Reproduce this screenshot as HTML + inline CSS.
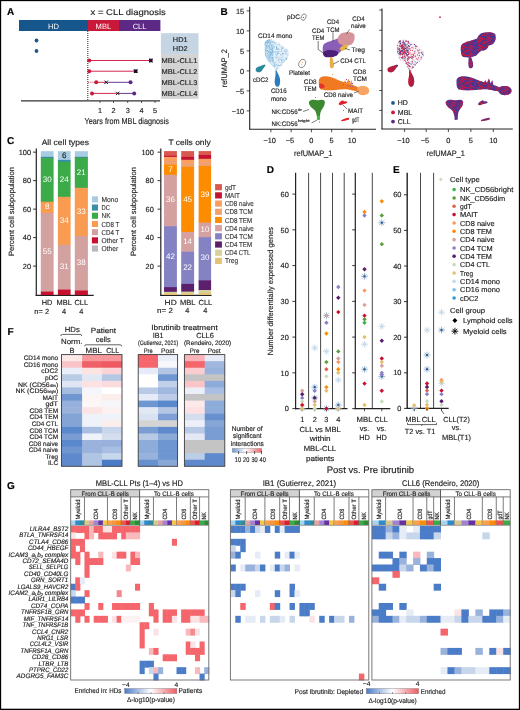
<!DOCTYPE html>
<html><head><meta charset="utf-8"><style>
html,body{margin:0;padding:0;background:#fff;}
svg{display:block;will-change:transform;}
text{font-family:"Liberation Sans", sans-serif;text-rendering:geometricPrecision;}
</style></head><body>
<svg width="520" height="710" viewBox="0 0 520 710">
<rect width="520" height="710" fill="#fff"/>
<text x="7.00" y="14.50" font-size="10" font-weight="bold" fill="#000" stroke="#000" stroke-width="0.15" >A</text>
<text x="90.60" y="14.51" font-size="8.4" textLength="75.20" lengthAdjust="spacingAndGlyphs" fill="#222" stroke="#222" stroke-width="0.15" >x = CLL diagnosis</text>
<rect x="19.00" y="20.00" width="69.00" height="11.00" fill="#17568c" />
<rect x="88.00" y="20.00" width="31.00" height="11.00" fill="#cc1838" />
<rect x="119.00" y="20.00" width="41.40" height="11.00" fill="#5c2a84" />
<text x="53.50" y="28.52" font-size="7.6" text-anchor="middle" fill="#fff" >HD</text>
<text x="103.40" y="28.52" font-size="7.6" text-anchor="middle" fill="#fff" >MBL</text>
<text x="139.60" y="28.52" font-size="7.6" text-anchor="middle" fill="#fff" >CLL</text>
<rect x="160.90" y="33.20" width="37.60" height="20.90" fill="#c5d5e3" />
<rect x="160.90" y="54.10" width="37.60" height="44.70" fill="#d3d3d3" />
<text x="180.20" y="42.11" font-size="7" text-anchor="middle" textLength="14.80" lengthAdjust="spacingAndGlyphs" fill="#222" stroke="#222" stroke-width="0.15" >HD1</text>
<text x="180.20" y="51.41" font-size="7" text-anchor="middle" textLength="14.80" lengthAdjust="spacingAndGlyphs" fill="#222" stroke="#222" stroke-width="0.15" >HD2</text>
<text x="161.60" y="62.81" font-size="7" textLength="35.70" lengthAdjust="spacingAndGlyphs" fill="#222" stroke="#222" stroke-width="0.15" >MBL-CLL1</text>
<text x="161.60" y="73.71" font-size="7" textLength="35.70" lengthAdjust="spacingAndGlyphs" fill="#222" stroke="#222" stroke-width="0.15" >MBL-CLL2</text>
<text x="161.60" y="84.81" font-size="7" textLength="35.70" lengthAdjust="spacingAndGlyphs" fill="#222" stroke="#222" stroke-width="0.15" >MBL-CLL3</text>
<text x="161.60" y="95.91" font-size="7" textLength="35.70" lengthAdjust="spacingAndGlyphs" fill="#222" stroke="#222" stroke-width="0.15" >MBL-CLL4</text>
<line x1="87.80" y1="31.00" x2="87.80" y2="100.50" stroke="#222" stroke-width="1.0" stroke-dasharray="1,1"/>
<circle cx="36.50" cy="40.50" r="1.90" fill="#1f5690" />
<circle cx="36.50" cy="51.00" r="1.90" fill="#1f5690" />
<line x1="89.20" y1="60.50" x2="150.80" y2="60.50" stroke="#d42850" stroke-width="1.0" />
<circle cx="89.20" cy="60.50" r="2.00" fill="#cc1838" />
<line x1="89.20" y1="71.20" x2="135.70" y2="71.20" stroke="#d42850" stroke-width="1.0" />
<circle cx="89.20" cy="71.20" r="2.00" fill="#cc1838" />
<line x1="88.00" y1="82.30" x2="96.00" y2="82.30" stroke="#d42850" stroke-width="0.8" stroke-dasharray="1,0.8"/>
<line x1="96.20" y1="82.30" x2="106.20" y2="82.30" stroke="#d42850" stroke-width="1.0" />
<line x1="106.20" y1="82.30" x2="130.50" y2="82.30" stroke="#6a3a92" stroke-width="1.0" />
<circle cx="96.20" cy="82.30" r="2.00" fill="#cc1838" />
<circle cx="130.50" cy="82.30" r="2.00" fill="#5c2a84" />
<line x1="92.00" y1="93.40" x2="117.70" y2="93.40" stroke="#d42850" stroke-width="1.0" />
<line x1="117.70" y1="93.40" x2="134.20" y2="93.40" stroke="#6a3a92" stroke-width="1.0" />
<circle cx="92.00" cy="93.40" r="2.00" fill="#cc1838" />
<circle cx="134.20" cy="93.40" r="2.00" fill="#5c2a84" />
<rect x="149.00" y="58.70" width="3.60" height="3.60" fill="#3a1a50" />
<path d="M149.10000000000002,58.8L152.5,62.2M149.10000000000002,62.2L152.5,58.8" fill="none" stroke="#000" stroke-width="0.9" />
<rect x="133.90" y="69.40" width="3.60" height="3.60" fill="#3a1a50" />
<path d="M134.0,69.5L137.39999999999998,72.9M134.0,72.9L137.39999999999998,69.5" fill="none" stroke="#000" stroke-width="0.9" />
<path d="M104.5,80.6L107.9,84.0M104.5,84.0L107.9,80.6" fill="none" stroke="#000" stroke-width="0.9" />
<path d="M116.0,91.7L119.4,95.10000000000001M116.0,95.10000000000001L119.4,91.7" fill="none" stroke="#000" stroke-width="0.9" />
<line x1="21.00" y1="100.90" x2="160.00" y2="100.90" stroke="#333" stroke-width="1.1" />
<line x1="100.00" y1="100.90" x2="100.00" y2="103.00" stroke="#333" stroke-width="0.8" />
<text x="100.00" y="112.51" font-size="7.3" text-anchor="middle" fill="#222" stroke="#222" stroke-width="0.15" >1</text>
<line x1="113.50" y1="100.90" x2="113.50" y2="103.00" stroke="#333" stroke-width="0.8" />
<text x="113.50" y="112.51" font-size="7.3" text-anchor="middle" fill="#222" stroke="#222" stroke-width="0.15" >2</text>
<line x1="127.70" y1="100.90" x2="127.70" y2="103.00" stroke="#333" stroke-width="0.8" />
<text x="127.70" y="112.51" font-size="7.3" text-anchor="middle" fill="#222" stroke="#222" stroke-width="0.15" >3</text>
<line x1="141.50" y1="100.90" x2="141.50" y2="103.00" stroke="#333" stroke-width="0.8" />
<text x="141.50" y="112.51" font-size="7.3" text-anchor="middle" fill="#222" stroke="#222" stroke-width="0.15" >4</text>
<line x1="155.00" y1="100.90" x2="155.00" y2="103.00" stroke="#333" stroke-width="0.8" />
<text x="155.00" y="112.51" font-size="7.3" text-anchor="middle" fill="#222" stroke="#222" stroke-width="0.15" >5</text>
<text x="84.60" y="124.29" font-size="8.5" textLength="84.40" lengthAdjust="spacingAndGlyphs" fill="#222" stroke="#222" stroke-width="0.15" >Years from MBL diagnosis</text>
<text x="220.40" y="15.20" font-size="10" font-weight="bold" fill="#000" stroke="#000" stroke-width="0.15" >B</text>
<line x1="249.70" y1="6.80" x2="249.70" y2="129.50" stroke="#222" stroke-width="1.1" />
<line x1="249.20" y1="129.20" x2="376.00" y2="129.20" stroke="#222" stroke-width="1.1" />
<line x1="246.60" y1="10.90" x2="249.70" y2="10.90" stroke="#222" stroke-width="0.8" />
<text x="244.20" y="13.55" font-size="7.4" text-anchor="end" fill="#222" stroke="#222" stroke-width="0.15" >15</text>
<line x1="246.60" y1="30.90" x2="249.70" y2="30.90" stroke="#222" stroke-width="0.8" />
<text x="244.20" y="33.55" font-size="7.4" text-anchor="end" fill="#222" stroke="#222" stroke-width="0.15" >10</text>
<line x1="246.60" y1="50.90" x2="249.70" y2="50.90" stroke="#222" stroke-width="0.8" />
<text x="244.20" y="53.55" font-size="7.4" text-anchor="end" fill="#222" stroke="#222" stroke-width="0.15" >5</text>
<line x1="246.60" y1="70.90" x2="249.70" y2="70.90" stroke="#222" stroke-width="0.8" />
<text x="244.20" y="73.55" font-size="7.4" text-anchor="end" fill="#222" stroke="#222" stroke-width="0.15" >0</text>
<line x1="246.60" y1="90.90" x2="249.70" y2="90.90" stroke="#222" stroke-width="0.8" />
<text x="244.20" y="93.55" font-size="7.4" text-anchor="end" fill="#222" stroke="#222" stroke-width="0.15" >−5</text>
<line x1="246.60" y1="110.90" x2="249.70" y2="110.90" stroke="#222" stroke-width="0.8" />
<text x="244.20" y="113.55" font-size="7.4" text-anchor="end" fill="#222" stroke="#222" stroke-width="0.15" >−10</text>
<line x1="270.90" y1="129.20" x2="270.90" y2="132.30" stroke="#222" stroke-width="0.8" />
<text x="269.70" y="142.55" font-size="7.4" text-anchor="middle" fill="#222" stroke="#222" stroke-width="0.15" >−10</text>
<line x1="291.15" y1="129.20" x2="291.15" y2="132.30" stroke="#222" stroke-width="0.8" />
<text x="289.95" y="142.55" font-size="7.4" text-anchor="middle" fill="#222" stroke="#222" stroke-width="0.15" >−5</text>
<line x1="311.40" y1="129.20" x2="311.40" y2="132.30" stroke="#222" stroke-width="0.8" />
<text x="311.40" y="142.55" font-size="7.4" text-anchor="middle" fill="#222" stroke="#222" stroke-width="0.15" >0</text>
<line x1="331.65" y1="129.20" x2="331.65" y2="132.30" stroke="#222" stroke-width="0.8" />
<text x="331.65" y="142.55" font-size="7.4" text-anchor="middle" fill="#222" stroke="#222" stroke-width="0.15" >5</text>
<line x1="351.90" y1="129.20" x2="351.90" y2="132.30" stroke="#222" stroke-width="0.8" />
<text x="351.90" y="142.55" font-size="7.4" text-anchor="middle" fill="#222" stroke="#222" stroke-width="0.15" >10</text>
<text x="313.20" y="156.36" font-size="8.0" text-anchor="middle" textLength="38.30" lengthAdjust="spacingAndGlyphs" fill="#222" stroke="#222" stroke-width="0.15" >refUMAP_1</text>
<text transform="translate(227.2,68.2) rotate(-90)" font-size="8" text-anchor="middle" fill="#222" stroke="#222" stroke-width="0.15" textLength="38" lengthAdjust="spacingAndGlyphs">refUMAP_2</text>
<path d="M264.3,44 C264.8,40.5 268.5,39.2 271.5,39.6 C276,41 281,44 285.5,48 C288,50 289.8,53 288.8,56 C287,60 283,63.5 280,67 C278.8,68.5 278,70 277.2,71.5 L276.3,71.5 C274.5,67.5 271,64 268,61 C265.5,58 264.3,52 264.3,44Z" fill="#e4eff7" stroke="none" stroke-width="1" />
<path d="M256,71 C255,69 256.5,67 259,66.5 C261,66 262.5,65 264.5,64.6 L265.6,65.4 C264.2,67 263,68.5 262,70.5 C260.5,72.8 257,73 256,71Z" fill="#2a8a9c" stroke="none" stroke-width="1" />
<path d="M275.4,70.5 L276.6,70.5 C277.5,73 279.5,76 280,79 C280.4,82 280,86 278,86.8 C275.6,87.2 274.5,84 274.7,81 C274.9,78 276,75 275.4,70.5Z" fill="#2b7dbf" stroke="none" stroke-width="1" />
<path d="M318.8,82 C318.5,78 321,76.3 326,76.3 C331,76.5 335,78.5 339,80.5 C343,82 347,83 351,84.5 C354,85.5 357,86.5 359,88 L359,91 C356,91.5 352,90.5 348,89.5 C344,89 340,89.5 336,90 C331,90.5 325,90.5 321,89.5 C319.2,88.5 318.8,85 318.8,82Z" fill="#f07a22" stroke="none" stroke-width="1" />
<path d="M343.5,84 L345,80 L346.5,83 L348.5,78.5 L350,83.5 L351.5,80 L352.5,85Z" fill="#f08a3a" stroke="none" stroke-width="1" />
<path d="M357,90 C357,87 360,85.5 364,86 C368,86.5 369.5,89 369,92 C368,94.8 364,95.5 361,95 C358.5,94.5 357,92.5 357,90Z" fill="#f7a465" stroke="none" stroke-width="1" />
<path d="M322.8,47 C323,43.5 327,42 331,41 C335,40 338,37.5 341.5,37.5 C344.5,38 345,42 344,45.5 C343,49 341,52 337,54.5 C333,57 328,57.8 325,56.5 C322.8,55 322.5,50 322.8,47Z" fill="#8a5db8" stroke="none" stroke-width="1" />
<path d="M337.7,40 C337.5,36 340.5,33 344.5,32.5 C348.5,32 353,32 354.3,34.5 C355.2,38 354.5,42 351.5,44.5 C348.5,46 344,45.5 341,44.5 C338.8,43.5 337.8,42 337.7,40Z" fill="#d4949a" stroke="none" stroke-width="1" />
<path d="M323.5,52 C326,49.5 331,49.5 335,50.5 C338,51.5 339.5,53 337,55.5 C333,57.5 327,58 324.5,56.5 C323,55.5 323,53 323.5,52Z" fill="#4d1f78" stroke="none" stroke-width="1" />
<path d="M339.5,48.5 C341,46 344.5,44.3 347.5,44.5 C348.8,45.5 347.5,48.5 345,50 C342.5,51.2 340.5,50.8 339.5,48.5Z" fill="#e6b444" stroke="none" stroke-width="1" />
<path d="M330,57 L332,57 C333.2,60 334.2,63 334,66 C333.6,68.5 330.8,69.2 330,67 C329.4,64 329.8,60 330,57Z" fill="#e8b04a" stroke="none" stroke-width="1" />
<path d="M309,103.5 C308.5,100.5 311,99.5 314,99.7 C316,99.8 317,100.6 318.5,100.3 C321,99.6 325,99.2 324.9,102.5 C324.7,106 322.5,108.5 321,111 C320,113 320,116 319.8,119.8 L317.2,119.8 C317,116 316.5,113 315,110.5 C313,108.5 309.5,106.5 309,103.5Z" fill="#3b8a32" stroke="none" stroke-width="1" />
<path d="M338.6,104 C339.5,101.5 341.5,101 343,100.3 L344,101.5 C345.5,101 347,101.5 347.3,102.5 C346,103.5 344,104 342,104.5 C340.5,105.5 339,105.5 338.6,104Z" fill="#e41e26" stroke="none" stroke-width="1" />
<path d="M341,120.5 C342,119.5 345,118.5 348.5,117.8 C349.5,118 349.5,119 348.5,119.8 C346,120.5 343.5,121.2 341.5,121.3Z" fill="#e41e26" stroke="none" stroke-width="1" />
<ellipse cx="318.5" cy="117.6" rx="1.6" ry="2.2" fill="#46b846"/>
<rect x="343.00" y="84.00" width="1.00" height="1.00" fill="#9a5ab0" />
<rect x="345.00" y="82.00" width="1.00" height="1.00" fill="#9a5ab0" />
<rect x="347.00" y="85.00" width="1.00" height="1.00" fill="#9a5ab0" />
<rect x="349.00" y="81.00" width="1.00" height="1.00" fill="#9a5ab0" />
<rect x="350.00" y="86.00" width="1.00" height="1.00" fill="#9a5ab0" />
<rect x="346.00" y="79.00" width="1.00" height="1.00" fill="#9a5ab0" />
<rect x="352.00" y="83.00" width="1.00" height="1.00" fill="#9a5ab0" />
<clipPath id="c14"><path d="M264.3,44 C264.8,40.5 268.5,39.2 271.5,39.6 C276,41 281,44 285.5,48 C288,50 289.8,53 288.8,56 C287,60 283,63.5 280,67 C278.8,68.5 278,70 277.2,71.5 L276.3,71.5 C274.5,67.5 271,64 268,61 C265.5,58 264.3,52 264.3,44Z"/></clipPath>
<g clip-path="url(#c14)"><rect x="283.3" y="65.0" width="0.8" height="0.8" fill="#8cc0e2"/><rect x="259.8" y="56.5" width="0.8" height="0.8" fill="#a6cde8"/><rect x="269.8" y="51.7" width="0.8" height="0.8" fill="#a6cde8"/><rect x="270.1" y="58.7" width="0.8" height="0.8" fill="#b8d8ee"/><rect x="269.6" y="63.7" width="0.8" height="0.8" fill="#b8d8ee"/><rect x="268.6" y="55.7" width="0.8" height="0.8" fill="#a6cde8"/><rect x="266.2" y="65.3" width="0.8" height="0.8" fill="#7fb6dc"/><rect x="270.1" y="62.6" width="0.8" height="0.8" fill="#5c9fcf"/><rect x="277.7" y="44.4" width="0.8" height="0.8" fill="#a6cde8"/><rect x="270.3" y="65.1" width="0.8" height="0.8" fill="#b8d8ee"/><rect x="267.5" y="48.8" width="0.8" height="0.8" fill="#a6cde8"/><rect x="270.9" y="49.3" width="0.8" height="0.8" fill="#8cc0e2"/><rect x="279.5" y="62.1" width="0.8" height="0.8" fill="#7fb6dc"/><rect x="269.7" y="47.5" width="0.8" height="0.8" fill="#b8d8ee"/><rect x="264.4" y="43.8" width="0.8" height="0.8" fill="#5c9fcf"/><rect x="264.6" y="63.5" width="0.8" height="0.8" fill="#b8d8ee"/><rect x="268.8" y="54.6" width="0.8" height="0.8" fill="#7fb6dc"/><rect x="264.8" y="58.1" width="0.8" height="0.8" fill="#8cc0e2"/><rect x="269.1" y="63.7" width="0.8" height="0.8" fill="#b8d8ee"/><rect x="265.4" y="59.9" width="0.8" height="0.8" fill="#7fb6dc"/><rect x="284.3" y="50.5" width="0.8" height="0.8" fill="#5c9fcf"/><rect x="271.4" y="64.5" width="0.8" height="0.8" fill="#7fb6dc"/><rect x="264.7" y="43.0" width="0.8" height="0.8" fill="#5c9fcf"/><rect x="278.2" y="48.6" width="0.8" height="0.8" fill="#5c9fcf"/><rect x="267.7" y="60.6" width="0.8" height="0.8" fill="#a6cde8"/><rect x="272.0" y="54.4" width="0.8" height="0.8" fill="#7fb6dc"/><rect x="261.6" y="39.9" width="0.8" height="0.8" fill="#8cc0e2"/><rect x="263.3" y="45.8" width="0.8" height="0.8" fill="#b8d8ee"/><rect x="272.9" y="60.6" width="0.8" height="0.8" fill="#5c9fcf"/><rect x="267.4" y="62.9" width="0.8" height="0.8" fill="#a6cde8"/><rect x="284.5" y="41.6" width="0.8" height="0.8" fill="#b8d8ee"/><rect x="267.3" y="40.6" width="0.8" height="0.8" fill="#b8d8ee"/><rect x="255.2" y="62.0" width="0.8" height="0.8" fill="#8cc0e2"/><rect x="271.9" y="52.2" width="0.8" height="0.8" fill="#5c9fcf"/><rect x="267.1" y="43.0" width="0.8" height="0.8" fill="#b8d8ee"/><rect x="277.8" y="44.1" width="0.8" height="0.8" fill="#b8d8ee"/><rect x="268.7" y="54.7" width="0.8" height="0.8" fill="#8cc0e2"/><rect x="286.6" y="50.3" width="0.8" height="0.8" fill="#5c9fcf"/><rect x="281.3" y="63.8" width="0.8" height="0.8" fill="#5c9fcf"/><rect x="281.4" y="66.4" width="0.8" height="0.8" fill="#5c9fcf"/><rect x="282.0" y="48.0" width="0.8" height="0.8" fill="#5c9fcf"/><rect x="279.1" y="38.4" width="0.8" height="0.8" fill="#8cc0e2"/><rect x="272.5" y="47.3" width="0.8" height="0.8" fill="#5c9fcf"/><rect x="280.8" y="65.1" width="0.8" height="0.8" fill="#5c9fcf"/><rect x="271.4" y="48.3" width="0.8" height="0.8" fill="#b8d8ee"/><rect x="271.9" y="57.6" width="0.8" height="0.8" fill="#5c9fcf"/><rect x="277.5" y="56.0" width="0.8" height="0.8" fill="#a6cde8"/><rect x="262.1" y="48.8" width="0.8" height="0.8" fill="#b8d8ee"/><rect x="272.6" y="50.2" width="0.8" height="0.8" fill="#8cc0e2"/><rect x="279.1" y="60.6" width="0.8" height="0.8" fill="#b8d8ee"/><rect x="270.5" y="53.9" width="0.8" height="0.8" fill="#5c9fcf"/><rect x="264.7" y="43.4" width="0.8" height="0.8" fill="#b8d8ee"/><rect x="268.7" y="63.8" width="0.8" height="0.8" fill="#a6cde8"/><rect x="265.1" y="54.0" width="0.8" height="0.8" fill="#a6cde8"/><rect x="269.3" y="65.1" width="0.8" height="0.8" fill="#b8d8ee"/><rect x="266.9" y="40.0" width="0.8" height="0.8" fill="#b8d8ee"/><rect x="267.3" y="44.5" width="0.8" height="0.8" fill="#5c9fcf"/><rect x="266.8" y="49.9" width="0.8" height="0.8" fill="#5c9fcf"/><rect x="286.5" y="61.4" width="0.8" height="0.8" fill="#8cc0e2"/><rect x="272.7" y="41.6" width="0.8" height="0.8" fill="#8cc0e2"/><rect x="288.7" y="48.0" width="0.8" height="0.8" fill="#5c9fcf"/><rect x="274.9" y="65.6" width="0.8" height="0.8" fill="#8cc0e2"/><rect x="269.1" y="42.8" width="0.8" height="0.8" fill="#8cc0e2"/><rect x="265.7" y="42.6" width="0.8" height="0.8" fill="#7fb6dc"/><rect x="268.3" y="63.1" width="0.8" height="0.8" fill="#7fb6dc"/><rect x="264.4" y="53.6" width="0.8" height="0.8" fill="#5c9fcf"/><rect x="287.2" y="50.8" width="0.8" height="0.8" fill="#b8d8ee"/><rect x="276.8" y="54.3" width="0.8" height="0.8" fill="#b8d8ee"/><rect x="274.9" y="62.1" width="0.8" height="0.8" fill="#a6cde8"/><rect x="270.8" y="71.4" width="0.8" height="0.8" fill="#b8d8ee"/><rect x="276.4" y="47.3" width="0.8" height="0.8" fill="#5c9fcf"/><rect x="269.0" y="39.6" width="0.8" height="0.8" fill="#8cc0e2"/><rect x="270.4" y="39.4" width="0.8" height="0.8" fill="#a6cde8"/><rect x="264.3" y="56.1" width="0.8" height="0.8" fill="#5c9fcf"/><rect x="267.1" y="52.2" width="0.8" height="0.8" fill="#a6cde8"/><rect x="271.4" y="54.7" width="0.8" height="0.8" fill="#b8d8ee"/><rect x="286.5" y="67.9" width="0.8" height="0.8" fill="#7fb6dc"/><rect x="268.2" y="42.4" width="0.8" height="0.8" fill="#5c9fcf"/><rect x="272.7" y="48.1" width="0.8" height="0.8" fill="#8cc0e2"/><rect x="264.9" y="60.9" width="0.8" height="0.8" fill="#a6cde8"/><rect x="272.3" y="45.8" width="0.8" height="0.8" fill="#b8d8ee"/><rect x="266.8" y="61.4" width="0.8" height="0.8" fill="#a6cde8"/><rect x="268.7" y="54.5" width="0.8" height="0.8" fill="#b8d8ee"/><rect x="285.9" y="54.2" width="0.8" height="0.8" fill="#a6cde8"/><rect x="276.1" y="63.8" width="0.8" height="0.8" fill="#5c9fcf"/><rect x="282.1" y="52.7" width="0.8" height="0.8" fill="#5c9fcf"/><rect x="276.3" y="48.6" width="0.8" height="0.8" fill="#a6cde8"/><rect x="264.4" y="53.8" width="0.8" height="0.8" fill="#b8d8ee"/><rect x="278.0" y="52.5" width="0.8" height="0.8" fill="#8cc0e2"/><rect x="265.8" y="45.8" width="0.8" height="0.8" fill="#7fb6dc"/><rect x="281.3" y="38.9" width="0.8" height="0.8" fill="#b8d8ee"/><rect x="290.0" y="61.8" width="0.8" height="0.8" fill="#7fb6dc"/><rect x="271.5" y="61.3" width="0.8" height="0.8" fill="#7fb6dc"/><rect x="267.5" y="47.9" width="0.8" height="0.8" fill="#b8d8ee"/><rect x="271.4" y="55.5" width="0.8" height="0.8" fill="#b8d8ee"/><rect x="265.7" y="45.2" width="0.8" height="0.8" fill="#8cc0e2"/><rect x="267.0" y="40.6" width="0.8" height="0.8" fill="#8cc0e2"/><rect x="268.9" y="49.8" width="0.8" height="0.8" fill="#8cc0e2"/><rect x="265.2" y="55.2" width="0.8" height="0.8" fill="#b8d8ee"/><rect x="269.3" y="56.7" width="0.8" height="0.8" fill="#7fb6dc"/><rect x="266.7" y="57.3" width="0.8" height="0.8" fill="#5c9fcf"/><rect x="278.4" y="59.1" width="0.8" height="0.8" fill="#5c9fcf"/><rect x="272.4" y="45.4" width="0.8" height="0.8" fill="#5c9fcf"/><rect x="267.5" y="46.0" width="0.8" height="0.8" fill="#5c9fcf"/><rect x="266.6" y="39.5" width="0.8" height="0.8" fill="#5c9fcf"/><rect x="269.2" y="57.0" width="0.8" height="0.8" fill="#7fb6dc"/><rect x="277.2" y="53.4" width="0.8" height="0.8" fill="#b8d8ee"/><rect x="276.5" y="49.0" width="0.8" height="0.8" fill="#8cc0e2"/><rect x="267.8" y="43.1" width="0.8" height="0.8" fill="#b8d8ee"/><rect x="269.8" y="41.9" width="0.8" height="0.8" fill="#b8d8ee"/><rect x="267.6" y="59.2" width="0.8" height="0.8" fill="#5c9fcf"/><rect x="271.5" y="69.6" width="0.8" height="0.8" fill="#5c9fcf"/><rect x="273.8" y="62.6" width="0.8" height="0.8" fill="#5c9fcf"/><rect x="284.9" y="52.7" width="0.8" height="0.8" fill="#5c9fcf"/><rect x="279.4" y="57.5" width="0.8" height="0.8" fill="#a6cde8"/><rect x="266.9" y="41.6" width="0.8" height="0.8" fill="#7fb6dc"/><rect x="269.4" y="64.3" width="0.8" height="0.8" fill="#5c9fcf"/><rect x="271.8" y="51.7" width="0.8" height="0.8" fill="#8cc0e2"/><rect x="272.4" y="53.7" width="0.8" height="0.8" fill="#a6cde8"/><rect x="269.8" y="49.4" width="0.8" height="0.8" fill="#b8d8ee"/><rect x="270.9" y="45.9" width="0.8" height="0.8" fill="#5c9fcf"/><rect x="283.5" y="60.8" width="0.8" height="0.8" fill="#7fb6dc"/><rect x="275.8" y="49.0" width="0.8" height="0.8" fill="#7fb6dc"/><rect x="281.5" y="54.0" width="0.8" height="0.8" fill="#a6cde8"/><rect x="269.6" y="57.1" width="0.8" height="0.8" fill="#5c9fcf"/><rect x="268.7" y="39.9" width="0.8" height="0.8" fill="#7fb6dc"/><rect x="281.1" y="59.0" width="0.8" height="0.8" fill="#5c9fcf"/><rect x="268.8" y="50.3" width="0.8" height="0.8" fill="#7fb6dc"/><rect x="282.7" y="43.6" width="0.8" height="0.8" fill="#a6cde8"/><rect x="279.1" y="44.6" width="0.8" height="0.8" fill="#7fb6dc"/><rect x="275.2" y="71.2" width="0.8" height="0.8" fill="#7fb6dc"/><rect x="262.9" y="43.6" width="0.8" height="0.8" fill="#7fb6dc"/><rect x="289.7" y="55.6" width="0.8" height="0.8" fill="#5c9fcf"/><rect x="282.6" y="46.1" width="0.8" height="0.8" fill="#b8d8ee"/><rect x="269.5" y="51.7" width="0.8" height="0.8" fill="#a6cde8"/><rect x="276.9" y="64.6" width="0.8" height="0.8" fill="#7fb6dc"/><rect x="265.5" y="40.4" width="0.8" height="0.8" fill="#7fb6dc"/><rect x="269.1" y="61.7" width="0.8" height="0.8" fill="#b8d8ee"/><rect x="269.6" y="45.3" width="0.8" height="0.8" fill="#5c9fcf"/><rect x="266.3" y="71.5" width="0.8" height="0.8" fill="#a6cde8"/><rect x="286.3" y="45.3" width="0.8" height="0.8" fill="#7fb6dc"/><rect x="265.7" y="59.7" width="0.8" height="0.8" fill="#8cc0e2"/><rect x="282.9" y="69.0" width="0.8" height="0.8" fill="#5c9fcf"/><rect x="287.2" y="72.0" width="0.8" height="0.8" fill="#8cc0e2"/><rect x="270.9" y="47.4" width="0.8" height="0.8" fill="#7fb6dc"/><rect x="270.9" y="51.7" width="0.8" height="0.8" fill="#a6cde8"/><rect x="270.3" y="41.3" width="0.8" height="0.8" fill="#b8d8ee"/><rect x="281.3" y="47.4" width="0.8" height="0.8" fill="#b8d8ee"/><rect x="265.2" y="44.8" width="0.8" height="0.8" fill="#5c9fcf"/><rect x="287.0" y="40.4" width="0.8" height="0.8" fill="#5c9fcf"/><rect x="269.3" y="59.8" width="0.8" height="0.8" fill="#7fb6dc"/><rect x="281.0" y="63.8" width="0.8" height="0.8" fill="#8cc0e2"/><rect x="271.3" y="60.1" width="0.8" height="0.8" fill="#7fb6dc"/><rect x="282.2" y="47.1" width="0.8" height="0.8" fill="#b8d8ee"/><rect x="272.4" y="48.4" width="0.8" height="0.8" fill="#a6cde8"/><rect x="272.2" y="57.2" width="0.8" height="0.8" fill="#5c9fcf"/><rect x="262.5" y="39.8" width="0.8" height="0.8" fill="#7fb6dc"/><rect x="266.5" y="42.5" width="0.8" height="0.8" fill="#5c9fcf"/><rect x="267.6" y="39.4" width="0.8" height="0.8" fill="#8cc0e2"/><rect x="276.6" y="48.8" width="0.8" height="0.8" fill="#5c9fcf"/><rect x="270.5" y="43.4" width="0.8" height="0.8" fill="#7fb6dc"/><rect x="272.2" y="55.4" width="0.8" height="0.8" fill="#a6cde8"/><rect x="273.8" y="42.2" width="0.8" height="0.8" fill="#5c9fcf"/><rect x="265.7" y="45.2" width="0.8" height="0.8" fill="#8cc0e2"/><rect x="262.4" y="64.3" width="0.8" height="0.8" fill="#8cc0e2"/><rect x="270.2" y="52.3" width="0.8" height="0.8" fill="#7fb6dc"/><rect x="269.4" y="40.4" width="0.8" height="0.8" fill="#7fb6dc"/><rect x="264.6" y="54.6" width="0.8" height="0.8" fill="#b8d8ee"/><rect x="273.2" y="53.8" width="0.8" height="0.8" fill="#a6cde8"/><rect x="269.4" y="48.6" width="0.8" height="0.8" fill="#a6cde8"/><rect x="272.3" y="60.8" width="0.8" height="0.8" fill="#7fb6dc"/><rect x="274.4" y="42.9" width="0.8" height="0.8" fill="#a6cde8"/><rect x="270.1" y="41.7" width="0.8" height="0.8" fill="#5c9fcf"/><rect x="269.2" y="65.1" width="0.8" height="0.8" fill="#5c9fcf"/><rect x="268.5" y="51.7" width="0.8" height="0.8" fill="#8cc0e2"/><rect x="284.8" y="50.8" width="0.8" height="0.8" fill="#7fb6dc"/><rect x="264.2" y="61.0" width="0.8" height="0.8" fill="#7fb6dc"/><rect x="265.0" y="39.7" width="0.8" height="0.8" fill="#5c9fcf"/><rect x="277.0" y="56.6" width="0.8" height="0.8" fill="#b8d8ee"/><rect x="269.1" y="64.2" width="0.8" height="0.8" fill="#8cc0e2"/><rect x="278.0" y="65.2" width="0.8" height="0.8" fill="#5c9fcf"/><rect x="264.5" y="64.2" width="0.8" height="0.8" fill="#a6cde8"/><rect x="263.5" y="41.1" width="0.8" height="0.8" fill="#7fb6dc"/><rect x="279.9" y="67.3" width="0.8" height="0.8" fill="#b8d8ee"/><rect x="270.5" y="58.3" width="0.8" height="0.8" fill="#7fb6dc"/><rect x="266.8" y="41.4" width="0.8" height="0.8" fill="#5c9fcf"/><rect x="281.9" y="66.5" width="0.8" height="0.8" fill="#8cc0e2"/><rect x="269.4" y="55.6" width="0.8" height="0.8" fill="#7fb6dc"/><rect x="272.3" y="49.6" width="0.8" height="0.8" fill="#7fb6dc"/><rect x="273.8" y="63.5" width="0.8" height="0.8" fill="#8cc0e2"/><rect x="287.7" y="58.9" width="0.8" height="0.8" fill="#b8d8ee"/><rect x="267.3" y="61.8" width="0.8" height="0.8" fill="#8cc0e2"/><rect x="289.6" y="46.5" width="0.8" height="0.8" fill="#7fb6dc"/><rect x="267.1" y="55.8" width="0.8" height="0.8" fill="#a6cde8"/><rect x="270.6" y="50.2" width="0.8" height="0.8" fill="#a6cde8"/><rect x="272.2" y="61.4" width="0.8" height="0.8" fill="#8cc0e2"/><rect x="274.8" y="52.5" width="0.8" height="0.8" fill="#8cc0e2"/><rect x="270.4" y="52.2" width="0.8" height="0.8" fill="#7fb6dc"/><rect x="289.1" y="44.4" width="0.8" height="0.8" fill="#7fb6dc"/><rect x="269.7" y="47.0" width="0.8" height="0.8" fill="#8cc0e2"/><rect x="268.8" y="44.5" width="0.8" height="0.8" fill="#8cc0e2"/><rect x="268.7" y="41.1" width="0.8" height="0.8" fill="#b8d8ee"/><rect x="264.9" y="53.0" width="0.8" height="0.8" fill="#7fb6dc"/><rect x="271.0" y="64.0" width="0.8" height="0.8" fill="#a6cde8"/><rect x="280.0" y="65.1" width="0.8" height="0.8" fill="#7fb6dc"/><rect x="263.9" y="57.2" width="0.8" height="0.8" fill="#7fb6dc"/><rect x="270.8" y="41.8" width="0.8" height="0.8" fill="#b8d8ee"/><rect x="285.2" y="65.3" width="0.8" height="0.8" fill="#8cc0e2"/><rect x="280.3" y="70.8" width="0.8" height="0.8" fill="#7fb6dc"/><rect x="272.0" y="61.0" width="0.8" height="0.8" fill="#a6cde8"/><rect x="265.3" y="57.4" width="0.8" height="0.8" fill="#7fb6dc"/><rect x="270.8" y="64.4" width="0.8" height="0.8" fill="#b8d8ee"/><rect x="271.5" y="49.1" width="0.8" height="0.8" fill="#7fb6dc"/><rect x="271.2" y="65.0" width="0.8" height="0.8" fill="#7fb6dc"/><rect x="273.1" y="39.4" width="0.8" height="0.8" fill="#b8d8ee"/><rect x="283.5" y="44.6" width="0.8" height="0.8" fill="#5c9fcf"/><rect x="265.9" y="46.8" width="0.8" height="0.8" fill="#b8d8ee"/><rect x="283.9" y="41.0" width="0.8" height="0.8" fill="#7fb6dc"/><rect x="264.5" y="53.0" width="0.8" height="0.8" fill="#7fb6dc"/><rect x="273.8" y="65.6" width="0.8" height="0.8" fill="#5c9fcf"/><rect x="265.9" y="47.2" width="0.8" height="0.8" fill="#7fb6dc"/><rect x="275.2" y="44.1" width="0.8" height="0.8" fill="#b8d8ee"/><rect x="270.4" y="53.4" width="0.8" height="0.8" fill="#a6cde8"/><rect x="264.1" y="64.0" width="0.8" height="0.8" fill="#5c9fcf"/><rect x="264.6" y="57.1" width="0.8" height="0.8" fill="#b8d8ee"/><rect x="266.0" y="71.0" width="0.8" height="0.8" fill="#a6cde8"/><rect x="275.5" y="54.0" width="0.8" height="0.8" fill="#7fb6dc"/><rect x="279.6" y="66.5" width="0.8" height="0.8" fill="#b8d8ee"/><rect x="265.4" y="51.4" width="0.8" height="0.8" fill="#8cc0e2"/><rect x="261.7" y="56.4" width="0.8" height="0.8" fill="#8cc0e2"/><rect x="263.8" y="39.6" width="0.8" height="0.8" fill="#b8d8ee"/><rect x="285.4" y="52.7" width="0.8" height="0.8" fill="#b8d8ee"/><rect x="268.8" y="48.1" width="0.8" height="0.8" fill="#5c9fcf"/><rect x="275.0" y="71.1" width="0.8" height="0.8" fill="#5c9fcf"/><rect x="266.1" y="50.4" width="0.8" height="0.8" fill="#5c9fcf"/><rect x="267.8" y="56.1" width="0.8" height="0.8" fill="#a6cde8"/><rect x="266.0" y="61.4" width="0.8" height="0.8" fill="#7fb6dc"/><rect x="287.0" y="44.7" width="0.8" height="0.8" fill="#7fb6dc"/><rect x="276.8" y="48.8" width="0.8" height="0.8" fill="#b8d8ee"/><rect x="268.2" y="45.4" width="0.8" height="0.8" fill="#5c9fcf"/><rect x="264.8" y="44.3" width="0.8" height="0.8" fill="#b8d8ee"/><rect x="271.5" y="48.0" width="0.8" height="0.8" fill="#a6cde8"/><rect x="271.7" y="53.0" width="0.8" height="0.8" fill="#8cc0e2"/><rect x="271.9" y="49.1" width="0.8" height="0.8" fill="#5c9fcf"/><rect x="278.2" y="53.1" width="0.8" height="0.8" fill="#a6cde8"/><rect x="267.7" y="38.6" width="0.8" height="0.8" fill="#7fb6dc"/><rect x="267.5" y="54.4" width="0.8" height="0.8" fill="#7fb6dc"/><rect x="271.2" y="59.8" width="0.8" height="0.8" fill="#b8d8ee"/><rect x="267.5" y="47.3" width="0.8" height="0.8" fill="#8cc0e2"/><rect x="265.5" y="57.7" width="0.8" height="0.8" fill="#5c9fcf"/><rect x="278.5" y="52.9" width="0.8" height="0.8" fill="#7fb6dc"/><rect x="288.0" y="50.6" width="0.8" height="0.8" fill="#8cc0e2"/><rect x="263.9" y="49.5" width="0.8" height="0.8" fill="#b8d8ee"/><rect x="265.7" y="43.5" width="0.8" height="0.8" fill="#7fb6dc"/><rect x="265.4" y="45.2" width="0.8" height="0.8" fill="#8cc0e2"/><rect x="270.6" y="53.9" width="0.8" height="0.8" fill="#b8d8ee"/><rect x="266.7" y="48.5" width="0.8" height="0.8" fill="#b8d8ee"/><rect x="263.8" y="40.1" width="0.8" height="0.8" fill="#7fb6dc"/><rect x="266.2" y="62.9" width="0.8" height="0.8" fill="#5c9fcf"/><rect x="270.8" y="47.4" width="0.8" height="0.8" fill="#a6cde8"/><rect x="270.8" y="66.2" width="0.8" height="0.8" fill="#5c9fcf"/><rect x="266.2" y="46.1" width="0.8" height="0.8" fill="#b8d8ee"/><rect x="285.7" y="58.2" width="0.8" height="0.8" fill="#8cc0e2"/><rect x="266.1" y="59.0" width="0.8" height="0.8" fill="#8cc0e2"/><rect x="262.8" y="55.5" width="0.8" height="0.8" fill="#7fb6dc"/><rect x="269.5" y="50.1" width="0.8" height="0.8" fill="#b8d8ee"/><rect x="279.9" y="58.8" width="0.8" height="0.8" fill="#a6cde8"/><rect x="282.1" y="62.0" width="0.8" height="0.8" fill="#8cc0e2"/><rect x="271.5" y="56.5" width="0.8" height="0.8" fill="#8cc0e2"/><rect x="265.8" y="59.9" width="0.8" height="0.8" fill="#5c9fcf"/><rect x="269.6" y="59.4" width="0.8" height="0.8" fill="#5c9fcf"/><rect x="265.8" y="47.7" width="0.8" height="0.8" fill="#b8d8ee"/><rect x="274.9" y="43.2" width="0.8" height="0.8" fill="#a6cde8"/><rect x="272.2" y="58.8" width="0.8" height="0.8" fill="#b8d8ee"/><rect x="267.1" y="50.5" width="0.8" height="0.8" fill="#8cc0e2"/><rect x="274.3" y="44.7" width="0.8" height="0.8" fill="#b8d8ee"/><rect x="269.1" y="52.6" width="0.8" height="0.8" fill="#8cc0e2"/><rect x="271.7" y="54.2" width="0.8" height="0.8" fill="#8cc0e2"/><rect x="287.4" y="56.9" width="0.8" height="0.8" fill="#a6cde8"/><rect x="268.4" y="60.2" width="0.8" height="0.8" fill="#5c9fcf"/><rect x="270.1" y="48.7" width="0.8" height="0.8" fill="#8cc0e2"/><rect x="269.7" y="56.0" width="0.8" height="0.8" fill="#7fb6dc"/><rect x="267.0" y="64.2" width="0.8" height="0.8" fill="#5c9fcf"/><rect x="270.0" y="59.4" width="0.8" height="0.8" fill="#a6cde8"/><rect x="265.9" y="65.2" width="0.8" height="0.8" fill="#b8d8ee"/><rect x="265.0" y="41.7" width="0.8" height="0.8" fill="#5c9fcf"/><rect x="272.1" y="48.0" width="0.8" height="0.8" fill="#5c9fcf"/><rect x="273.1" y="62.5" width="0.8" height="0.8" fill="#7fb6dc"/><rect x="268.9" y="41.6" width="0.8" height="0.8" fill="#8cc0e2"/><rect x="268.4" y="51.5" width="0.8" height="0.8" fill="#7fb6dc"/><rect x="272.5" y="46.8" width="0.8" height="0.8" fill="#7fb6dc"/><rect x="272.4" y="50.3" width="0.8" height="0.8" fill="#7fb6dc"/><rect x="268.8" y="41.8" width="0.8" height="0.8" fill="#a6cde8"/><rect x="266.6" y="65.7" width="0.8" height="0.8" fill="#8cc0e2"/><rect x="267.7" y="42.1" width="0.8" height="0.8" fill="#5c9fcf"/><rect x="289.3" y="52.5" width="0.8" height="0.8" fill="#a6cde8"/><rect x="289.5" y="42.5" width="0.8" height="0.8" fill="#a6cde8"/><rect x="272.5" y="65.6" width="0.8" height="0.8" fill="#8cc0e2"/><rect x="265.6" y="56.3" width="0.8" height="0.8" fill="#5c9fcf"/><rect x="274.5" y="63.8" width="0.8" height="0.8" fill="#8cc0e2"/><rect x="270.7" y="43.6" width="0.8" height="0.8" fill="#5c9fcf"/><rect x="263.5" y="41.7" width="0.8" height="0.8" fill="#8cc0e2"/><rect x="271.1" y="57.8" width="0.8" height="0.8" fill="#7fb6dc"/><rect x="268.3" y="56.3" width="0.8" height="0.8" fill="#b8d8ee"/><rect x="270.6" y="51.5" width="0.8" height="0.8" fill="#a6cde8"/><rect x="276.5" y="48.1" width="0.8" height="0.8" fill="#5c9fcf"/><rect x="282.1" y="56.4" width="0.8" height="0.8" fill="#8cc0e2"/><rect x="268.3" y="55.0" width="0.8" height="0.8" fill="#b8d8ee"/><rect x="277.6" y="58.5" width="0.8" height="0.8" fill="#8cc0e2"/><rect x="264.8" y="62.7" width="0.8" height="0.8" fill="#a6cde8"/><rect x="271.6" y="50.6" width="0.8" height="0.8" fill="#a6cde8"/><rect x="270.9" y="39.9" width="0.8" height="0.8" fill="#b8d8ee"/><rect x="272.1" y="67.0" width="0.8" height="0.8" fill="#5c9fcf"/><rect x="276.1" y="61.6" width="0.8" height="0.8" fill="#b8d8ee"/><rect x="267.5" y="58.2" width="0.8" height="0.8" fill="#8cc0e2"/><rect x="264.4" y="57.6" width="0.8" height="0.8" fill="#7fb6dc"/><rect x="276.6" y="53.8" width="0.8" height="0.8" fill="#5c9fcf"/><rect x="263.9" y="53.5" width="0.8" height="0.8" fill="#b8d8ee"/><rect x="283.2" y="43.7" width="0.8" height="0.8" fill="#a6cde8"/><rect x="270.2" y="66.2" width="0.8" height="0.8" fill="#7fb6dc"/><rect x="266.4" y="46.4" width="0.8" height="0.8" fill="#7fb6dc"/><rect x="266.0" y="45.4" width="0.8" height="0.8" fill="#7fb6dc"/><rect x="277.1" y="52.8" width="0.8" height="0.8" fill="#5c9fcf"/><rect x="271.7" y="53.9" width="0.8" height="0.8" fill="#b8d8ee"/><rect x="282.9" y="68.3" width="0.8" height="0.8" fill="#8cc0e2"/><rect x="267.8" y="39.9" width="0.8" height="0.8" fill="#7fb6dc"/><rect x="270.5" y="44.1" width="0.8" height="0.8" fill="#a6cde8"/><rect x="262.2" y="51.9" width="0.8" height="0.8" fill="#8cc0e2"/><rect x="270.4" y="59.8" width="0.8" height="0.8" fill="#8cc0e2"/><rect x="285.7" y="58.9" width="0.8" height="0.8" fill="#8cc0e2"/><rect x="265.8" y="52.6" width="0.8" height="0.8" fill="#7fb6dc"/><rect x="269.2" y="56.2" width="0.8" height="0.8" fill="#7fb6dc"/><rect x="264.9" y="49.7" width="0.8" height="0.8" fill="#7fb6dc"/><rect x="266.3" y="49.5" width="0.8" height="0.8" fill="#a6cde8"/><rect x="267.0" y="51.1" width="0.8" height="0.8" fill="#a6cde8"/><rect x="273.4" y="49.9" width="0.8" height="0.8" fill="#b8d8ee"/><rect x="270.7" y="53.2" width="0.8" height="0.8" fill="#a6cde8"/><rect x="286.4" y="61.2" width="0.8" height="0.8" fill="#7fb6dc"/><rect x="287.8" y="65.0" width="0.8" height="0.8" fill="#b8d8ee"/><rect x="287.4" y="57.1" width="0.8" height="0.8" fill="#b8d8ee"/><rect x="269.3" y="57.8" width="0.8" height="0.8" fill="#7fb6dc"/><rect x="267.3" y="53.4" width="0.8" height="0.8" fill="#a6cde8"/><rect x="272.0" y="48.8" width="0.8" height="0.8" fill="#a6cde8"/><rect x="268.7" y="56.5" width="0.8" height="0.8" fill="#b8d8ee"/><rect x="283.3" y="61.8" width="0.8" height="0.8" fill="#b8d8ee"/><rect x="285.7" y="49.1" width="0.8" height="0.8" fill="#7fb6dc"/><rect x="270.7" y="48.9" width="0.8" height="0.8" fill="#7fb6dc"/><rect x="273.6" y="68.1" width="0.8" height="0.8" fill="#5c9fcf"/><rect x="275.7" y="69.2" width="0.8" height="0.8" fill="#8cc0e2"/><rect x="274.7" y="51.4" width="0.8" height="0.8" fill="#8cc0e2"/><rect x="269.1" y="47.0" width="0.8" height="0.8" fill="#8cc0e2"/><rect x="265.7" y="53.5" width="0.8" height="0.8" fill="#a6cde8"/><rect x="266.3" y="41.2" width="0.8" height="0.8" fill="#5c9fcf"/><rect x="265.5" y="47.7" width="0.8" height="0.8" fill="#7fb6dc"/><rect x="267.2" y="53.0" width="0.8" height="0.8" fill="#7fb6dc"/><rect x="286.6" y="61.2" width="0.8" height="0.8" fill="#7fb6dc"/><rect x="266.4" y="52.9" width="0.8" height="0.8" fill="#b8d8ee"/><rect x="266.8" y="55.6" width="0.8" height="0.8" fill="#8cc0e2"/><rect x="271.5" y="57.2" width="0.8" height="0.8" fill="#a6cde8"/><rect x="285.6" y="58.1" width="0.8" height="0.8" fill="#7fb6dc"/><rect x="271.6" y="41.3" width="0.8" height="0.8" fill="#5c9fcf"/><rect x="275.0" y="71.6" width="0.8" height="0.8" fill="#a6cde8"/><rect x="270.5" y="61.4" width="0.8" height="0.8" fill="#b8d8ee"/><rect x="269.9" y="57.5" width="0.8" height="0.8" fill="#b8d8ee"/><rect x="288.2" y="58.2" width="0.8" height="0.8" fill="#5c9fcf"/><rect x="260.9" y="53.2" width="0.8" height="0.8" fill="#8cc0e2"/><rect x="286.0" y="57.4" width="0.8" height="0.8" fill="#b8d8ee"/><rect x="269.8" y="44.3" width="0.8" height="0.8" fill="#b8d8ee"/><rect x="267.2" y="40.2" width="0.8" height="0.8" fill="#5c9fcf"/><rect x="272.0" y="50.4" width="0.8" height="0.8" fill="#8cc0e2"/><rect x="266.8" y="38.3" width="0.8" height="0.8" fill="#a6cde8"/><rect x="265.1" y="41.7" width="0.8" height="0.8" fill="#7fb6dc"/><rect x="272.3" y="46.7" width="0.8" height="0.8" fill="#a6cde8"/><rect x="270.4" y="51.3" width="0.8" height="0.8" fill="#a6cde8"/><rect x="277.7" y="71.9" width="0.8" height="0.8" fill="#8cc0e2"/><rect x="285.9" y="59.1" width="0.8" height="0.8" fill="#7fb6dc"/><rect x="265.0" y="55.9" width="0.8" height="0.8" fill="#7fb6dc"/><rect x="268.5" y="46.4" width="0.8" height="0.8" fill="#5c9fcf"/><rect x="288.4" y="51.3" width="0.8" height="0.8" fill="#b8d8ee"/><rect x="267.4" y="63.4" width="0.8" height="0.8" fill="#8cc0e2"/><rect x="267.6" y="50.1" width="0.8" height="0.8" fill="#b8d8ee"/><rect x="270.1" y="44.3" width="0.8" height="0.8" fill="#a6cde8"/><rect x="265.1" y="46.7" width="0.8" height="0.8" fill="#7fb6dc"/><rect x="265.5" y="44.2" width="0.8" height="0.8" fill="#b8d8ee"/><rect x="263.4" y="52.6" width="0.8" height="0.8" fill="#7fb6dc"/><rect x="272.0" y="49.5" width="0.8" height="0.8" fill="#8cc0e2"/><rect x="268.0" y="61.9" width="0.8" height="0.8" fill="#7fb6dc"/><rect x="265.2" y="53.2" width="0.8" height="0.8" fill="#7fb6dc"/><rect x="289.8" y="49.2" width="0.8" height="0.8" fill="#5c9fcf"/><rect x="268.0" y="51.3" width="0.8" height="0.8" fill="#7fb6dc"/><rect x="283.7" y="41.7" width="0.8" height="0.8" fill="#5c9fcf"/><rect x="272.0" y="59.8" width="0.8" height="0.8" fill="#8cc0e2"/><rect x="285.7" y="64.6" width="0.8" height="0.8" fill="#5c9fcf"/><rect x="265.1" y="60.0" width="0.8" height="0.8" fill="#5c9fcf"/><rect x="270.5" y="52.3" width="0.8" height="0.8" fill="#7fb6dc"/><rect x="276.2" y="45.9" width="0.8" height="0.8" fill="#7fb6dc"/><rect x="283.0" y="69.0" width="0.8" height="0.8" fill="#8cc0e2"/><rect x="273.0" y="57.0" width="0.8" height="0.8" fill="#7fb6dc"/><rect x="270.6" y="51.4" width="0.8" height="0.8" fill="#7fb6dc"/><rect x="288.0" y="48.9" width="0.8" height="0.8" fill="#a6cde8"/><rect x="276.7" y="66.5" width="0.8" height="0.8" fill="#7fb6dc"/><rect x="272.4" y="51.4" width="0.8" height="0.8" fill="#5c9fcf"/><rect x="268.6" y="44.8" width="0.8" height="0.8" fill="#8cc0e2"/><rect x="268.3" y="54.8" width="0.8" height="0.8" fill="#a6cde8"/><rect x="278.7" y="41.0" width="0.8" height="0.8" fill="#a6cde8"/><rect x="268.4" y="56.9" width="0.8" height="0.8" fill="#8cc0e2"/><rect x="269.0" y="59.5" width="0.8" height="0.8" fill="#a6cde8"/><rect x="266.4" y="55.0" width="0.8" height="0.8" fill="#8cc0e2"/><rect x="271.4" y="57.7" width="0.8" height="0.8" fill="#7fb6dc"/><rect x="279.3" y="65.2" width="0.8" height="0.8" fill="#7fb6dc"/><rect x="280.6" y="57.3" width="0.8" height="0.8" fill="#8cc0e2"/><rect x="264.4" y="38.5" width="0.8" height="0.8" fill="#a6cde8"/><rect x="281.0" y="48.6" width="0.8" height="0.8" fill="#5c9fcf"/><rect x="286.2" y="58.6" width="0.8" height="0.8" fill="#5c9fcf"/><rect x="264.4" y="51.0" width="0.8" height="0.8" fill="#8cc0e2"/><rect x="283.3" y="58.8" width="0.8" height="0.8" fill="#7fb6dc"/><rect x="268.7" y="56.6" width="0.8" height="0.8" fill="#a6cde8"/><rect x="269.9" y="63.6" width="0.8" height="0.8" fill="#7fb6dc"/><rect x="272.1" y="41.8" width="0.8" height="0.8" fill="#a6cde8"/><rect x="271.0" y="45.2" width="0.8" height="0.8" fill="#5c9fcf"/><rect x="273.8" y="65.5" width="0.8" height="0.8" fill="#7fb6dc"/><rect x="266.0" y="57.0" width="0.8" height="0.8" fill="#b8d8ee"/><rect x="265.6" y="71.6" width="0.8" height="0.8" fill="#b8d8ee"/><rect x="265.2" y="55.2" width="0.8" height="0.8" fill="#5c9fcf"/><rect x="268.2" y="57.5" width="0.8" height="0.8" fill="#5c9fcf"/><rect x="269.9" y="43.4" width="0.8" height="0.8" fill="#b8d8ee"/><rect x="282.4" y="61.9" width="0.8" height="0.8" fill="#a6cde8"/><rect x="284.4" y="60.4" width="0.8" height="0.8" fill="#5c9fcf"/><rect x="269.9" y="54.7" width="0.8" height="0.8" fill="#8cc0e2"/><rect x="268.6" y="65.6" width="0.8" height="0.8" fill="#b8d8ee"/><rect x="275.5" y="57.3" width="0.8" height="0.8" fill="#a6cde8"/><rect x="263.1" y="58.3" width="0.8" height="0.8" fill="#a6cde8"/><rect x="268.9" y="53.6" width="0.8" height="0.8" fill="#7fb6dc"/><rect x="267.8" y="54.5" width="0.8" height="0.8" fill="#8cc0e2"/><rect x="267.6" y="41.8" width="0.8" height="0.8" fill="#7fb6dc"/><rect x="265.7" y="52.5" width="0.8" height="0.8" fill="#a6cde8"/><rect x="283.7" y="49.3" width="0.8" height="0.8" fill="#b8d8ee"/><rect x="281.4" y="59.7" width="0.8" height="0.8" fill="#5c9fcf"/><rect x="289.2" y="54.8" width="0.8" height="0.8" fill="#b8d8ee"/><rect x="287.2" y="49.0" width="0.8" height="0.8" fill="#8cc0e2"/><rect x="263.0" y="52.5" width="0.8" height="0.8" fill="#7fb6dc"/><rect x="265.4" y="65.2" width="0.8" height="0.8" fill="#a6cde8"/><rect x="270.3" y="60.7" width="0.8" height="0.8" fill="#8cc0e2"/><rect x="267.2" y="63.9" width="0.8" height="0.8" fill="#a6cde8"/><rect x="267.8" y="39.0" width="0.8" height="0.8" fill="#7fb6dc"/><rect x="270.2" y="47.8" width="0.8" height="0.8" fill="#a6cde8"/><rect x="273.2" y="46.5" width="0.8" height="0.8" fill="#5c9fcf"/><rect x="271.3" y="54.1" width="0.8" height="0.8" fill="#5c9fcf"/><rect x="265.3" y="42.9" width="0.8" height="0.8" fill="#7fb6dc"/><rect x="267.6" y="47.1" width="0.8" height="0.8" fill="#a6cde8"/><rect x="286.7" y="48.8" width="0.8" height="0.8" fill="#a6cde8"/><rect x="270.9" y="39.1" width="0.8" height="0.8" fill="#5c9fcf"/><rect x="277.7" y="51.3" width="0.8" height="0.8" fill="#7fb6dc"/><rect x="264.2" y="48.4" width="0.8" height="0.8" fill="#b8d8ee"/><rect x="265.7" y="58.4" width="0.8" height="0.8" fill="#a6cde8"/><rect x="274.8" y="46.5" width="0.8" height="0.8" fill="#b8d8ee"/><rect x="266.4" y="53.1" width="0.8" height="0.8" fill="#b8d8ee"/><rect x="267.2" y="41.7" width="0.8" height="0.8" fill="#8cc0e2"/><rect x="270.4" y="52.4" width="0.8" height="0.8" fill="#7fb6dc"/><rect x="280.7" y="55.3" width="0.8" height="0.8" fill="#b8d8ee"/><rect x="281.5" y="60.9" width="0.8" height="0.8" fill="#8cc0e2"/><rect x="269.2" y="62.2" width="0.8" height="0.8" fill="#7fb6dc"/><rect x="257.2" y="49.9" width="0.8" height="0.8" fill="#7fb6dc"/><rect x="276.2" y="57.1" width="0.8" height="0.8" fill="#5c9fcf"/><rect x="270.7" y="45.7" width="0.8" height="0.8" fill="#b8d8ee"/><rect x="269.3" y="63.0" width="0.8" height="0.8" fill="#8cc0e2"/><rect x="289.7" y="52.7" width="0.8" height="0.8" fill="#b8d8ee"/><rect x="281.3" y="39.7" width="0.8" height="0.8" fill="#b8d8ee"/><rect x="286.6" y="43.1" width="0.8" height="0.8" fill="#5c9fcf"/><rect x="268.6" y="40.7" width="0.8" height="0.8" fill="#8cc0e2"/><rect x="269.4" y="65.1" width="0.8" height="0.8" fill="#b8d8ee"/><rect x="286.5" y="53.1" width="0.8" height="0.8" fill="#a6cde8"/><rect x="276.6" y="68.1" width="0.8" height="0.8" fill="#5c9fcf"/><rect x="276.3" y="51.5" width="0.8" height="0.8" fill="#5c9fcf"/><rect x="288.3" y="62.7" width="0.8" height="0.8" fill="#7fb6dc"/><rect x="281.1" y="50.6" width="0.8" height="0.8" fill="#5c9fcf"/><rect x="265.0" y="49.8" width="0.8" height="0.8" fill="#5c9fcf"/><rect x="286.1" y="51.0" width="0.8" height="0.8" fill="#b8d8ee"/><rect x="267.6" y="64.6" width="0.8" height="0.8" fill="#8cc0e2"/><rect x="271.6" y="58.2" width="0.8" height="0.8" fill="#7fb6dc"/><rect x="273.8" y="63.6" width="0.8" height="0.8" fill="#b8d8ee"/><rect x="280.0" y="54.2" width="0.8" height="0.8" fill="#7fb6dc"/><rect x="269.7" y="44.2" width="0.8" height="0.8" fill="#a6cde8"/><rect x="264.9" y="47.5" width="0.8" height="0.8" fill="#a6cde8"/><rect x="266.7" y="50.1" width="0.8" height="0.8" fill="#5c9fcf"/><rect x="272.1" y="49.1" width="0.8" height="0.8" fill="#a6cde8"/><rect x="288.1" y="39.6" width="0.8" height="0.8" fill="#b8d8ee"/><rect x="271.5" y="65.1" width="0.8" height="0.8" fill="#7fb6dc"/><rect x="270.1" y="55.4" width="0.8" height="0.8" fill="#8cc0e2"/><rect x="283.9" y="43.6" width="0.8" height="0.8" fill="#a6cde8"/><rect x="275.4" y="64.9" width="0.8" height="0.8" fill="#8cc0e2"/><rect x="264.7" y="65.2" width="0.8" height="0.8" fill="#8cc0e2"/><rect x="266.2" y="39.6" width="0.8" height="0.8" fill="#8cc0e2"/><rect x="269.0" y="45.9" width="0.8" height="0.8" fill="#7fb6dc"/><rect x="286.5" y="57.0" width="0.8" height="0.8" fill="#b8d8ee"/><rect x="287.1" y="41.9" width="0.8" height="0.8" fill="#8cc0e2"/><rect x="270.2" y="54.7" width="0.8" height="0.8" fill="#5c9fcf"/><rect x="267.8" y="63.0" width="0.8" height="0.8" fill="#8cc0e2"/><rect x="270.5" y="52.1" width="0.8" height="0.8" fill="#8cc0e2"/><rect x="272.0" y="51.3" width="0.8" height="0.8" fill="#5c9fcf"/><rect x="270.8" y="49.7" width="0.8" height="0.8" fill="#8cc0e2"/><rect x="281.0" y="46.9" width="0.8" height="0.8" fill="#7fb6dc"/><rect x="266.2" y="41.5" width="0.8" height="0.8" fill="#b8d8ee"/><rect x="280.1" y="67.0" width="0.8" height="0.8" fill="#a6cde8"/><rect x="268.6" y="50.4" width="0.8" height="0.8" fill="#b8d8ee"/><rect x="272.4" y="60.3" width="0.8" height="0.8" fill="#5c9fcf"/><rect x="272.1" y="59.2" width="0.8" height="0.8" fill="#8cc0e2"/><rect x="266.8" y="64.6" width="0.8" height="0.8" fill="#7fb6dc"/><rect x="269.1" y="46.6" width="0.8" height="0.8" fill="#8cc0e2"/><rect x="283.9" y="51.2" width="0.8" height="0.8" fill="#a6cde8"/><rect x="267.3" y="41.1" width="0.8" height="0.8" fill="#b8d8ee"/><rect x="271.1" y="38.1" width="0.8" height="0.8" fill="#8cc0e2"/><rect x="269.5" y="58.6" width="0.8" height="0.8" fill="#a6cde8"/><rect x="287.2" y="55.1" width="0.8" height="0.8" fill="#b8d8ee"/><rect x="268.5" y="55.4" width="0.8" height="0.8" fill="#8cc0e2"/><rect x="264.5" y="42.7" width="0.8" height="0.8" fill="#b8d8ee"/><rect x="267.5" y="39.1" width="0.8" height="0.8" fill="#7fb6dc"/><rect x="272.4" y="65.7" width="0.8" height="0.8" fill="#8cc0e2"/><rect x="281.1" y="54.7" width="0.8" height="0.8" fill="#a6cde8"/><rect x="264.5" y="57.3" width="0.8" height="0.8" fill="#b8d8ee"/><rect x="272.7" y="58.5" width="0.8" height="0.8" fill="#8cc0e2"/><rect x="282.0" y="38.7" width="0.8" height="0.8" fill="#8cc0e2"/><rect x="270.0" y="63.2" width="0.8" height="0.8" fill="#b8d8ee"/><rect x="272.8" y="51.2" width="0.8" height="0.8" fill="#7fb6dc"/><rect x="270.4" y="41.0" width="0.8" height="0.8" fill="#8cc0e2"/><rect x="271.1" y="52.5" width="0.8" height="0.8" fill="#5c9fcf"/><rect x="276.0" y="55.2" width="0.8" height="0.8" fill="#a6cde8"/><rect x="269.0" y="68.8" width="0.8" height="0.8" fill="#5c9fcf"/><rect x="267.1" y="55.0" width="0.8" height="0.8" fill="#a6cde8"/><rect x="272.3" y="42.3" width="0.8" height="0.8" fill="#8cc0e2"/><rect x="260.5" y="44.5" width="0.8" height="0.8" fill="#a6cde8"/><rect x="271.4" y="46.0" width="0.8" height="0.8" fill="#b8d8ee"/><rect x="268.0" y="51.2" width="0.8" height="0.8" fill="#7fb6dc"/><rect x="272.2" y="57.8" width="0.8" height="0.8" fill="#8cc0e2"/><rect x="268.9" y="39.6" width="0.8" height="0.8" fill="#5c9fcf"/><rect x="266.5" y="41.9" width="0.8" height="0.8" fill="#7fb6dc"/><rect x="270.2" y="53.7" width="0.8" height="0.8" fill="#7fb6dc"/><rect x="273.8" y="41.9" width="0.8" height="0.8" fill="#7fb6dc"/><rect x="276.2" y="47.2" width="0.8" height="0.8" fill="#5c9fcf"/><rect x="278.7" y="58.0" width="0.8" height="0.8" fill="#a6cde8"/><rect x="289.4" y="44.0" width="0.8" height="0.8" fill="#a6cde8"/><rect x="267.2" y="55.0" width="0.8" height="0.8" fill="#b8d8ee"/><rect x="273.8" y="52.0" width="0.8" height="0.8" fill="#7fb6dc"/><rect x="262.4" y="53.7" width="0.8" height="0.8" fill="#b8d8ee"/><rect x="268.1" y="51.1" width="0.8" height="0.8" fill="#5c9fcf"/><rect x="262.8" y="46.1" width="0.8" height="0.8" fill="#a6cde8"/><rect x="266.8" y="61.6" width="0.8" height="0.8" fill="#5c9fcf"/><rect x="266.1" y="45.7" width="0.8" height="0.8" fill="#5c9fcf"/><rect x="268.9" y="65.2" width="0.8" height="0.8" fill="#8cc0e2"/><rect x="289.9" y="65.2" width="0.8" height="0.8" fill="#7fb6dc"/><rect x="289.2" y="42.1" width="0.8" height="0.8" fill="#a6cde8"/><rect x="268.4" y="62.1" width="0.8" height="0.8" fill="#a6cde8"/><rect x="286.5" y="64.5" width="0.8" height="0.8" fill="#a6cde8"/><rect x="265.3" y="53.6" width="0.8" height="0.8" fill="#5c9fcf"/><rect x="281.2" y="59.8" width="0.8" height="0.8" fill="#a6cde8"/><rect x="275.2" y="39.1" width="0.8" height="0.8" fill="#5c9fcf"/><rect x="268.2" y="62.9" width="0.8" height="0.8" fill="#b8d8ee"/><rect x="279.0" y="49.0" width="0.8" height="0.8" fill="#8cc0e2"/><rect x="279.7" y="72.0" width="0.8" height="0.8" fill="#b8d8ee"/><rect x="274.1" y="64.2" width="0.8" height="0.8" fill="#7fb6dc"/><rect x="272.0" y="60.6" width="0.8" height="0.8" fill="#b8d8ee"/><rect x="269.5" y="52.5" width="0.8" height="0.8" fill="#5c9fcf"/><rect x="265.1" y="40.5" width="0.8" height="0.8" fill="#5c9fcf"/><rect x="269.7" y="49.0" width="0.8" height="0.8" fill="#5c9fcf"/><rect x="273.9" y="46.0" width="0.8" height="0.8" fill="#7fb6dc"/><rect x="266.7" y="43.5" width="0.8" height="0.8" fill="#8cc0e2"/><rect x="271.9" y="55.3" width="0.8" height="0.8" fill="#5c9fcf"/><rect x="283.0" y="47.1" width="0.8" height="0.8" fill="#b8d8ee"/><rect x="265.8" y="46.7" width="0.8" height="0.8" fill="#b8d8ee"/><rect x="269.5" y="41.2" width="0.8" height="0.8" fill="#a6cde8"/><rect x="273.6" y="66.4" width="0.8" height="0.8" fill="#8cc0e2"/><rect x="263.3" y="49.2" width="0.8" height="0.8" fill="#b8d8ee"/><rect x="269.6" y="42.6" width="0.8" height="0.8" fill="#5c9fcf"/><rect x="264.9" y="48.0" width="0.8" height="0.8" fill="#b8d8ee"/><rect x="281.9" y="59.5" width="0.8" height="0.8" fill="#8cc0e2"/><rect x="279.5" y="51.1" width="0.8" height="0.8" fill="#8cc0e2"/><rect x="271.7" y="39.0" width="0.8" height="0.8" fill="#b8d8ee"/><rect x="264.4" y="54.9" width="0.8" height="0.8" fill="#7fb6dc"/><rect x="272.6" y="46.1" width="0.8" height="0.8" fill="#b8d8ee"/><rect x="271.7" y="54.0" width="0.8" height="0.8" fill="#b8d8ee"/><rect x="273.0" y="59.0" width="0.8" height="0.8" fill="#8cc0e2"/><rect x="270.0" y="56.0" width="0.8" height="0.8" fill="#a6cde8"/><rect x="267.8" y="61.2" width="0.8" height="0.8" fill="#5c9fcf"/><rect x="266.2" y="56.2" width="0.8" height="0.8" fill="#a6cde8"/><rect x="274.8" y="55.9" width="0.8" height="0.8" fill="#a6cde8"/><rect x="269.1" y="39.0" width="0.8" height="0.8" fill="#5c9fcf"/><rect x="269.4" y="62.0" width="0.8" height="0.8" fill="#b8d8ee"/><rect x="289.4" y="58.9" width="0.8" height="0.8" fill="#7fb6dc"/><rect x="263.5" y="50.9" width="0.8" height="0.8" fill="#a6cde8"/><rect x="282.6" y="53.5" width="0.8" height="0.8" fill="#5c9fcf"/><rect x="265.7" y="61.8" width="0.8" height="0.8" fill="#a6cde8"/><rect x="282.6" y="53.0" width="0.8" height="0.8" fill="#5c9fcf"/><rect x="269.7" y="64.7" width="0.8" height="0.8" fill="#7fb6dc"/><rect x="267.8" y="41.6" width="0.8" height="0.8" fill="#5c9fcf"/><rect x="268.9" y="51.5" width="0.8" height="0.8" fill="#a6cde8"/><rect x="286.3" y="61.1" width="0.8" height="0.8" fill="#b8d8ee"/><rect x="264.5" y="51.6" width="0.8" height="0.8" fill="#5c9fcf"/><rect x="268.2" y="39.2" width="0.8" height="0.8" fill="#a6cde8"/><rect x="269.6" y="63.8" width="0.8" height="0.8" fill="#8cc0e2"/><rect x="265.8" y="59.3" width="0.8" height="0.8" fill="#b8d8ee"/><rect x="265.7" y="41.3" width="0.8" height="0.8" fill="#8cc0e2"/><rect x="280.4" y="68.2" width="0.8" height="0.8" fill="#a6cde8"/><rect x="265.8" y="48.5" width="0.8" height="0.8" fill="#5c9fcf"/><rect x="269.9" y="68.4" width="0.8" height="0.8" fill="#b8d8ee"/><rect x="265.9" y="70.2" width="0.8" height="0.8" fill="#8cc0e2"/><rect x="269.0" y="61.7" width="0.8" height="0.8" fill="#a6cde8"/><rect x="289.1" y="61.7" width="0.8" height="0.8" fill="#5c9fcf"/><rect x="272.5" y="44.1" width="0.8" height="0.8" fill="#7fb6dc"/><rect x="267.4" y="60.1" width="0.8" height="0.8" fill="#b8d8ee"/><rect x="286.7" y="67.9" width="0.8" height="0.8" fill="#7fb6dc"/><rect x="273.0" y="65.9" width="0.8" height="0.8" fill="#b8d8ee"/><rect x="272.8" y="51.5" width="0.8" height="0.8" fill="#a6cde8"/><rect x="273.1" y="47.2" width="0.8" height="0.8" fill="#b8d8ee"/><rect x="277.7" y="60.3" width="0.8" height="0.8" fill="#7fb6dc"/><rect x="282.5" y="55.3" width="0.8" height="0.8" fill="#b8d8ee"/><rect x="289.0" y="60.8" width="0.8" height="0.8" fill="#5c9fcf"/><rect x="279.3" y="43.2" width="0.8" height="0.8" fill="#b8d8ee"/><rect x="268.3" y="51.7" width="0.8" height="0.8" fill="#5c9fcf"/><rect x="277.4" y="51.3" width="0.8" height="0.8" fill="#7fb6dc"/><rect x="267.4" y="64.5" width="0.8" height="0.8" fill="#b8d8ee"/></g>
<rect x="332.00" y="74.00" width="0.90" height="0.90" fill="#f07a22" />
<rect x="315.00" y="97.00" width="0.90" height="0.90" fill="#3b8a32" />
<rect x="343.00" y="110.00" width="0.90" height="0.90" fill="#e41e26" />
<rect x="360.00" y="76.00" width="0.90" height="0.90" fill="#d4949a" />
<rect x="357.00" y="80.00" width="0.90" height="0.90" fill="#8a5db8" />
<rect x="362.00" y="78.00" width="0.90" height="0.90" fill="#8a5db8" />
<rect x="319.00" y="121.50" width="0.90" height="0.90" fill="#e41e26" />
<rect x="349.00" y="85.00" width="0.90" height="0.90" fill="#8a5db8" />
<rect x="352.00" y="86.00" width="0.90" height="0.90" fill="#8a5db8" />
<path d="M319,84 C321,83 324,84 325,86.5 C324,88.5 321,89 319.5,88Z" fill="#e4322a" stroke="none" stroke-width="1" />
<ellipse cx="303.6" cy="17.1" rx="2.3" ry="3.4" transform="rotate(25 303.6 17.1)" fill="none" stroke="#555" stroke-width="0.6"/>
<circle cx="303.40" cy="17.40" r="0.60" fill="#3b8a32" />
<ellipse cx="302.2" cy="63.5" rx="3.2" ry="4.3" transform="rotate(25 302.2 63.5)" fill="none" stroke="#555" stroke-width="0.6"/>
<circle cx="302.60" cy="62.50" r="0.50" fill="#f07a22" />
<circle cx="301.80" cy="64.80" r="0.50" fill="#f07a22" />
<text x="287.00" y="18.76" font-size="6.6" textLength="12.80" lengthAdjust="spacingAndGlyphs" fill="#222" stroke="#222" stroke-width="0.15" >pDC</text>
<text x="258.00" y="38.06" font-size="6.6" textLength="34.40" lengthAdjust="spacingAndGlyphs" fill="#222" stroke="#222" stroke-width="0.15" >CD14 mono</text>
<text x="289.00" y="75.16" font-size="6.6" textLength="20.90" lengthAdjust="spacingAndGlyphs" fill="#222" stroke="#222" stroke-width="0.15" >Platelet</text>
<text x="253.00" y="81.86" font-size="6.6" textLength="15.60" lengthAdjust="spacingAndGlyphs" fill="#222" stroke="#222" stroke-width="0.15" >cDC2</text>
<text x="270.90" y="93.36" font-size="6.6" textLength="15.70" lengthAdjust="spacingAndGlyphs" fill="#222" stroke="#222" stroke-width="0.15" >CD16</text>
<text x="270.90" y="100.76" font-size="6.6" textLength="15.70" lengthAdjust="spacingAndGlyphs" fill="#222" stroke="#222" stroke-width="0.15" >mono</text>
<text x="303.80" y="83.56" font-size="6.6" textLength="12.80" lengthAdjust="spacingAndGlyphs" fill="#222" stroke="#222" stroke-width="0.15" >CD8</text>
<text x="303.80" y="90.86" font-size="6.6" textLength="12.80" lengthAdjust="spacingAndGlyphs" fill="#222" stroke="#222" stroke-width="0.15" >TEM</text>
<text x="271.50" y="114.16" font-size="6.6" textLength="26.10" lengthAdjust="spacingAndGlyphs" fill="#222" stroke="#222" stroke-width="0.15" >NK:CD56</text>
<text x="297.90" y="110.59" font-size="3.6" textLength="3.90" lengthAdjust="spacingAndGlyphs" fill="#222" stroke="#222" stroke-width="0.15" >dim</text>
<text x="271.50" y="125.66" font-size="6.6" textLength="26.10" lengthAdjust="spacingAndGlyphs" fill="#222" stroke="#222" stroke-width="0.15" >NK:CD56</text>
<text x="297.90" y="122.09" font-size="3.6" textLength="11.70" lengthAdjust="spacingAndGlyphs" fill="#222" stroke="#222" stroke-width="0.15" >bright</text>
<text x="352.30" y="20.56" font-size="6.6" textLength="12.30" lengthAdjust="spacingAndGlyphs" fill="#222" stroke="#222" stroke-width="0.15" >CD4</text>
<text x="351.00" y="28.16" font-size="6.6" textLength="14.80" lengthAdjust="spacingAndGlyphs" fill="#222" stroke="#222" stroke-width="0.15" >naive</text>
<text x="327.00" y="23.86" font-size="6.6" textLength="12.00" lengthAdjust="spacingAndGlyphs" fill="#222" stroke="#222" stroke-width="0.15" >CD4</text>
<text x="326.50" y="31.56" font-size="6.6" textLength="13.00" lengthAdjust="spacingAndGlyphs" fill="#222" stroke="#222" stroke-width="0.15" >TCM</text>
<text x="312.00" y="32.86" font-size="6.6" textLength="12.30" lengthAdjust="spacingAndGlyphs" fill="#222" stroke="#222" stroke-width="0.15" >CD4</text>
<text x="312.00" y="40.06" font-size="6.6" textLength="12.30" lengthAdjust="spacingAndGlyphs" fill="#222" stroke="#222" stroke-width="0.15" >TEM</text>
<text x="351.50" y="52.36" font-size="6.6" textLength="13.50" lengthAdjust="spacingAndGlyphs" fill="#222" stroke="#222" stroke-width="0.15" >Treg</text>
<text x="340.30" y="62.86" font-size="6.6" textLength="25.50" lengthAdjust="spacingAndGlyphs" fill="#222" stroke="#222" stroke-width="0.15" >CD4 CTL</text>
<text x="353.00" y="73.86" font-size="6.6" textLength="13.00" lengthAdjust="spacingAndGlyphs" fill="#222" stroke="#222" stroke-width="0.15" >CD8</text>
<text x="353.00" y="81.16" font-size="6.6" textLength="14.00" lengthAdjust="spacingAndGlyphs" fill="#222" stroke="#222" stroke-width="0.15" >TCM</text>
<text x="323.80" y="96.56" font-size="6.6" textLength="29.20" lengthAdjust="spacingAndGlyphs" fill="#222" stroke="#222" stroke-width="0.15" >CD8 naive</text>
<text x="348.00" y="113.16" font-size="6.6" textLength="15.00" lengthAdjust="spacingAndGlyphs" fill="#222" stroke="#222" stroke-width="0.15" >MAIT</text>
<text x="352.00" y="121.56" font-size="6.6" textLength="7.20" lengthAdjust="spacingAndGlyphs" fill="#222" stroke="#222" stroke-width="0.15" >gdT</text>
<line x1="349.50" y1="29.50" x2="346.50" y2="34.00" stroke="#222" stroke-width="0.6" />
<line x1="333.00" y1="32.50" x2="333.00" y2="41.50" stroke="#222" stroke-width="0.6" />
<path d="M318.2,41 L318.2,49.5 L327,55.5" fill="none" stroke="#222" stroke-width="0.6" />
<line x1="350.00" y1="50.00" x2="345.00" y2="48.30" stroke="#222" stroke-width="0.6" />
<line x1="339.00" y1="61.00" x2="333.50" y2="64.00" stroke="#222" stroke-width="0.6" />
<line x1="354.00" y1="93.00" x2="359.00" y2="91.00" stroke="#222" stroke-width="0.6" />
<line x1="347.00" y1="109.00" x2="342.50" y2="104.50" stroke="#222" stroke-width="0.6" />
<line x1="303.00" y1="111.50" x2="309.00" y2="109.50" stroke="#222" stroke-width="0.6" />
<line x1="311.50" y1="123.00" x2="317.00" y2="120.00" stroke="#222" stroke-width="0.6" />
<line x1="382.00" y1="8.60" x2="382.00" y2="129.30" stroke="#222" stroke-width="1.1" />
<line x1="381.50" y1="129.00" x2="512.80" y2="129.00" stroke="#222" stroke-width="1.1" />
<line x1="379.20" y1="10.00" x2="382.00" y2="10.00" stroke="#222" stroke-width="0.8" />
<line x1="379.20" y1="30.30" x2="382.00" y2="30.30" stroke="#222" stroke-width="0.8" />
<line x1="379.20" y1="50.70" x2="382.00" y2="50.70" stroke="#222" stroke-width="0.8" />
<line x1="379.20" y1="70.60" x2="382.00" y2="70.60" stroke="#222" stroke-width="0.8" />
<line x1="379.20" y1="90.50" x2="382.00" y2="90.50" stroke="#222" stroke-width="0.8" />
<line x1="379.20" y1="110.40" x2="382.00" y2="110.40" stroke="#222" stroke-width="0.8" />
<line x1="404.60" y1="129.00" x2="404.60" y2="132.00" stroke="#222" stroke-width="0.8" />
<text x="403.40" y="142.55" font-size="7.4" text-anchor="middle" fill="#222" stroke="#222" stroke-width="0.15" >−10</text>
<line x1="426.20" y1="129.00" x2="426.20" y2="132.00" stroke="#222" stroke-width="0.8" />
<text x="425.00" y="142.55" font-size="7.4" text-anchor="middle" fill="#222" stroke="#222" stroke-width="0.15" >−5</text>
<line x1="448.40" y1="129.00" x2="448.40" y2="132.00" stroke="#222" stroke-width="0.8" />
<text x="448.40" y="142.55" font-size="7.4" text-anchor="middle" fill="#222" stroke="#222" stroke-width="0.15" >0</text>
<line x1="470.90" y1="129.00" x2="470.90" y2="132.00" stroke="#222" stroke-width="0.8" />
<text x="470.90" y="142.55" font-size="7.4" text-anchor="middle" fill="#222" stroke="#222" stroke-width="0.15" >5</text>
<line x1="493.30" y1="129.00" x2="493.30" y2="132.00" stroke="#222" stroke-width="0.8" />
<text x="493.30" y="142.55" font-size="7.4" text-anchor="middle" fill="#222" stroke="#222" stroke-width="0.15" >10</text>
<text x="445.70" y="156.36" font-size="8.0" text-anchor="middle" textLength="38.30" lengthAdjust="spacingAndGlyphs" fill="#222" stroke="#222" stroke-width="0.15" >refUMAP_1</text>
<pattern id="pmix" patternUnits="userSpaceOnUse" width="8.1" height="8.1"><rect x="0.0" y="0.0" width="0.9" height="0.9" fill="#d01a3a"/><rect x="0.0" y="1.8" width="0.9" height="0.9" fill="#2a4a9a"/><rect x="0.0" y="4.5" width="0.9" height="0.9" fill="#d01a3a"/><rect x="0.0" y="5.4" width="0.9" height="0.9" fill="#d01a3a"/><rect x="0.0" y="7.2" width="0.9" height="0.9" fill="#d01a3a"/><rect x="0.9" y="0.0" width="0.9" height="0.9" fill="#d01a3a"/><rect x="0.9" y="5.4" width="0.9" height="0.9" fill="#d01a3a"/><rect x="1.8" y="2.7" width="0.9" height="0.9" fill="#d01a3a"/><rect x="1.8" y="5.4" width="0.9" height="0.9" fill="#d01a3a"/><rect x="1.8" y="6.3" width="0.9" height="0.9" fill="#d01a3a"/><rect x="2.7" y="4.5" width="0.9" height="0.9" fill="#2a4a9a"/><rect x="3.6" y="0.9" width="0.9" height="0.9" fill="#d01a3a"/><rect x="3.6" y="1.8" width="0.9" height="0.9" fill="#d01a3a"/><rect x="3.6" y="2.7" width="0.9" height="0.9" fill="#d01a3a"/><rect x="3.6" y="4.5" width="0.9" height="0.9" fill="#2a4a9a"/><rect x="3.6" y="6.3" width="0.9" height="0.9" fill="#d01a3a"/><rect x="4.5" y="0.0" width="0.9" height="0.9" fill="#2a4a9a"/><rect x="4.5" y="0.9" width="0.9" height="0.9" fill="#2a4a9a"/><rect x="5.4" y="0.9" width="0.9" height="0.9" fill="#d01a3a"/><rect x="5.4" y="6.3" width="0.9" height="0.9" fill="#d01a3a"/><rect x="6.3" y="0.9" width="0.9" height="0.9" fill="#d01a3a"/><rect x="6.3" y="1.8" width="0.9" height="0.9" fill="#d01a3a"/><rect x="6.3" y="4.5" width="0.9" height="0.9" fill="#d01a3a"/><rect x="6.3" y="6.3" width="0.9" height="0.9" fill="#2a4a9a"/><rect x="6.3" y="7.2" width="0.9" height="0.9" fill="#d01a3a"/><rect x="7.2" y="0.0" width="0.9" height="0.9" fill="#d01a3a"/><rect x="7.2" y="2.7" width="0.9" height="0.9" fill="#d01a3a"/><rect x="7.2" y="4.5" width="0.9" height="0.9" fill="#d01a3a"/><rect x="7.2" y="6.3" width="0.9" height="0.9" fill="#d01a3a"/></pattern>
<pattern id="psparse" patternUnits="userSpaceOnUse" width="9.0" height="9.0"><rect x="0.0" y="2.7" width="0.9" height="0.9" fill="#e0b8cc"/><rect x="0.0" y="3.6" width="0.9" height="0.9" fill="#cc1838"/><rect x="0.0" y="5.4" width="0.9" height="0.9" fill="#cc1838"/><rect x="0.0" y="6.3" width="0.9" height="0.9" fill="#5c2a84"/><rect x="0.9" y="0.0" width="0.9" height="0.9" fill="#5c2a84"/><rect x="0.9" y="0.9" width="0.9" height="0.9" fill="#cc1838"/><rect x="0.9" y="2.7" width="0.9" height="0.9" fill="#e0b8cc"/><rect x="1.8" y="6.3" width="0.9" height="0.9" fill="#2a5aa0"/><rect x="1.8" y="7.2" width="0.9" height="0.9" fill="#e0b8cc"/><rect x="2.7" y="1.8" width="0.9" height="0.9" fill="#cc1838"/><rect x="2.7" y="4.5" width="0.9" height="0.9" fill="#cc1838"/><rect x="2.7" y="7.2" width="0.9" height="0.9" fill="#cc1838"/><rect x="3.6" y="4.5" width="0.9" height="0.9" fill="#cc1838"/><rect x="3.6" y="5.4" width="0.9" height="0.9" fill="#cc1838"/><rect x="3.6" y="8.1" width="0.9" height="0.9" fill="#2a5aa0"/><rect x="4.5" y="1.8" width="0.9" height="0.9" fill="#e0b8cc"/><rect x="4.5" y="3.6" width="0.9" height="0.9" fill="#e0b8cc"/><rect x="4.5" y="6.3" width="0.9" height="0.9" fill="#e0b8cc"/><rect x="5.4" y="0.0" width="0.9" height="0.9" fill="#cc1838"/><rect x="5.4" y="2.7" width="0.9" height="0.9" fill="#e0b8cc"/><rect x="5.4" y="3.6" width="0.9" height="0.9" fill="#2a5aa0"/><rect x="5.4" y="5.4" width="0.9" height="0.9" fill="#2a5aa0"/><rect x="5.4" y="6.3" width="0.9" height="0.9" fill="#5c2a84"/><rect x="6.3" y="0.0" width="0.9" height="0.9" fill="#cc1838"/><rect x="6.3" y="0.9" width="0.9" height="0.9" fill="#e0b8cc"/><rect x="6.3" y="1.8" width="0.9" height="0.9" fill="#e0b8cc"/><rect x="6.3" y="5.4" width="0.9" height="0.9" fill="#5c2a84"/><rect x="6.3" y="6.3" width="0.9" height="0.9" fill="#e0b8cc"/><rect x="7.2" y="0.9" width="0.9" height="0.9" fill="#2a5aa0"/><rect x="7.2" y="1.8" width="0.9" height="0.9" fill="#cc1838"/><rect x="7.2" y="3.6" width="0.9" height="0.9" fill="#5c2a84"/><rect x="7.2" y="6.3" width="0.9" height="0.9" fill="#5c2a84"/><rect x="7.2" y="7.2" width="0.9" height="0.9" fill="#2a5aa0"/><rect x="8.1" y="2.7" width="0.9" height="0.9" fill="#cc1838"/><rect x="8.1" y="3.6" width="0.9" height="0.9" fill="#e0b8cc"/><rect x="8.1" y="5.4" width="0.9" height="0.9" fill="#2a5aa0"/></pattern>
<g transform="matrix(1.094 0 0 1 107.73 0)">
<path d="M264.3,44 C264.8,40.5 268.5,39.2 271.5,39.6 C276,41 281,44 285.5,48 C288,50 289.8,53 288.8,56 C287,60 283,63.5 280,67 C278.8,68.5 278,70 277.2,71.5 L276.3,71.5 C274.5,67.5 271,64 268,61 C265.5,58 264.3,52 264.3,44Z" fill="#f8f0f4" stroke="none" stroke-width="1" />
<clipPath id="c14r"><path d="M264.3,44 C264.8,40.5 268.5,39.2 271.5,39.6 C276,41 281,44 285.5,48 C288,50 289.8,53 288.8,56 C287,60 283,63.5 280,67 C278.8,68.5 278,70 277.2,71.5 L276.3,71.5 C274.5,67.5 271,64 268,61 C265.5,58 264.3,52 264.3,44Z"/></clipPath>
<g clip-path="url(#c14r)"><rect x="278.6" y="69.5" width="0.8" height="0.9" fill="#a0b8e0"/><rect x="286.2" y="45.3" width="0.8" height="0.9" fill="#a0b8e0"/><rect x="284.6" y="42.1" width="0.8" height="0.9" fill="#5c2a84"/><rect x="262.9" y="45.0" width="0.8" height="0.9" fill="#cc1838"/><rect x="274.3" y="53.9" width="0.8" height="0.9" fill="#cc1838"/><rect x="285.6" y="41.1" width="0.8" height="0.9" fill="#cc1838"/><rect x="270.0" y="49.5" width="0.8" height="0.9" fill="#a0b8e0"/><rect x="268.1" y="45.9" width="0.8" height="0.9" fill="#5c2a84"/><rect x="277.0" y="60.9" width="0.8" height="0.9" fill="#a0b8e0"/><rect x="274.6" y="57.2" width="0.8" height="0.9" fill="#cc1838"/><rect x="272.2" y="46.6" width="0.8" height="0.9" fill="#5c2a84"/><rect x="268.5" y="46.9" width="0.8" height="0.9" fill="#cc1838"/><rect x="274.0" y="70.6" width="0.8" height="0.9" fill="#cc1838"/><rect x="271.0" y="47.1" width="0.8" height="0.9" fill="#e890a8"/><rect x="274.3" y="41.4" width="0.8" height="0.9" fill="#5c2a84"/><rect x="271.0" y="41.9" width="0.8" height="0.9" fill="#2a5aa0"/><rect x="263.3" y="55.3" width="0.8" height="0.9" fill="#cc1838"/><rect x="271.0" y="49.3" width="0.8" height="0.9" fill="#a0b8e0"/><rect x="266.4" y="45.6" width="0.8" height="0.9" fill="#5c2a84"/><rect x="284.0" y="52.8" width="0.8" height="0.9" fill="#e890a8"/><rect x="267.9" y="50.0" width="0.8" height="0.9" fill="#5c2a84"/><rect x="289.3" y="58.6" width="0.8" height="0.9" fill="#cc1838"/><rect x="264.6" y="55.3" width="0.8" height="0.9" fill="#cc1838"/><rect x="272.3" y="53.2" width="0.8" height="0.9" fill="#cc1838"/><rect x="272.6" y="48.8" width="0.8" height="0.9" fill="#cc1838"/><rect x="271.3" y="56.3" width="0.8" height="0.9" fill="#cc1838"/><rect x="273.7" y="54.0" width="0.8" height="0.9" fill="#a0b8e0"/><rect x="267.5" y="51.7" width="0.8" height="0.9" fill="#cc1838"/><rect x="270.7" y="56.2" width="0.8" height="0.9" fill="#5c2a84"/><rect x="266.9" y="42.5" width="0.8" height="0.9" fill="#e890a8"/><rect x="279.7" y="52.9" width="0.8" height="0.9" fill="#cc1838"/><rect x="267.3" y="47.6" width="0.8" height="0.9" fill="#e890a8"/><rect x="272.1" y="40.8" width="0.8" height="0.9" fill="#5c2a84"/><rect x="288.2" y="71.2" width="0.8" height="0.9" fill="#cc1838"/><rect x="263.6" y="43.7" width="0.8" height="0.9" fill="#cc1838"/><rect x="272.1" y="46.0" width="0.8" height="0.9" fill="#cc1838"/><rect x="267.8" y="50.4" width="0.8" height="0.9" fill="#cc1838"/><rect x="266.9" y="53.7" width="0.8" height="0.9" fill="#cc1838"/><rect x="272.5" y="53.0" width="0.8" height="0.9" fill="#2a5aa0"/><rect x="282.0" y="58.3" width="0.8" height="0.9" fill="#cc1838"/><rect x="288.0" y="54.7" width="0.8" height="0.9" fill="#2a5aa0"/><rect x="289.0" y="39.7" width="0.8" height="0.9" fill="#cc1838"/><rect x="283.0" y="49.5" width="0.8" height="0.9" fill="#cc1838"/><rect x="264.5" y="45.2" width="0.8" height="0.9" fill="#cc1838"/><rect x="287.8" y="50.6" width="0.8" height="0.9" fill="#a0b8e0"/><rect x="286.6" y="52.8" width="0.8" height="0.9" fill="#cc1838"/><rect x="278.9" y="59.6" width="0.8" height="0.9" fill="#e890a8"/><rect x="271.4" y="48.2" width="0.8" height="0.9" fill="#cc1838"/><rect x="289.8" y="68.0" width="0.8" height="0.9" fill="#2a5aa0"/><rect x="269.6" y="40.1" width="0.8" height="0.9" fill="#a0b8e0"/><rect x="278.1" y="56.1" width="0.8" height="0.9" fill="#cc1838"/><rect x="270.6" y="48.7" width="0.8" height="0.9" fill="#cc1838"/><rect x="280.0" y="69.4" width="0.8" height="0.9" fill="#5c2a84"/><rect x="273.6" y="43.7" width="0.8" height="0.9" fill="#5c2a84"/><rect x="283.6" y="50.3" width="0.8" height="0.9" fill="#a0b8e0"/><rect x="270.3" y="52.4" width="0.8" height="0.9" fill="#5c2a84"/><rect x="264.2" y="52.6" width="0.8" height="0.9" fill="#5c2a84"/><rect x="274.0" y="58.2" width="0.8" height="0.9" fill="#2a5aa0"/><rect x="272.2" y="52.2" width="0.8" height="0.9" fill="#cc1838"/><rect x="288.7" y="48.1" width="0.8" height="0.9" fill="#cc1838"/><rect x="262.1" y="50.4" width="0.8" height="0.9" fill="#e890a8"/><rect x="264.8" y="46.9" width="0.8" height="0.9" fill="#a0b8e0"/><rect x="271.3" y="43.7" width="0.8" height="0.9" fill="#cc1838"/><rect x="271.3" y="50.7" width="0.8" height="0.9" fill="#cc1838"/><rect x="274.5" y="45.3" width="0.8" height="0.9" fill="#5c2a84"/><rect x="270.7" y="49.4" width="0.8" height="0.9" fill="#cc1838"/><rect x="266.5" y="41.6" width="0.8" height="0.9" fill="#2a5aa0"/><rect x="281.8" y="45.6" width="0.8" height="0.9" fill="#a0b8e0"/><rect x="268.7" y="38.2" width="0.8" height="0.9" fill="#cc1838"/><rect x="269.5" y="53.5" width="0.8" height="0.9" fill="#cc1838"/><rect x="272.0" y="35.4" width="0.8" height="0.9" fill="#cc1838"/><rect x="272.7" y="44.3" width="0.8" height="0.9" fill="#a0b8e0"/><rect x="280.3" y="69.0" width="0.8" height="0.9" fill="#e890a8"/><rect x="281.0" y="55.6" width="0.8" height="0.9" fill="#2a5aa0"/><rect x="280.9" y="45.8" width="0.8" height="0.9" fill="#cc1838"/><rect x="277.9" y="38.1" width="0.8" height="0.9" fill="#5c2a84"/><rect x="284.6" y="49.6" width="0.8" height="0.9" fill="#cc1838"/><rect x="273.3" y="51.2" width="0.8" height="0.9" fill="#e890a8"/><rect x="276.7" y="39.9" width="0.8" height="0.9" fill="#cc1838"/><rect x="274.2" y="49.6" width="0.8" height="0.9" fill="#cc1838"/><rect x="290.0" y="68.7" width="0.8" height="0.9" fill="#a0b8e0"/><rect x="276.8" y="70.3" width="0.8" height="0.9" fill="#cc1838"/><rect x="275.4" y="57.4" width="0.8" height="0.9" fill="#cc1838"/><rect x="285.9" y="57.5" width="0.8" height="0.9" fill="#5c2a84"/><rect x="288.8" y="67.7" width="0.8" height="0.9" fill="#5c2a84"/><rect x="272.8" y="53.8" width="0.8" height="0.9" fill="#5c2a84"/><rect x="269.2" y="56.7" width="0.8" height="0.9" fill="#cc1838"/><rect x="264.7" y="71.0" width="0.8" height="0.9" fill="#e890a8"/><rect x="289.7" y="43.0" width="0.8" height="0.9" fill="#cc1838"/><rect x="265.7" y="56.8" width="0.8" height="0.9" fill="#e890a8"/><rect x="284.8" y="52.3" width="0.8" height="0.9" fill="#5c2a84"/><rect x="267.3" y="53.3" width="0.8" height="0.9" fill="#a0b8e0"/><rect x="266.8" y="52.8" width="0.8" height="0.9" fill="#cc1838"/><rect x="267.4" y="64.7" width="0.8" height="0.9" fill="#cc1838"/><rect x="270.3" y="48.8" width="0.8" height="0.9" fill="#5c2a84"/><rect x="267.0" y="54.6" width="0.8" height="0.9" fill="#cc1838"/><rect x="279.1" y="67.1" width="0.8" height="0.9" fill="#5c2a84"/><rect x="282.2" y="68.0" width="0.8" height="0.9" fill="#cc1838"/><rect x="266.3" y="51.8" width="0.8" height="0.9" fill="#cc1838"/><rect x="286.5" y="56.6" width="0.8" height="0.9" fill="#5c2a84"/><rect x="286.1" y="59.2" width="0.8" height="0.9" fill="#cc1838"/><rect x="269.6" y="37.1" width="0.8" height="0.9" fill="#cc1838"/><rect x="266.9" y="60.5" width="0.8" height="0.9" fill="#5c2a84"/><rect x="269.1" y="42.2" width="0.8" height="0.9" fill="#5c2a84"/><rect x="272.9" y="51.1" width="0.8" height="0.9" fill="#e890a8"/><rect x="275.0" y="65.1" width="0.8" height="0.9" fill="#cc1838"/><rect x="265.7" y="40.3" width="0.8" height="0.9" fill="#cc1838"/><rect x="266.8" y="36.0" width="0.8" height="0.9" fill="#2a5aa0"/><rect x="264.1" y="47.6" width="0.8" height="0.9" fill="#5c2a84"/><rect x="276.5" y="39.8" width="0.8" height="0.9" fill="#a0b8e0"/><rect x="270.9" y="51.7" width="0.8" height="0.9" fill="#cc1838"/><rect x="288.1" y="42.1" width="0.8" height="0.9" fill="#cc1838"/><rect x="269.4" y="45.8" width="0.8" height="0.9" fill="#cc1838"/><rect x="265.9" y="49.5" width="0.8" height="0.9" fill="#e890a8"/><rect x="266.5" y="54.1" width="0.8" height="0.9" fill="#cc1838"/><rect x="268.7" y="54.0" width="0.8" height="0.9" fill="#2a5aa0"/><rect x="270.7" y="51.4" width="0.8" height="0.9" fill="#cc1838"/><rect x="275.8" y="53.9" width="0.8" height="0.9" fill="#e890a8"/><rect x="269.0" y="58.3" width="0.8" height="0.9" fill="#2a5aa0"/><rect x="270.7" y="69.1" width="0.8" height="0.9" fill="#cc1838"/><rect x="274.5" y="68.6" width="0.8" height="0.9" fill="#2a5aa0"/><rect x="283.9" y="52.4" width="0.8" height="0.9" fill="#cc1838"/><rect x="267.9" y="53.7" width="0.8" height="0.9" fill="#cc1838"/><rect x="289.8" y="68.8" width="0.8" height="0.9" fill="#cc1838"/><rect x="274.9" y="45.0" width="0.8" height="0.9" fill="#2a5aa0"/><rect x="268.2" y="50.1" width="0.8" height="0.9" fill="#cc1838"/><rect x="275.0" y="48.0" width="0.8" height="0.9" fill="#cc1838"/><rect x="289.5" y="39.8" width="0.8" height="0.9" fill="#cc1838"/><rect x="270.7" y="52.3" width="0.8" height="0.9" fill="#cc1838"/><rect x="280.8" y="39.4" width="0.8" height="0.9" fill="#5c2a84"/><rect x="273.7" y="43.8" width="0.8" height="0.9" fill="#e890a8"/><rect x="278.8" y="71.8" width="0.8" height="0.9" fill="#a0b8e0"/><rect x="266.0" y="58.7" width="0.8" height="0.9" fill="#cc1838"/><rect x="273.2" y="45.8" width="0.8" height="0.9" fill="#cc1838"/><rect x="278.1" y="58.7" width="0.8" height="0.9" fill="#e890a8"/><rect x="274.9" y="56.4" width="0.8" height="0.9" fill="#5c2a84"/><rect x="268.9" y="56.5" width="0.8" height="0.9" fill="#5c2a84"/><rect x="283.4" y="39.9" width="0.8" height="0.9" fill="#5c2a84"/><rect x="280.5" y="52.5" width="0.8" height="0.9" fill="#e890a8"/><rect x="268.6" y="53.5" width="0.8" height="0.9" fill="#2a5aa0"/><rect x="273.1" y="44.4" width="0.8" height="0.9" fill="#a0b8e0"/><rect x="270.0" y="46.2" width="0.8" height="0.9" fill="#cc1838"/><rect x="282.8" y="54.5" width="0.8" height="0.9" fill="#5c2a84"/><rect x="267.0" y="59.6" width="0.8" height="0.9" fill="#a0b8e0"/><rect x="272.1" y="43.7" width="0.8" height="0.9" fill="#cc1838"/><rect x="265.1" y="51.1" width="0.8" height="0.9" fill="#a0b8e0"/><rect x="280.6" y="61.5" width="0.8" height="0.9" fill="#2a5aa0"/><rect x="277.8" y="71.9" width="0.8" height="0.9" fill="#5c2a84"/><rect x="270.2" y="42.8" width="0.8" height="0.9" fill="#5c2a84"/><rect x="280.2" y="50.9" width="0.8" height="0.9" fill="#5c2a84"/><rect x="282.9" y="62.1" width="0.8" height="0.9" fill="#5c2a84"/><rect x="283.6" y="45.3" width="0.8" height="0.9" fill="#5c2a84"/><rect x="281.0" y="45.5" width="0.8" height="0.9" fill="#cc1838"/><rect x="264.2" y="47.6" width="0.8" height="0.9" fill="#cc1838"/><rect x="266.7" y="56.9" width="0.8" height="0.9" fill="#cc1838"/><rect x="287.7" y="44.3" width="0.8" height="0.9" fill="#5c2a84"/><rect x="273.7" y="54.8" width="0.8" height="0.9" fill="#5c2a84"/><rect x="268.1" y="48.1" width="0.8" height="0.9" fill="#cc1838"/><rect x="275.6" y="66.1" width="0.8" height="0.9" fill="#5c2a84"/><rect x="269.9" y="42.0" width="0.8" height="0.9" fill="#cc1838"/><rect x="264.0" y="33.2" width="0.8" height="0.9" fill="#2a5aa0"/><rect x="270.4" y="36.8" width="0.8" height="0.9" fill="#cc1838"/><rect x="268.9" y="50.0" width="0.8" height="0.9" fill="#2a5aa0"/><rect x="273.9" y="51.9" width="0.8" height="0.9" fill="#a0b8e0"/><rect x="276.1" y="66.2" width="0.8" height="0.9" fill="#cc1838"/><rect x="271.2" y="56.6" width="0.8" height="0.9" fill="#cc1838"/><rect x="276.9" y="64.2" width="0.8" height="0.9" fill="#2a5aa0"/><rect x="272.1" y="52.4" width="0.8" height="0.9" fill="#2a5aa0"/><rect x="274.1" y="54.3" width="0.8" height="0.9" fill="#5c2a84"/><rect x="271.0" y="43.2" width="0.8" height="0.9" fill="#2a5aa0"/><rect x="275.5" y="46.0" width="0.8" height="0.9" fill="#5c2a84"/><rect x="270.4" y="46.8" width="0.8" height="0.9" fill="#e890a8"/><rect x="284.7" y="63.4" width="0.8" height="0.9" fill="#2a5aa0"/><rect x="278.1" y="66.6" width="0.8" height="0.9" fill="#cc1838"/><rect x="270.4" y="35.6" width="0.8" height="0.9" fill="#5c2a84"/><rect x="269.8" y="40.9" width="0.8" height="0.9" fill="#cc1838"/><rect x="289.1" y="60.5" width="0.8" height="0.9" fill="#e890a8"/><rect x="264.1" y="44.9" width="0.8" height="0.9" fill="#cc1838"/><rect x="269.8" y="50.8" width="0.8" height="0.9" fill="#2a5aa0"/><rect x="268.7" y="45.5" width="0.8" height="0.9" fill="#e890a8"/><rect x="271.1" y="58.0" width="0.8" height="0.9" fill="#2a5aa0"/><rect x="274.3" y="50.1" width="0.8" height="0.9" fill="#2a5aa0"/><rect x="276.8" y="56.7" width="0.8" height="0.9" fill="#cc1838"/><rect x="287.8" y="52.5" width="0.8" height="0.9" fill="#2a5aa0"/><rect x="285.0" y="66.5" width="0.8" height="0.9" fill="#a0b8e0"/><rect x="280.6" y="56.3" width="0.8" height="0.9" fill="#cc1838"/><rect x="275.0" y="52.9" width="0.8" height="0.9" fill="#cc1838"/><rect x="272.6" y="55.3" width="0.8" height="0.9" fill="#cc1838"/><rect x="266.7" y="52.7" width="0.8" height="0.9" fill="#5c2a84"/><rect x="265.5" y="49.2" width="0.8" height="0.9" fill="#cc1838"/><rect x="274.4" y="59.2" width="0.8" height="0.9" fill="#cc1838"/><rect x="264.4" y="54.9" width="0.8" height="0.9" fill="#cc1838"/><rect x="271.1" y="53.4" width="0.8" height="0.9" fill="#5c2a84"/><rect x="276.3" y="55.8" width="0.8" height="0.9" fill="#a0b8e0"/><rect x="269.6" y="51.6" width="0.8" height="0.9" fill="#5c2a84"/><rect x="288.5" y="57.2" width="0.8" height="0.9" fill="#5c2a84"/><rect x="274.5" y="70.5" width="0.8" height="0.9" fill="#cc1838"/><rect x="269.7" y="40.6" width="0.8" height="0.9" fill="#cc1838"/><rect x="274.0" y="56.4" width="0.8" height="0.9" fill="#5c2a84"/><rect x="265.5" y="69.5" width="0.8" height="0.9" fill="#cc1838"/><rect x="287.5" y="53.9" width="0.8" height="0.9" fill="#5c2a84"/><rect x="279.8" y="44.2" width="0.8" height="0.9" fill="#cc1838"/><rect x="267.8" y="69.0" width="0.8" height="0.9" fill="#cc1838"/><rect x="289.8" y="47.8" width="0.8" height="0.9" fill="#cc1838"/><rect x="270.0" y="47.7" width="0.8" height="0.9" fill="#cc1838"/><rect x="266.1" y="47.9" width="0.8" height="0.9" fill="#cc1838"/><rect x="282.0" y="41.7" width="0.8" height="0.9" fill="#5c2a84"/><rect x="270.9" y="51.6" width="0.8" height="0.9" fill="#cc1838"/><rect x="275.4" y="40.2" width="0.8" height="0.9" fill="#e890a8"/><rect x="268.1" y="66.5" width="0.8" height="0.9" fill="#5c2a84"/><rect x="266.3" y="52.3" width="0.8" height="0.9" fill="#a0b8e0"/><rect x="265.7" y="41.5" width="0.8" height="0.9" fill="#cc1838"/><rect x="266.9" y="52.1" width="0.8" height="0.9" fill="#cc1838"/><rect x="264.3" y="51.4" width="0.8" height="0.9" fill="#a0b8e0"/><rect x="266.4" y="45.4" width="0.8" height="0.9" fill="#cc1838"/><rect x="286.0" y="62.7" width="0.8" height="0.9" fill="#cc1838"/><rect x="266.9" y="53.3" width="0.8" height="0.9" fill="#5c2a84"/><rect x="283.6" y="57.3" width="0.8" height="0.9" fill="#cc1838"/><rect x="271.8" y="57.3" width="0.8" height="0.9" fill="#2a5aa0"/><rect x="269.4" y="54.7" width="0.8" height="0.9" fill="#2a5aa0"/><rect x="268.8" y="49.9" width="0.8" height="0.9" fill="#cc1838"/><rect x="268.5" y="45.2" width="0.8" height="0.9" fill="#5c2a84"/><rect x="272.4" y="41.1" width="0.8" height="0.9" fill="#cc1838"/><rect x="280.1" y="51.6" width="0.8" height="0.9" fill="#e890a8"/><rect x="277.1" y="54.0" width="0.8" height="0.9" fill="#e890a8"/><rect x="267.6" y="45.8" width="0.8" height="0.9" fill="#cc1838"/><rect x="274.0" y="49.9" width="0.8" height="0.9" fill="#e890a8"/><rect x="282.9" y="59.2" width="0.8" height="0.9" fill="#2a5aa0"/><rect x="284.5" y="60.8" width="0.8" height="0.9" fill="#cc1838"/><rect x="271.1" y="52.8" width="0.8" height="0.9" fill="#a0b8e0"/><rect x="267.0" y="53.0" width="0.8" height="0.9" fill="#5c2a84"/><rect x="279.9" y="44.2" width="0.8" height="0.9" fill="#5c2a84"/><rect x="273.2" y="55.5" width="0.8" height="0.9" fill="#cc1838"/><rect x="269.2" y="69.8" width="0.8" height="0.9" fill="#5c2a84"/><rect x="264.7" y="60.8" width="0.8" height="0.9" fill="#cc1838"/><rect x="266.4" y="48.9" width="0.8" height="0.9" fill="#2a5aa0"/><rect x="273.0" y="45.6" width="0.8" height="0.9" fill="#a0b8e0"/><rect x="275.8" y="63.1" width="0.8" height="0.9" fill="#5c2a84"/><rect x="278.1" y="57.5" width="0.8" height="0.9" fill="#5c2a84"/><rect x="269.8" y="35.2" width="0.8" height="0.9" fill="#2a5aa0"/><rect x="267.2" y="66.2" width="0.8" height="0.9" fill="#5c2a84"/><rect x="273.5" y="64.0" width="0.8" height="0.9" fill="#2a5aa0"/><rect x="268.8" y="57.1" width="0.8" height="0.9" fill="#cc1838"/><rect x="274.5" y="64.8" width="0.8" height="0.9" fill="#cc1838"/><rect x="267.3" y="39.4" width="0.8" height="0.9" fill="#e890a8"/><rect x="280.6" y="64.2" width="0.8" height="0.9" fill="#cc1838"/><rect x="268.1" y="48.7" width="0.8" height="0.9" fill="#e890a8"/><rect x="267.4" y="51.0" width="0.8" height="0.9" fill="#cc1838"/><rect x="267.1" y="45.8" width="0.8" height="0.9" fill="#cc1838"/><rect x="284.5" y="52.3" width="0.8" height="0.9" fill="#a0b8e0"/><rect x="276.2" y="52.6" width="0.8" height="0.9" fill="#e890a8"/><rect x="276.6" y="71.8" width="0.8" height="0.9" fill="#e890a8"/><rect x="267.1" y="42.8" width="0.8" height="0.9" fill="#2a5aa0"/><rect x="275.2" y="68.8" width="0.8" height="0.9" fill="#2a5aa0"/><rect x="271.7" y="59.3" width="0.8" height="0.9" fill="#e890a8"/><rect x="279.5" y="63.8" width="0.8" height="0.9" fill="#5c2a84"/><rect x="286.8" y="47.1" width="0.8" height="0.9" fill="#a0b8e0"/><rect x="276.6" y="36.5" width="0.8" height="0.9" fill="#a0b8e0"/><rect x="277.7" y="46.9" width="0.8" height="0.9" fill="#5c2a84"/><rect x="288.4" y="68.0" width="0.8" height="0.9" fill="#2a5aa0"/><rect x="275.0" y="65.6" width="0.8" height="0.9" fill="#5c2a84"/><rect x="275.0" y="43.0" width="0.8" height="0.9" fill="#cc1838"/><rect x="270.5" y="45.0" width="0.8" height="0.9" fill="#a0b8e0"/><rect x="270.1" y="53.1" width="0.8" height="0.9" fill="#2a5aa0"/><rect x="266.4" y="50.4" width="0.8" height="0.9" fill="#e890a8"/><rect x="269.1" y="43.9" width="0.8" height="0.9" fill="#5c2a84"/><rect x="272.4" y="44.9" width="0.8" height="0.9" fill="#a0b8e0"/><rect x="271.0" y="37.8" width="0.8" height="0.9" fill="#5c2a84"/><rect x="273.4" y="40.9" width="0.8" height="0.9" fill="#cc1838"/><rect x="271.7" y="43.2" width="0.8" height="0.9" fill="#a0b8e0"/><rect x="266.4" y="41.0" width="0.8" height="0.9" fill="#5c2a84"/><rect x="270.1" y="70.3" width="0.8" height="0.9" fill="#cc1838"/><rect x="272.0" y="66.0" width="0.8" height="0.9" fill="#5c2a84"/><rect x="282.5" y="43.5" width="0.8" height="0.9" fill="#a0b8e0"/><rect x="273.4" y="58.4" width="0.8" height="0.9" fill="#cc1838"/><rect x="269.1" y="45.0" width="0.8" height="0.9" fill="#5c2a84"/><rect x="271.7" y="48.0" width="0.8" height="0.9" fill="#cc1838"/><rect x="270.0" y="48.9" width="0.8" height="0.9" fill="#cc1838"/><rect x="271.2" y="60.1" width="0.8" height="0.9" fill="#cc1838"/><rect x="266.0" y="69.3" width="0.8" height="0.9" fill="#cc1838"/><rect x="265.2" y="58.8" width="0.8" height="0.9" fill="#5c2a84"/><rect x="275.0" y="57.8" width="0.8" height="0.9" fill="#cc1838"/><rect x="270.1" y="43.5" width="0.8" height="0.9" fill="#5c2a84"/><rect x="264.7" y="65.1" width="0.8" height="0.9" fill="#cc1838"/><rect x="264.9" y="54.2" width="0.8" height="0.9" fill="#e890a8"/><rect x="271.0" y="46.7" width="0.8" height="0.9" fill="#cc1838"/><rect x="280.8" y="50.9" width="0.8" height="0.9" fill="#a0b8e0"/><rect x="277.4" y="55.7" width="0.8" height="0.9" fill="#cc1838"/><rect x="284.1" y="42.7" width="0.8" height="0.9" fill="#e890a8"/><rect x="264.4" y="51.8" width="0.8" height="0.9" fill="#5c2a84"/><rect x="263.4" y="44.8" width="0.8" height="0.9" fill="#a0b8e0"/><rect x="272.7" y="63.2" width="0.8" height="0.9" fill="#cc1838"/><rect x="286.7" y="44.9" width="0.8" height="0.9" fill="#cc1838"/><rect x="279.8" y="65.6" width="0.8" height="0.9" fill="#a0b8e0"/><rect x="286.3" y="40.0" width="0.8" height="0.9" fill="#cc1838"/><rect x="278.8" y="56.9" width="0.8" height="0.9" fill="#5c2a84"/><rect x="265.4" y="53.0" width="0.8" height="0.9" fill="#2a5aa0"/><rect x="283.2" y="64.8" width="0.8" height="0.9" fill="#a0b8e0"/><rect x="270.9" y="44.7" width="0.8" height="0.9" fill="#5c2a84"/><rect x="264.9" y="48.2" width="0.8" height="0.9" fill="#a0b8e0"/><rect x="267.2" y="51.0" width="0.8" height="0.9" fill="#5c2a84"/><rect x="288.9" y="43.2" width="0.8" height="0.9" fill="#cc1838"/><rect x="264.4" y="50.7" width="0.8" height="0.9" fill="#cc1838"/><rect x="266.4" y="51.9" width="0.8" height="0.9" fill="#cc1838"/><rect x="268.9" y="54.0" width="0.8" height="0.9" fill="#cc1838"/><rect x="281.7" y="62.7" width="0.8" height="0.9" fill="#5c2a84"/><rect x="275.1" y="56.0" width="0.8" height="0.9" fill="#e890a8"/><rect x="288.2" y="51.0" width="0.8" height="0.9" fill="#2a5aa0"/><rect x="288.0" y="46.2" width="0.8" height="0.9" fill="#cc1838"/><rect x="269.3" y="46.3" width="0.8" height="0.9" fill="#2a5aa0"/><rect x="287.7" y="68.2" width="0.8" height="0.9" fill="#cc1838"/><rect x="274.2" y="66.8" width="0.8" height="0.9" fill="#e890a8"/><rect x="273.5" y="49.9" width="0.8" height="0.9" fill="#5c2a84"/><rect x="268.0" y="46.9" width="0.8" height="0.9" fill="#5c2a84"/><rect x="265.1" y="42.4" width="0.8" height="0.9" fill="#a0b8e0"/><rect x="275.3" y="47.6" width="0.8" height="0.9" fill="#a0b8e0"/><rect x="269.0" y="49.6" width="0.8" height="0.9" fill="#5c2a84"/><rect x="269.9" y="49.1" width="0.8" height="0.9" fill="#cc1838"/><rect x="277.3" y="57.7" width="0.8" height="0.9" fill="#5c2a84"/><rect x="268.7" y="50.7" width="0.8" height="0.9" fill="#2a5aa0"/><rect x="270.4" y="59.5" width="0.8" height="0.9" fill="#cc1838"/><rect x="268.5" y="53.3" width="0.8" height="0.9" fill="#cc1838"/><rect x="273.9" y="47.5" width="0.8" height="0.9" fill="#cc1838"/><rect x="266.8" y="43.6" width="0.8" height="0.9" fill="#5c2a84"/><rect x="269.3" y="47.1" width="0.8" height="0.9" fill="#5c2a84"/><rect x="264.7" y="49.2" width="0.8" height="0.9" fill="#5c2a84"/><rect x="266.8" y="49.7" width="0.8" height="0.9" fill="#5c2a84"/><rect x="277.9" y="53.8" width="0.8" height="0.9" fill="#cc1838"/><rect x="271.7" y="44.8" width="0.8" height="0.9" fill="#5c2a84"/><rect x="268.5" y="45.9" width="0.8" height="0.9" fill="#cc1838"/><rect x="276.6" y="39.4" width="0.8" height="0.9" fill="#5c2a84"/><rect x="265.7" y="67.1" width="0.8" height="0.9" fill="#2a5aa0"/><rect x="288.8" y="67.7" width="0.8" height="0.9" fill="#5c2a84"/><rect x="270.7" y="65.4" width="0.8" height="0.9" fill="#cc1838"/><rect x="273.2" y="50.2" width="0.8" height="0.9" fill="#2a5aa0"/><rect x="269.3" y="43.9" width="0.8" height="0.9" fill="#e890a8"/><rect x="270.4" y="42.5" width="0.8" height="0.9" fill="#5c2a84"/><rect x="283.3" y="68.9" width="0.8" height="0.9" fill="#cc1838"/><rect x="270.7" y="67.1" width="0.8" height="0.9" fill="#5c2a84"/><rect x="264.6" y="51.9" width="0.8" height="0.9" fill="#2a5aa0"/><rect x="287.7" y="48.0" width="0.8" height="0.9" fill="#e890a8"/><rect x="279.2" y="54.5" width="0.8" height="0.9" fill="#2a5aa0"/><rect x="265.9" y="40.2" width="0.8" height="0.9" fill="#2a5aa0"/><rect x="278.7" y="47.6" width="0.8" height="0.9" fill="#cc1838"/><rect x="274.0" y="50.3" width="0.8" height="0.9" fill="#2a5aa0"/><rect x="269.4" y="44.0" width="0.8" height="0.9" fill="#cc1838"/><rect x="280.1" y="52.6" width="0.8" height="0.9" fill="#e890a8"/><rect x="273.6" y="50.8" width="0.8" height="0.9" fill="#a0b8e0"/><rect x="270.8" y="47.1" width="0.8" height="0.9" fill="#cc1838"/><rect x="271.1" y="55.3" width="0.8" height="0.9" fill="#a0b8e0"/><rect x="267.9" y="45.4" width="0.8" height="0.9" fill="#5c2a84"/><rect x="270.8" y="55.1" width="0.8" height="0.9" fill="#e890a8"/><rect x="263.5" y="44.6" width="0.8" height="0.9" fill="#cc1838"/><rect x="278.6" y="66.4" width="0.8" height="0.9" fill="#2a5aa0"/><rect x="270.5" y="48.7" width="0.8" height="0.9" fill="#5c2a84"/><rect x="281.9" y="70.8" width="0.8" height="0.9" fill="#cc1838"/><rect x="267.1" y="43.2" width="0.8" height="0.9" fill="#5c2a84"/><rect x="268.7" y="57.7" width="0.8" height="0.9" fill="#a0b8e0"/><rect x="270.0" y="53.3" width="0.8" height="0.9" fill="#cc1838"/><rect x="283.2" y="68.0" width="0.8" height="0.9" fill="#cc1838"/><rect x="287.0" y="49.2" width="0.8" height="0.9" fill="#a0b8e0"/><rect x="281.7" y="40.3" width="0.8" height="0.9" fill="#e890a8"/><rect x="265.4" y="47.4" width="0.8" height="0.9" fill="#e890a8"/><rect x="267.8" y="43.7" width="0.8" height="0.9" fill="#2a5aa0"/><rect x="271.5" y="44.8" width="0.8" height="0.9" fill="#cc1838"/><rect x="274.9" y="62.3" width="0.8" height="0.9" fill="#5c2a84"/><rect x="267.3" y="51.4" width="0.8" height="0.9" fill="#5c2a84"/><rect x="270.2" y="48.9" width="0.8" height="0.9" fill="#cc1838"/><rect x="269.6" y="52.5" width="0.8" height="0.9" fill="#e890a8"/><rect x="269.2" y="45.0" width="0.8" height="0.9" fill="#cc1838"/><rect x="267.1" y="40.4" width="0.8" height="0.9" fill="#5c2a84"/><rect x="263.9" y="45.4" width="0.8" height="0.9" fill="#e890a8"/><rect x="274.3" y="49.2" width="0.8" height="0.9" fill="#a0b8e0"/><rect x="273.4" y="50.6" width="0.8" height="0.9" fill="#5c2a84"/><rect x="269.4" y="42.0" width="0.8" height="0.9" fill="#cc1838"/><rect x="274.1" y="61.9" width="0.8" height="0.9" fill="#5c2a84"/><rect x="267.8" y="44.8" width="0.8" height="0.9" fill="#cc1838"/><rect x="287.3" y="68.1" width="0.8" height="0.9" fill="#e890a8"/><rect x="269.7" y="49.1" width="0.8" height="0.9" fill="#cc1838"/><rect x="267.5" y="51.1" width="0.8" height="0.9" fill="#cc1838"/><rect x="273.5" y="47.6" width="0.8" height="0.9" fill="#cc1838"/><rect x="275.9" y="48.5" width="0.8" height="0.9" fill="#cc1838"/><rect x="269.0" y="50.8" width="0.8" height="0.9" fill="#5c2a84"/><rect x="274.6" y="40.1" width="0.8" height="0.9" fill="#2a5aa0"/><rect x="274.3" y="40.9" width="0.8" height="0.9" fill="#5c2a84"/><rect x="276.5" y="43.5" width="0.8" height="0.9" fill="#a0b8e0"/><rect x="288.5" y="40.6" width="0.8" height="0.9" fill="#cc1838"/><rect x="278.0" y="61.3" width="0.8" height="0.9" fill="#5c2a84"/><rect x="270.1" y="42.8" width="0.8" height="0.9" fill="#a0b8e0"/><rect x="272.2" y="62.7" width="0.8" height="0.9" fill="#cc1838"/><rect x="270.9" y="47.1" width="0.8" height="0.9" fill="#a0b8e0"/><rect x="272.1" y="37.4" width="0.8" height="0.9" fill="#cc1838"/><rect x="276.5" y="66.7" width="0.8" height="0.9" fill="#e890a8"/><rect x="270.6" y="47.3" width="0.8" height="0.9" fill="#cc1838"/><rect x="267.4" y="51.7" width="0.8" height="0.9" fill="#5c2a84"/><rect x="273.5" y="60.1" width="0.8" height="0.9" fill="#2a5aa0"/><rect x="274.7" y="51.6" width="0.8" height="0.9" fill="#cc1838"/><rect x="270.5" y="51.7" width="0.8" height="0.9" fill="#cc1838"/><rect x="278.2" y="61.4" width="0.8" height="0.9" fill="#cc1838"/><rect x="271.9" y="52.8" width="0.8" height="0.9" fill="#cc1838"/><rect x="274.1" y="48.4" width="0.8" height="0.9" fill="#e890a8"/><rect x="276.4" y="44.5" width="0.8" height="0.9" fill="#5c2a84"/><rect x="270.6" y="50.0" width="0.8" height="0.9" fill="#cc1838"/><rect x="272.4" y="54.6" width="0.8" height="0.9" fill="#5c2a84"/><rect x="284.3" y="68.3" width="0.8" height="0.9" fill="#5c2a84"/><rect x="263.9" y="56.6" width="0.8" height="0.9" fill="#cc1838"/><rect x="277.7" y="39.3" width="0.8" height="0.9" fill="#e890a8"/><rect x="265.4" y="59.3" width="0.8" height="0.9" fill="#2a5aa0"/><rect x="286.3" y="59.7" width="0.8" height="0.9" fill="#cc1838"/><rect x="269.6" y="38.1" width="0.8" height="0.9" fill="#e890a8"/><rect x="274.9" y="51.7" width="0.8" height="0.9" fill="#5c2a84"/><rect x="269.0" y="47.5" width="0.8" height="0.9" fill="#cc1838"/><rect x="275.7" y="48.4" width="0.8" height="0.9" fill="#cc1838"/><rect x="288.2" y="44.0" width="0.8" height="0.9" fill="#a0b8e0"/><rect x="269.8" y="56.4" width="0.8" height="0.9" fill="#5c2a84"/><rect x="289.7" y="52.3" width="0.8" height="0.9" fill="#cc1838"/><rect x="287.3" y="42.7" width="0.8" height="0.9" fill="#cc1838"/><rect x="280.9" y="69.9" width="0.8" height="0.9" fill="#cc1838"/><rect x="277.3" y="71.8" width="0.8" height="0.9" fill="#cc1838"/><rect x="273.1" y="49.3" width="0.8" height="0.9" fill="#2a5aa0"/><rect x="277.9" y="67.6" width="0.8" height="0.9" fill="#5c2a84"/><rect x="289.0" y="46.9" width="0.8" height="0.9" fill="#cc1838"/><rect x="284.5" y="55.2" width="0.8" height="0.9" fill="#5c2a84"/><rect x="268.8" y="48.0" width="0.8" height="0.9" fill="#cc1838"/><rect x="267.9" y="51.1" width="0.8" height="0.9" fill="#cc1838"/><rect x="277.9" y="41.5" width="0.8" height="0.9" fill="#5c2a84"/><rect x="267.1" y="45.0" width="0.8" height="0.9" fill="#e890a8"/><rect x="268.4" y="41.9" width="0.8" height="0.9" fill="#a0b8e0"/><rect x="272.4" y="47.7" width="0.8" height="0.9" fill="#2a5aa0"/><rect x="282.9" y="45.5" width="0.8" height="0.9" fill="#e890a8"/><rect x="272.2" y="39.5" width="0.8" height="0.9" fill="#5c2a84"/><rect x="269.4" y="45.9" width="0.8" height="0.9" fill="#cc1838"/><rect x="269.1" y="47.2" width="0.8" height="0.9" fill="#5c2a84"/><rect x="274.5" y="45.0" width="0.8" height="0.9" fill="#2a5aa0"/><rect x="271.3" y="48.1" width="0.8" height="0.9" fill="#5c2a84"/><rect x="273.4" y="49.2" width="0.8" height="0.9" fill="#e890a8"/><rect x="272.5" y="50.0" width="0.8" height="0.9" fill="#2a5aa0"/><rect x="274.6" y="54.1" width="0.8" height="0.9" fill="#cc1838"/><rect x="273.0" y="62.2" width="0.8" height="0.9" fill="#5c2a84"/><rect x="267.1" y="43.1" width="0.8" height="0.9" fill="#5c2a84"/><rect x="266.0" y="60.4" width="0.8" height="0.9" fill="#5c2a84"/><rect x="274.1" y="63.5" width="0.8" height="0.9" fill="#5c2a84"/><rect x="273.4" y="50.5" width="0.8" height="0.9" fill="#5c2a84"/><rect x="281.1" y="47.8" width="0.8" height="0.9" fill="#cc1838"/><rect x="270.4" y="52.6" width="0.8" height="0.9" fill="#cc1838"/><rect x="286.5" y="51.8" width="0.8" height="0.9" fill="#5c2a84"/><rect x="272.9" y="37.4" width="0.8" height="0.9" fill="#cc1838"/><rect x="266.6" y="68.6" width="0.8" height="0.9" fill="#cc1838"/><rect x="264.4" y="40.0" width="0.8" height="0.9" fill="#2a5aa0"/><rect x="285.2" y="67.8" width="0.8" height="0.9" fill="#cc1838"/><rect x="273.4" y="54.3" width="0.8" height="0.9" fill="#2a5aa0"/><rect x="280.9" y="41.0" width="0.8" height="0.9" fill="#5c2a84"/><rect x="289.8" y="52.0" width="0.8" height="0.9" fill="#5c2a84"/><rect x="282.2" y="71.9" width="0.8" height="0.9" fill="#cc1838"/><rect x="281.1" y="65.1" width="0.8" height="0.9" fill="#5c2a84"/><rect x="279.2" y="55.4" width="0.8" height="0.9" fill="#cc1838"/><rect x="266.5" y="65.2" width="0.8" height="0.9" fill="#cc1838"/><rect x="267.1" y="41.3" width="0.8" height="0.9" fill="#5c2a84"/><rect x="289.2" y="54.6" width="0.8" height="0.9" fill="#cc1838"/><rect x="271.9" y="52.8" width="0.8" height="0.9" fill="#2a5aa0"/><rect x="287.3" y="39.8" width="0.8" height="0.9" fill="#2a5aa0"/><rect x="261.2" y="41.9" width="0.8" height="0.9" fill="#cc1838"/><rect x="268.2" y="47.9" width="0.8" height="0.9" fill="#5c2a84"/><rect x="273.6" y="51.8" width="0.8" height="0.9" fill="#5c2a84"/><rect x="270.1" y="56.0" width="0.8" height="0.9" fill="#a0b8e0"/><rect x="270.8" y="54.4" width="0.8" height="0.9" fill="#cc1838"/><rect x="286.1" y="42.4" width="0.8" height="0.9" fill="#cc1838"/><rect x="268.0" y="46.5" width="0.8" height="0.9" fill="#cc1838"/><rect x="272.0" y="48.2" width="0.8" height="0.9" fill="#cc1838"/><rect x="282.5" y="44.2" width="0.8" height="0.9" fill="#cc1838"/><rect x="262.3" y="48.5" width="0.8" height="0.9" fill="#cc1838"/><rect x="269.3" y="52.0" width="0.8" height="0.9" fill="#cc1838"/><rect x="274.9" y="68.6" width="0.8" height="0.9" fill="#5c2a84"/><rect x="287.1" y="70.2" width="0.8" height="0.9" fill="#cc1838"/><rect x="268.2" y="57.4" width="0.8" height="0.9" fill="#5c2a84"/><rect x="275.3" y="53.4" width="0.8" height="0.9" fill="#e890a8"/><rect x="266.5" y="50.8" width="0.8" height="0.9" fill="#cc1838"/><rect x="268.0" y="47.3" width="0.8" height="0.9" fill="#e890a8"/><rect x="274.4" y="46.3" width="0.8" height="0.9" fill="#cc1838"/><rect x="264.8" y="50.9" width="0.8" height="0.9" fill="#5c2a84"/><rect x="277.7" y="63.2" width="0.8" height="0.9" fill="#2a5aa0"/><rect x="270.4" y="47.8" width="0.8" height="0.9" fill="#2a5aa0"/><rect x="273.5" y="58.7" width="0.8" height="0.9" fill="#2a5aa0"/><rect x="269.5" y="64.2" width="0.8" height="0.9" fill="#cc1838"/><rect x="265.8" y="48.1" width="0.8" height="0.9" fill="#2a5aa0"/><rect x="272.2" y="50.5" width="0.8" height="0.9" fill="#5c2a84"/><rect x="288.5" y="60.4" width="0.8" height="0.9" fill="#2a5aa0"/><rect x="268.8" y="56.8" width="0.8" height="0.9" fill="#cc1838"/><rect x="270.4" y="52.5" width="0.8" height="0.9" fill="#cc1838"/><rect x="272.6" y="38.4" width="0.8" height="0.9" fill="#5c2a84"/><rect x="270.1" y="46.1" width="0.8" height="0.9" fill="#cc1838"/><rect x="288.1" y="60.1" width="0.8" height="0.9" fill="#cc1838"/><rect x="281.8" y="46.0" width="0.8" height="0.9" fill="#cc1838"/><rect x="276.5" y="50.1" width="0.8" height="0.9" fill="#cc1838"/><rect x="274.6" y="52.6" width="0.8" height="0.9" fill="#cc1838"/><rect x="266.4" y="50.1" width="0.8" height="0.9" fill="#cc1838"/><rect x="274.5" y="42.2" width="0.8" height="0.9" fill="#cc1838"/><rect x="273.3" y="66.4" width="0.8" height="0.9" fill="#cc1838"/><rect x="274.3" y="61.8" width="0.8" height="0.9" fill="#cc1838"/><rect x="269.5" y="52.7" width="0.8" height="0.9" fill="#cc1838"/><rect x="267.2" y="67.8" width="0.8" height="0.9" fill="#a0b8e0"/><rect x="276.4" y="39.6" width="0.8" height="0.9" fill="#5c2a84"/><rect x="288.1" y="55.3" width="0.8" height="0.9" fill="#e890a8"/><rect x="276.5" y="57.1" width="0.8" height="0.9" fill="#cc1838"/><rect x="272.4" y="39.5" width="0.8" height="0.9" fill="#cc1838"/><rect x="273.8" y="65.5" width="0.8" height="0.9" fill="#e890a8"/><rect x="279.3" y="54.3" width="0.8" height="0.9" fill="#cc1838"/><rect x="289.5" y="49.8" width="0.8" height="0.9" fill="#a0b8e0"/><rect x="269.6" y="57.7" width="0.8" height="0.9" fill="#cc1838"/><rect x="276.0" y="52.4" width="0.8" height="0.9" fill="#e890a8"/><rect x="271.7" y="60.8" width="0.8" height="0.9" fill="#cc1838"/><rect x="289.4" y="69.0" width="0.8" height="0.9" fill="#a0b8e0"/><rect x="271.7" y="50.6" width="0.8" height="0.9" fill="#cc1838"/><rect x="277.0" y="44.0" width="0.8" height="0.9" fill="#2a5aa0"/><rect x="278.3" y="50.0" width="0.8" height="0.9" fill="#cc1838"/><rect x="273.2" y="47.0" width="0.8" height="0.9" fill="#5c2a84"/><rect x="270.5" y="43.9" width="0.8" height="0.9" fill="#5c2a84"/><rect x="283.2" y="50.4" width="0.8" height="0.9" fill="#cc1838"/><rect x="279.1" y="68.7" width="0.8" height="0.9" fill="#2a5aa0"/><rect x="273.5" y="70.4" width="0.8" height="0.9" fill="#5c2a84"/></g>
<path d="M256,71 C255,69 256.5,67 259,66.5 C261,66 262.5,65 264.5,64.6 L265.6,65.4 C264.2,67 263,68.5 262,70.5 C260.5,72.8 257,73 256,71Z" fill="#b41a3c" stroke="none" stroke-width="1" />
<path d="M275.4,70.5 L276.6,70.5 C277.5,73 279.5,76 280,79 C280.4,82 280,86 278,86.8 C275.6,87.2 274.5,84 274.7,81 C274.9,78 276,75 275.4,70.5Z" fill="#b41a3c" stroke="none" stroke-width="1" />
<path d="M318.8,82 C318.5,78 321,76.3 326,76.3 C331,76.5 335,78.5 339,80.5 C343,82 347,83 351,84.5 C354,85.5 357,86.5 359,88 L359,91 C356,91.5 352,90.5 348,89.5 C344,89 340,89.5 336,90 C331,90.5 325,90.5 321,89.5 C319.2,88.5 318.8,85 318.8,82Z" fill="#5a2e88" stroke="none" stroke-width="1" />
<path d="M343.5,84 L345,80 L346.5,83 L348.5,78.5 L350,83.5 L351.5,80 L352.5,85Z" fill="#5a2e88" stroke="none" stroke-width="1" />
<path d="M357,90 C357,87 360,85.5 364,86 C368,86.5 369.5,89 369,92 C368,94.8 364,95.5 361,95 C358.5,94.5 357,92.5 357,90Z" fill="#5a2e88" stroke="none" stroke-width="1" />
<path d="M322.8,47 C323,43.5 327,42 331,41 C335,40 338,37.5 341.5,37.5 C344.5,38 345,42 344,45.5 C343,49 341,52 337,54.5 C333,57 328,57.8 325,56.5 C322.8,55 322.5,50 322.8,47Z" fill="#5a2e88" stroke="none" stroke-width="1" />
<path d="M337.7,40 C337.5,36 340.5,33 344.5,32.5 C348.5,32 353,32 354.3,34.5 C355.2,38 354.5,42 351.5,44.5 C348.5,46 344,45.5 341,44.5 C338.8,43.5 337.8,42 337.7,40Z" fill="#5a2e88" stroke="none" stroke-width="1" />
<path d="M323.5,52 C326,49.5 331,49.5 335,50.5 C338,51.5 339.5,53 337,55.5 C333,57.5 327,58 324.5,56.5 C323,55.5 323,53 323.5,52Z" fill="#5a2e88" stroke="none" stroke-width="1" />
<path d="M339.5,48.5 C341,46 344.5,44.3 347.5,44.5 C348.8,45.5 347.5,48.5 345,50 C342.5,51.2 340.5,50.8 339.5,48.5Z" fill="#5a2e88" stroke="none" stroke-width="1" />
<path d="M330,57 L332,57 C333.2,60 334.2,63 334,66 C333.6,68.5 330.8,69.2 330,67 C329.4,64 329.8,60 330,57Z" fill="#5a2e88" stroke="none" stroke-width="1" />
<path d="M309,103.5 C308.5,100.5 311,99.5 314,99.7 C316,99.8 317,100.6 318.5,100.3 C321,99.6 325,99.2 324.9,102.5 C324.7,106 322.5,108.5 321,111 C320,113 320,116 319.8,119.8 L317.2,119.8 C317,116 316.5,113 315,110.5 C313,108.5 309.5,106.5 309,103.5Z" fill="#5a2e88" stroke="none" stroke-width="1" />
<path d="M338.6,104 C339.5,101.5 341.5,101 343,100.3 L344,101.5 C345.5,101 347,101.5 347.3,102.5 C346,103.5 344,104 342,104.5 C340.5,105.5 339,105.5 338.6,104Z" fill="#5a2e88" stroke="none" stroke-width="1" />
<path d="M341,120.5 C342,119.5 345,118.5 348.5,117.8 C349.5,118 349.5,119 348.5,119.8 C346,120.5 343.5,121.2 341.5,121.3Z" fill="#5a2e88" stroke="none" stroke-width="1" />
<path d="M256,71 C255,69 256.5,67 259,66.5 C261,66 262.5,65 264.5,64.6 L265.6,65.4 C264.2,67 263,68.5 262,70.5 C260.5,72.8 257,73 256,71Z" fill="url(#pmix)" stroke="none" stroke-width="1" />
<path d="M275.4,70.5 L276.6,70.5 C277.5,73 279.5,76 280,79 C280.4,82 280,86 278,86.8 C275.6,87.2 274.5,84 274.7,81 C274.9,78 276,75 275.4,70.5Z" fill="url(#pmix)" stroke="none" stroke-width="1" />
<path d="M318.8,82 C318.5,78 321,76.3 326,76.3 C331,76.5 335,78.5 339,80.5 C343,82 347,83 351,84.5 C354,85.5 357,86.5 359,88 L359,91 C356,91.5 352,90.5 348,89.5 C344,89 340,89.5 336,90 C331,90.5 325,90.5 321,89.5 C319.2,88.5 318.8,85 318.8,82Z" fill="url(#pmix)" stroke="none" stroke-width="1" />
<path d="M343.5,84 L345,80 L346.5,83 L348.5,78.5 L350,83.5 L351.5,80 L352.5,85Z" fill="url(#pmix)" stroke="none" stroke-width="1" />
<path d="M357,90 C357,87 360,85.5 364,86 C368,86.5 369.5,89 369,92 C368,94.8 364,95.5 361,95 C358.5,94.5 357,92.5 357,90Z" fill="url(#pmix)" stroke="none" stroke-width="1" />
<path d="M322.8,47 C323,43.5 327,42 331,41 C335,40 338,37.5 341.5,37.5 C344.5,38 345,42 344,45.5 C343,49 341,52 337,54.5 C333,57 328,57.8 325,56.5 C322.8,55 322.5,50 322.8,47Z" fill="url(#pmix)" stroke="none" stroke-width="1" />
<path d="M337.7,40 C337.5,36 340.5,33 344.5,32.5 C348.5,32 353,32 354.3,34.5 C355.2,38 354.5,42 351.5,44.5 C348.5,46 344,45.5 341,44.5 C338.8,43.5 337.8,42 337.7,40Z" fill="url(#pmix)" stroke="none" stroke-width="1" />
<path d="M323.5,52 C326,49.5 331,49.5 335,50.5 C338,51.5 339.5,53 337,55.5 C333,57.5 327,58 324.5,56.5 C323,55.5 323,53 323.5,52Z" fill="url(#pmix)" stroke="none" stroke-width="1" />
<path d="M339.5,48.5 C341,46 344.5,44.3 347.5,44.5 C348.8,45.5 347.5,48.5 345,50 C342.5,51.2 340.5,50.8 339.5,48.5Z" fill="url(#pmix)" stroke="none" stroke-width="1" />
<path d="M330,57 L332,57 C333.2,60 334.2,63 334,66 C333.6,68.5 330.8,69.2 330,67 C329.4,64 329.8,60 330,57Z" fill="url(#pmix)" stroke="none" stroke-width="1" />
<path d="M309,103.5 C308.5,100.5 311,99.5 314,99.7 C316,99.8 317,100.6 318.5,100.3 C321,99.6 325,99.2 324.9,102.5 C324.7,106 322.5,108.5 321,111 C320,113 320,116 319.8,119.8 L317.2,119.8 C317,116 316.5,113 315,110.5 C313,108.5 309.5,106.5 309,103.5Z" fill="url(#pmix)" stroke="none" stroke-width="1" />
<path d="M338.6,104 C339.5,101.5 341.5,101 343,100.3 L344,101.5 C345.5,101 347,101.5 347.3,102.5 C346,103.5 344,104 342,104.5 C340.5,105.5 339,105.5 338.6,104Z" fill="url(#pmix)" stroke="none" stroke-width="1" />
<path d="M341,120.5 C342,119.5 345,118.5 348.5,117.8 C349.5,118 349.5,119 348.5,119.8 C346,120.5 343.5,121.2 341.5,121.3Z" fill="url(#pmix)" stroke="none" stroke-width="1" />
</g>
<rect x="439.20" y="16.50" width="1.60" height="1.40" fill="#cc1838" />
<circle cx="393.00" cy="102.90" r="1.90" fill="#1f5690" />
<text x="397.80" y="105.41" font-size="7.0" fill="#222" stroke="#222" stroke-width="0.15" >HD</text>
<circle cx="393.00" cy="112.40" r="1.90" fill="#cc1838" />
<text x="397.80" y="114.91" font-size="7.0" fill="#222" stroke="#222" stroke-width="0.15" >MBL</text>
<circle cx="393.00" cy="121.60" r="1.90" fill="#5c2a84" />
<text x="397.80" y="124.11" font-size="7.0" fill="#222" stroke="#222" stroke-width="0.15" >CLL</text>
<text x="7.00" y="144.40" font-size="10" font-weight="bold" fill="#000" stroke="#000" stroke-width="0.15" >C</text>
<text x="41.70" y="145.13" font-size="7.9" textLength="47.30" lengthAdjust="spacingAndGlyphs" fill="#222" stroke="#222" stroke-width="0.15" >All cell types</text>
<text x="168.50" y="145.13" font-size="7.9" textLength="42.20" lengthAdjust="spacingAndGlyphs" fill="#222" stroke="#222" stroke-width="0.15" >T cells only</text>
<line x1="36.30" y1="148.60" x2="36.30" y2="295.90" stroke="#222" stroke-width="1.2" />
<line x1="35.70" y1="295.30" x2="93.70" y2="295.30" stroke="#222" stroke-width="1.2" />
<line x1="33.00" y1="152.15" x2="36.30" y2="152.15" stroke="#222" stroke-width="0.9" />
<text x="31.00" y="154.80" font-size="7.4" text-anchor="end" fill="#222" stroke="#222" stroke-width="0.15" >100</text>
<line x1="33.00" y1="180.64" x2="36.30" y2="180.64" stroke="#222" stroke-width="0.9" />
<text x="31.00" y="183.29" font-size="7.4" text-anchor="end" fill="#222" stroke="#222" stroke-width="0.15" >80</text>
<line x1="33.00" y1="209.13" x2="36.30" y2="209.13" stroke="#222" stroke-width="0.9" />
<text x="31.00" y="211.78" font-size="7.4" text-anchor="end" fill="#222" stroke="#222" stroke-width="0.15" >60</text>
<line x1="33.00" y1="237.62" x2="36.30" y2="237.62" stroke="#222" stroke-width="0.9" />
<text x="31.00" y="240.27" font-size="7.4" text-anchor="end" fill="#222" stroke="#222" stroke-width="0.15" >40</text>
<line x1="33.00" y1="266.11" x2="36.30" y2="266.11" stroke="#222" stroke-width="0.9" />
<text x="31.00" y="268.76" font-size="7.4" text-anchor="end" fill="#222" stroke="#222" stroke-width="0.15" >20</text>
<line x1="160.80" y1="148.60" x2="160.80" y2="295.90" stroke="#222" stroke-width="1.2" />
<line x1="160.20" y1="295.30" x2="211.50" y2="295.30" stroke="#222" stroke-width="1.2" />
<line x1="157.50" y1="152.15" x2="160.80" y2="152.15" stroke="#222" stroke-width="0.9" />
<text x="153.80" y="154.80" font-size="7.4" text-anchor="end" fill="#222" stroke="#222" stroke-width="0.15" >100</text>
<line x1="157.50" y1="180.64" x2="160.80" y2="180.64" stroke="#222" stroke-width="0.9" />
<text x="153.80" y="183.29" font-size="7.4" text-anchor="end" fill="#222" stroke="#222" stroke-width="0.15" >80</text>
<line x1="157.50" y1="209.13" x2="160.80" y2="209.13" stroke="#222" stroke-width="0.9" />
<text x="153.80" y="211.78" font-size="7.4" text-anchor="end" fill="#222" stroke="#222" stroke-width="0.15" >60</text>
<line x1="157.50" y1="237.62" x2="160.80" y2="237.62" stroke="#222" stroke-width="0.9" />
<text x="153.80" y="240.27" font-size="7.4" text-anchor="end" fill="#222" stroke="#222" stroke-width="0.15" >40</text>
<line x1="157.50" y1="266.11" x2="160.80" y2="266.11" stroke="#222" stroke-width="0.9" />
<text x="153.80" y="268.76" font-size="7.4" text-anchor="end" fill="#222" stroke="#222" stroke-width="0.15" >20</text>
<text transform="translate(13.50,211.5) rotate(-90)" font-size="7.6" text-anchor="middle" fill="#222" stroke="#222" stroke-width="0.15" textLength="89" lengthAdjust="spacingAndGlyphs">Percent cell subpopulation</text>
<text transform="translate(135.90,211.5) rotate(-90)" font-size="7.6" text-anchor="middle" fill="#222" stroke="#222" stroke-width="0.15" textLength="89" lengthAdjust="spacingAndGlyphs">Percent cell subpopulation</text>
<rect x="40.80" y="151.20" width="12.80" height="6.10" fill="#a8cde2" />
<rect x="40.80" y="156.80" width="12.80" height="1.80" fill="#3a8ea5" />
<rect x="40.80" y="158.10" width="12.80" height="44.10" fill="#3bab49" />
<rect x="40.80" y="201.70" width="12.80" height="11.80" fill="#f99b51" />
<rect x="40.80" y="213.00" width="12.80" height="79.10" fill="#d4a1a1" />
<rect x="40.80" y="291.60" width="12.80" height="3.40" fill="#c8102e" />
<rect x="57.90" y="151.20" width="12.70" height="9.20" fill="#a8cde2" />
<rect x="57.90" y="159.90" width="12.70" height="2.40" fill="#3a8ea5" />
<rect x="57.90" y="161.80" width="12.70" height="35.50" fill="#3bab49" />
<rect x="57.90" y="196.80" width="12.70" height="48.50" fill="#f99b51" />
<rect x="57.90" y="244.80" width="12.70" height="45.30" fill="#d4a1a1" />
<rect x="57.90" y="289.60" width="12.70" height="5.40" fill="#c8102e" />
<rect x="74.80" y="151.20" width="13.10" height="6.10" fill="#a8cde2" />
<rect x="74.80" y="156.80" width="13.10" height="1.30" fill="#3a8ea5" />
<rect x="74.80" y="157.60" width="13.10" height="30.70" fill="#3bab49" />
<rect x="74.80" y="187.80" width="13.10" height="48.70" fill="#f99b51" />
<rect x="74.80" y="236.00" width="13.10" height="55.00" fill="#d4a1a1" />
<rect x="74.80" y="290.50" width="13.10" height="4.50" fill="#c8102e" />
<text x="47.20" y="182.06" font-size="8.0" text-anchor="middle" fill="#fff" >30</text>
<text x="47.20" y="208.86" font-size="8.0" text-anchor="middle" fill="#fff" >8</text>
<text x="47.20" y="254.16" font-size="8.0" text-anchor="middle" fill="#fff" >55</text>
<text x="64.20" y="157.86" font-size="8.0" text-anchor="middle" fill="#231f20" stroke="#231f20" stroke-width="0.15" >6</text>
<text x="64.20" y="181.76" font-size="8.0" text-anchor="middle" fill="#fff" >24</text>
<text x="64.20" y="222.56" font-size="8.0" text-anchor="middle" fill="#fff" >34</text>
<text x="64.20" y="268.96" font-size="8.0" text-anchor="middle" fill="#fff" >31</text>
<text x="81.30" y="174.66" font-size="8.0" text-anchor="middle" fill="#fff" >21</text>
<text x="81.30" y="214.16" font-size="8.0" text-anchor="middle" fill="#fff" >33</text>
<text x="81.30" y="264.96" font-size="8.0" text-anchor="middle" fill="#fff" >38</text>
<rect x="91.90" y="196.30" width="6.10" height="6.10" fill="#a8cde2" />
<text x="101.50" y="201.93" font-size="7.2" textLength="16.70" lengthAdjust="spacingAndGlyphs" fill="#3a3a3a" stroke="#3a3a3a" stroke-width="0.15" >Mono</text>
<rect x="91.90" y="204.50" width="6.10" height="6.10" fill="#3a8ea5" />
<text x="101.50" y="210.13" font-size="7.2" textLength="8.50" lengthAdjust="spacingAndGlyphs" fill="#3a3a3a" stroke="#3a3a3a" stroke-width="0.15" >DC</text>
<rect x="91.90" y="212.70" width="6.10" height="6.10" fill="#3bab49" />
<text x="101.50" y="218.33" font-size="7.2" textLength="9.00" lengthAdjust="spacingAndGlyphs" fill="#3a3a3a" stroke="#3a3a3a" stroke-width="0.15" >NK</text>
<rect x="91.90" y="220.90" width="6.10" height="6.10" fill="#f99b51" />
<text x="101.50" y="226.53" font-size="7.2" textLength="17.70" lengthAdjust="spacingAndGlyphs" fill="#3a3a3a" stroke="#3a3a3a" stroke-width="0.15" >CD8 T</text>
<rect x="91.90" y="229.10" width="6.10" height="6.10" fill="#d4a1a1" />
<text x="101.50" y="234.73" font-size="7.2" textLength="17.70" lengthAdjust="spacingAndGlyphs" fill="#3a3a3a" stroke="#3a3a3a" stroke-width="0.15" >CD4 T</text>
<rect x="91.90" y="237.30" width="6.10" height="6.10" fill="#c8102e" />
<text x="101.50" y="242.93" font-size="7.2" textLength="22.30" lengthAdjust="spacingAndGlyphs" fill="#3a3a3a" stroke="#3a3a3a" stroke-width="0.15" >Other T</text>
<rect x="91.90" y="245.50" width="6.10" height="6.10" fill="#b8b8c0" />
<text x="101.50" y="251.13" font-size="7.2" textLength="16.70" lengthAdjust="spacingAndGlyphs" fill="#3a3a3a" stroke="#3a3a3a" stroke-width="0.15" >Other</text>
<text x="47.10" y="305.45" font-size="7.4" text-anchor="middle" fill="#222" stroke="#222" stroke-width="0.15" >HD</text>
<text x="64.20" y="305.45" font-size="7.4" text-anchor="middle" fill="#222" stroke="#222" stroke-width="0.15" >MBL</text>
<text x="81.30" y="305.45" font-size="7.4" text-anchor="middle" fill="#222" stroke="#222" stroke-width="0.15" >CLL</text>
<text x="34.30" y="313.75" font-size="7.4" textLength="14.80" lengthAdjust="spacingAndGlyphs" fill="#222" stroke="#222" stroke-width="0.15" >n= 2</text>
<text x="64.00" y="313.75" font-size="7.4" text-anchor="middle" fill="#222" stroke="#222" stroke-width="0.15" >4</text>
<text x="81.30" y="313.75" font-size="7.4" text-anchor="middle" fill="#222" stroke="#222" stroke-width="0.15" >4</text>
<rect x="164.00" y="151.10" width="12.90" height="5.20" fill="#d9584f" />
<rect x="164.00" y="155.80" width="12.90" height="1.60" fill="#c41230" />
<rect x="164.00" y="156.90" width="12.90" height="4.20" fill="#fa9f5f" />
<rect x="164.00" y="160.60" width="12.90" height="4.50" fill="#eea06e" />
<rect x="164.00" y="164.60" width="12.90" height="10.70" fill="#fd8c00" />
<rect x="164.00" y="174.80" width="12.90" height="51.90" fill="#d4a0a0" />
<rect x="164.00" y="226.20" width="12.90" height="61.40" fill="#8482c2" />
<rect x="164.00" y="287.10" width="12.90" height="5.20" fill="#5b1f6c" />
<rect x="164.00" y="291.80" width="12.90" height="2.10" fill="#d8d09c" />
<rect x="164.00" y="293.40" width="12.90" height="1.60" fill="#e2c474" />
<rect x="181.20" y="151.10" width="12.90" height="6.30" fill="#d9584f" />
<rect x="181.20" y="156.90" width="12.90" height="3.40" fill="#c41230" />
<rect x="181.20" y="159.80" width="12.90" height="3.90" fill="#fa9f5f" />
<rect x="181.20" y="163.20" width="12.90" height="4.20" fill="#eea06e" />
<rect x="181.20" y="166.90" width="12.90" height="65.50" fill="#fd8c00" />
<rect x="181.20" y="231.90" width="12.90" height="20.30" fill="#d4a0a0" />
<rect x="181.20" y="251.70" width="12.90" height="32.70" fill="#8482c2" />
<rect x="181.20" y="283.90" width="12.90" height="8.20" fill="#5b1f6c" />
<rect x="181.20" y="291.60" width="12.90" height="2.20" fill="#d8d09c" />
<rect x="181.20" y="293.30" width="12.90" height="1.70" fill="#e2c474" />
<rect x="198.60" y="151.10" width="12.50" height="4.40" fill="#d9584f" />
<rect x="198.60" y="155.00" width="12.50" height="4.30" fill="#c41230" />
<rect x="198.60" y="158.80" width="12.50" height="4.00" fill="#fa9f5f" />
<rect x="198.60" y="162.30" width="12.50" height="4.20" fill="#eea06e" />
<rect x="198.60" y="166.00" width="12.50" height="57.10" fill="#fd8c00" />
<rect x="198.60" y="222.60" width="12.50" height="15.00" fill="#d4a0a0" />
<rect x="198.60" y="237.10" width="12.50" height="43.70" fill="#8482c2" />
<rect x="198.60" y="280.30" width="12.50" height="10.20" fill="#5b1f6c" />
<rect x="198.60" y="290.00" width="12.50" height="3.50" fill="#d8d09c" />
<rect x="198.60" y="293.00" width="12.50" height="2.00" fill="#e2c474" />
<text x="170.40" y="172.26" font-size="8.0" text-anchor="middle" fill="#fff" >7</text>
<text x="170.40" y="202.46" font-size="8.0" text-anchor="middle" fill="#fff" >36</text>
<text x="170.40" y="259.06" font-size="8.0" text-anchor="middle" fill="#fff" >42</text>
<text x="187.60" y="201.66" font-size="8.0" text-anchor="middle" fill="#fff" >45</text>
<text x="187.60" y="243.66" font-size="8.0" text-anchor="middle" fill="#fff" >14</text>
<text x="187.60" y="269.66" font-size="8.0" text-anchor="middle" fill="#fff" >22</text>
<text x="204.90" y="196.66" font-size="8.0" text-anchor="middle" fill="#fff" >39</text>
<text x="204.90" y="231.56" font-size="8.0" text-anchor="middle" fill="#fff" >10</text>
<text x="204.90" y="260.36" font-size="8.0" text-anchor="middle" fill="#fff" >30</text>
<rect x="215.10" y="184.10" width="6.80" height="6.20" fill="#d9584f" />
<text x="224.90" y="189.78" font-size="7.2" textLength="11.10" lengthAdjust="spacingAndGlyphs" fill="#3a3a3a" stroke="#3a3a3a" stroke-width="0.15" >gdT</text>
<rect x="215.10" y="192.29" width="6.80" height="6.20" fill="#c41230" />
<text x="224.90" y="197.97" font-size="7.2" textLength="15.00" lengthAdjust="spacingAndGlyphs" fill="#3a3a3a" stroke="#3a3a3a" stroke-width="0.15" >MAIT</text>
<rect x="215.10" y="200.48" width="6.80" height="6.20" fill="#fa9f5f" />
<text x="224.90" y="206.16" font-size="7.2" textLength="28.90" lengthAdjust="spacingAndGlyphs" fill="#3a3a3a" stroke="#3a3a3a" stroke-width="0.15" >CD8 naive</text>
<rect x="215.10" y="208.67" width="6.80" height="6.20" fill="#eea06e" />
<text x="224.90" y="214.35" font-size="7.2" textLength="28.00" lengthAdjust="spacingAndGlyphs" fill="#3a3a3a" stroke="#3a3a3a" stroke-width="0.15" >CD8 TCM</text>
<rect x="215.10" y="216.86" width="6.80" height="6.20" fill="#fd8c00" />
<text x="224.90" y="222.54" font-size="7.2" textLength="27.20" lengthAdjust="spacingAndGlyphs" fill="#3a3a3a" stroke="#3a3a3a" stroke-width="0.15" >CD8 TEM</text>
<rect x="215.10" y="225.05" width="6.80" height="6.20" fill="#d4a0a0" />
<text x="224.90" y="230.73" font-size="7.2" textLength="28.90" lengthAdjust="spacingAndGlyphs" fill="#3a3a3a" stroke="#3a3a3a" stroke-width="0.15" >CD4 naive</text>
<rect x="215.10" y="233.24" width="6.80" height="6.20" fill="#8482c2" />
<text x="224.90" y="238.92" font-size="7.2" textLength="28.00" lengthAdjust="spacingAndGlyphs" fill="#3a3a3a" stroke="#3a3a3a" stroke-width="0.15" >CD4 TCM</text>
<rect x="215.10" y="241.43" width="6.80" height="6.20" fill="#5b1f6c" />
<text x="224.90" y="247.11" font-size="7.2" textLength="27.20" lengthAdjust="spacingAndGlyphs" fill="#3a3a3a" stroke="#3a3a3a" stroke-width="0.15" >CD4 TEM</text>
<rect x="215.10" y="249.62" width="6.80" height="6.20" fill="#d8d09c" />
<text x="224.90" y="255.30" font-size="7.2" textLength="25.50" lengthAdjust="spacingAndGlyphs" fill="#3a3a3a" stroke="#3a3a3a" stroke-width="0.15" >CD4 CTL</text>
<rect x="215.10" y="257.81" width="6.80" height="6.20" fill="#e2c474" />
<text x="224.90" y="263.49" font-size="7.2" textLength="13.30" lengthAdjust="spacingAndGlyphs" fill="#3a3a3a" stroke="#3a3a3a" stroke-width="0.15" >Treg</text>
<text x="164.60" y="305.35" font-size="7.4" textLength="12.10" lengthAdjust="spacingAndGlyphs" fill="#222" stroke="#222" stroke-width="0.15" >HD</text>
<text x="180.00" y="305.35" font-size="7.4" textLength="15.40" lengthAdjust="spacingAndGlyphs" fill="#222" stroke="#222" stroke-width="0.15" >MBL</text>
<text x="198.50" y="305.35" font-size="7.4" textLength="13.80" lengthAdjust="spacingAndGlyphs" fill="#222" stroke="#222" stroke-width="0.15" >CLL</text>
<text x="157.10" y="313.45" font-size="7.4" textLength="15.80" lengthAdjust="spacingAndGlyphs" fill="#222" stroke="#222" stroke-width="0.15" >n= 2</text>
<text x="187.30" y="313.45" font-size="7.4" text-anchor="middle" fill="#222" stroke="#222" stroke-width="0.15" >4</text>
<text x="205.20" y="313.45" font-size="7.4" text-anchor="middle" fill="#222" stroke="#222" stroke-width="0.15" >4</text>
<text x="266.80" y="173.00" font-size="10" font-weight="bold" fill="#000" stroke="#000" stroke-width="0.15" >D</text>
<line x1="295.60" y1="172.80" x2="295.60" y2="409.20" stroke="#222" stroke-width="1.2" />
<line x1="308.60" y1="172.80" x2="308.60" y2="408.60" stroke="#333" stroke-width="0.9" />
<line x1="320.60" y1="172.80" x2="320.60" y2="408.60" stroke="#333" stroke-width="0.9" />
<line x1="332.50" y1="172.80" x2="332.50" y2="408.60" stroke="#333" stroke-width="0.9" />
<line x1="344.20" y1="172.80" x2="344.20" y2="408.60" stroke="#333" stroke-width="0.9" />
<line x1="295.00" y1="408.60" x2="347.50" y2="408.60" stroke="#222" stroke-width="1.2" />
<line x1="355.30" y1="172.80" x2="355.30" y2="409.20" stroke="#222" stroke-width="1.2" />
<line x1="372.30" y1="172.80" x2="372.30" y2="408.60" stroke="#333" stroke-width="0.9" />
<line x1="354.70" y1="408.60" x2="390.30" y2="408.60" stroke="#222" stroke-width="1.2" />
<line x1="292.40" y1="408.60" x2="295.60" y2="408.60" stroke="#222" stroke-width="0.9" />
<line x1="352.20" y1="408.60" x2="355.30" y2="408.60" stroke="#222" stroke-width="0.9" />
<text x="288.80" y="411.25" font-size="7.4" text-anchor="end" fill="#222" stroke="#222" stroke-width="0.15" >0</text>
<line x1="292.40" y1="372.85" x2="295.60" y2="372.85" stroke="#222" stroke-width="0.9" />
<line x1="352.20" y1="372.85" x2="355.30" y2="372.85" stroke="#222" stroke-width="0.9" />
<text x="288.80" y="375.50" font-size="7.4" text-anchor="end" fill="#222" stroke="#222" stroke-width="0.15" >10</text>
<line x1="292.40" y1="337.10" x2="295.60" y2="337.10" stroke="#222" stroke-width="0.9" />
<line x1="352.20" y1="337.10" x2="355.30" y2="337.10" stroke="#222" stroke-width="0.9" />
<text x="288.80" y="339.75" font-size="7.4" text-anchor="end" fill="#222" stroke="#222" stroke-width="0.15" >20</text>
<line x1="292.40" y1="301.35" x2="295.60" y2="301.35" stroke="#222" stroke-width="0.9" />
<line x1="352.20" y1="301.35" x2="355.30" y2="301.35" stroke="#222" stroke-width="0.9" />
<text x="288.80" y="304.00" font-size="7.4" text-anchor="end" fill="#222" stroke="#222" stroke-width="0.15" >30</text>
<line x1="292.40" y1="265.60" x2="295.60" y2="265.60" stroke="#222" stroke-width="0.9" />
<line x1="352.20" y1="265.60" x2="355.30" y2="265.60" stroke="#222" stroke-width="0.9" />
<text x="288.80" y="268.25" font-size="7.4" text-anchor="end" fill="#222" stroke="#222" stroke-width="0.15" >40</text>
<line x1="292.40" y1="229.85" x2="295.60" y2="229.85" stroke="#222" stroke-width="0.9" />
<line x1="352.20" y1="229.85" x2="355.30" y2="229.85" stroke="#222" stroke-width="0.9" />
<text x="288.80" y="232.50" font-size="7.4" text-anchor="end" fill="#222" stroke="#222" stroke-width="0.15" >50</text>
<line x1="292.40" y1="194.10" x2="295.60" y2="194.10" stroke="#222" stroke-width="0.9" />
<line x1="352.20" y1="194.10" x2="355.30" y2="194.10" stroke="#222" stroke-width="0.9" />
<text x="288.80" y="196.75" font-size="7.4" text-anchor="end" fill="#222" stroke="#222" stroke-width="0.15" >60</text>
<line x1="302.20" y1="408.60" x2="302.20" y2="411.20" stroke="#222" stroke-width="0.8" />
<line x1="314.70" y1="408.60" x2="314.70" y2="411.20" stroke="#222" stroke-width="0.8" />
<line x1="326.40" y1="408.60" x2="326.40" y2="411.20" stroke="#222" stroke-width="0.8" />
<line x1="338.30" y1="408.60" x2="338.30" y2="411.20" stroke="#222" stroke-width="0.8" />
<line x1="364.50" y1="408.60" x2="364.50" y2="411.20" stroke="#222" stroke-width="0.8" />
<line x1="381.80" y1="408.60" x2="381.80" y2="411.20" stroke="#222" stroke-width="0.8" />
<text transform="translate(272.7,291.1) rotate(-90)" font-size="7.6" text-anchor="middle" fill="#222" stroke="#222" stroke-width="0.15" textLength="128.4" lengthAdjust="spacingAndGlyphs">Number differentially expressed genes</text>
<path d="M298.80,408.60L305.60,408.60M299.80,406.20L304.60,411.00M302.20,405.20L302.20,412.00M304.60,406.20L299.80,411.00" stroke="#a9c6de" stroke-width="0.6" fill="none"/>
<rect x="301.40" y="407.80" width="1.60" height="1.60" fill="#c4d8ea" />
<path d="M302.20,388.53L304.40,390.73L302.20,392.93L300.00,390.73Z" fill="#d8a0a0"/>
<path d="M302.20,392.10L304.40,394.30L302.20,396.50L300.00,394.30Z" fill="#5a1a6e"/>
<path d="M302.20,395.68L304.40,397.88L302.20,400.07L300.00,397.88Z" fill="#8a80c8"/>
<path d="M302.20,399.25L304.40,401.45L302.20,403.65L300.00,401.45Z" fill="#c9dbbd"/>
<path d="M302.20,402.83L304.40,405.03L302.20,407.23L300.00,405.03Z" fill="#c8102e"/>
<path d="M302.20,406.40L304.40,408.60L302.20,410.80L300.00,408.60Z" fill="#e2c070"/>
<path d="M311.30,347.83L318.10,347.83M312.30,345.42L317.10,350.23M314.70,344.43L314.70,351.23M317.10,345.42L312.30,350.23" stroke="#a9c6de" stroke-width="0.6" fill="none"/>
<rect x="313.90" y="347.03" width="1.60" height="1.60" fill="#c4d8ea" />
<path d="M311.30,387.15L318.10,387.15M312.30,384.75L317.10,389.55M314.70,383.75L314.70,390.55M317.10,384.75L312.30,389.55" stroke="#5a8ab8" stroke-width="0.6" fill="none"/>
<rect x="313.80" y="386.25" width="1.80" height="1.80" fill="#1f4f88" />
<path d="M311.30,397.88L318.10,397.88M312.30,395.47L317.10,400.28M314.70,394.48L314.70,401.27M317.10,395.47L312.30,400.28" stroke="#5a8ab8" stroke-width="0.6" fill="none"/>
<rect x="313.80" y="396.98" width="1.80" height="1.80" fill="#1f4f88" />
<path d="M314.70,388.53L316.90,390.73L314.70,392.93L312.50,390.73Z" fill="#8a80c8"/>
<path d="M314.70,395.68L316.90,397.88L314.70,400.07L312.50,397.88Z" fill="#5a1a6e"/>
<path d="M314.70,399.25L316.90,401.45L314.70,403.65L312.50,401.45Z" fill="#d8a0a0"/>
<path d="M314.70,402.83L316.90,405.03L314.70,407.23L312.50,405.03Z" fill="#e2c070"/>
<path d="M314.70,406.40L316.90,408.60L314.70,410.80L312.50,408.60Z" fill="#c9dbbd"/>
<path d="M323.00,315.65L329.80,315.65M324.00,313.25L328.80,318.05M326.40,312.25L326.40,319.05M328.80,313.25L324.00,318.05" stroke="#5a8ab8" stroke-width="0.6" fill="none"/>
<rect x="325.50" y="314.75" width="1.80" height="1.80" fill="#1f4f88" />
<path d="M323.00,351.40L329.80,351.40M324.00,349.00L328.80,353.80M326.40,348.00L326.40,354.80M328.80,349.00L324.00,353.80" stroke="#a9c6de" stroke-width="0.6" fill="none"/>
<rect x="325.60" y="350.60" width="1.60" height="1.60" fill="#c4d8ea" />
<path d="M323.00,408.60L329.80,408.60M324.00,406.20L328.80,411.00M326.40,405.20L326.40,412.00M328.80,406.20L324.00,411.00" stroke="#5a8ab8" stroke-width="0.6" fill="none"/>
<rect x="325.50" y="407.70" width="1.80" height="1.80" fill="#1f4f88" />
<path d="M326.40,313.45L328.60,315.65L326.40,317.85L324.20,315.65Z" fill="#d8a0a0"/>
<path d="M326.40,320.60L328.60,322.80L326.40,325.00L324.20,322.80Z" fill="#8a80c8"/>
<path d="M326.40,331.33L328.60,333.53L326.40,335.73L324.20,333.53Z" fill="#ff8c00"/>
<path d="M326.40,359.93L328.60,362.12L326.40,364.32L324.20,362.12Z" fill="#5a9e3a"/>
<path d="M326.40,367.08L328.60,369.28L326.40,371.48L324.20,369.28Z" fill="#e0604f"/>
<path d="M326.40,374.23L328.60,376.43L326.40,378.62L324.20,376.43Z" fill="#c9dbbd"/>
<path d="M326.40,384.95L328.60,387.15L326.40,389.35L324.20,387.15Z" fill="#ff8c00"/>
<path d="M326.40,388.53L328.60,390.73L326.40,392.93L324.20,390.73Z" fill="#e2c070"/>
<path d="M326.40,406.40L328.60,408.60L326.40,410.80L324.20,408.60Z" fill="#c8102e"/>
<path d="M334.90,380.00L341.70,380.00M335.90,377.60L340.70,382.40M338.30,376.60L338.30,383.40M340.70,377.60L335.90,382.40" stroke="#a9c6de" stroke-width="0.6" fill="none"/>
<rect x="337.50" y="379.20" width="1.60" height="1.60" fill="#c4d8ea" />
<path d="M334.90,405.03L341.70,405.03M335.90,402.62L340.70,407.43M338.30,401.63L338.30,408.43M340.70,402.62L335.90,407.43" stroke="#5a8ab8" stroke-width="0.6" fill="none"/>
<rect x="337.40" y="404.13" width="1.80" height="1.80" fill="#1f4f88" />
<path d="M334.90,408.60L341.70,408.60M335.90,406.20L340.70,411.00M338.30,405.20L338.30,412.00M340.70,406.20L335.90,411.00" stroke="#a9c6de" stroke-width="0.6" fill="none"/>
<rect x="337.50" y="407.80" width="1.60" height="1.60" fill="#c4d8ea" />
<path d="M338.30,284.85L340.50,287.05L338.30,289.25L336.10,287.05Z" fill="#8a80c8"/>
<path d="M338.30,295.58L340.50,297.78L338.30,299.98L336.10,297.78Z" fill="#5a1a6e"/>
<path d="M338.30,309.88L340.50,312.08L338.30,314.28L336.10,312.08Z" fill="#c8102e"/>
<path d="M338.30,349.20L340.50,351.40L338.30,353.60L336.10,351.40Z" fill="#5a9e3a"/>
<path d="M338.30,356.35L340.50,358.55L338.30,360.75L336.10,358.55Z" fill="#d8a0a0"/>
<path d="M338.30,359.93L340.50,362.12L338.30,364.32L336.10,362.12Z" fill="#f89860"/>
<path d="M338.30,367.08L340.50,369.28L338.30,371.48L336.10,369.28Z" fill="#ff8c00"/>
<path d="M338.30,370.65L340.50,372.85L338.30,375.05L336.10,372.85Z" fill="#e2c070"/>
<path d="M338.30,406.40L340.50,408.60L338.30,410.80L336.10,408.60Z" fill="#e2c070"/>
<path d="M361.10,276.33L367.90,276.33M362.10,273.92L366.90,278.73M364.50,272.93L364.50,279.73M366.90,273.92L362.10,278.73" stroke="#5a8ab8" stroke-width="0.6" fill="none"/>
<rect x="363.60" y="275.43" width="1.80" height="1.80" fill="#1f4f88" />
<path d="M361.10,344.25L367.90,344.25M362.10,341.85L366.90,346.65M364.50,340.85L364.50,347.65M366.90,341.85L362.10,346.65" stroke="#a9c6de" stroke-width="0.6" fill="none"/>
<rect x="363.70" y="343.45" width="1.60" height="1.60" fill="#c4d8ea" />
<path d="M361.10,369.28L367.90,369.28M362.10,366.87L366.90,371.68M364.50,365.88L364.50,372.68M366.90,366.87L362.10,371.68" stroke="#5a8ab8" stroke-width="0.6" fill="none"/>
<rect x="363.60" y="368.38" width="1.80" height="1.80" fill="#1f4f88" />
<path d="M364.50,209.78L366.70,211.98L364.50,214.18L362.30,211.98Z" fill="#ff8c00"/>
<path d="M364.50,213.35L366.70,215.55L364.50,217.75L362.30,215.55Z" fill="#8a80c8"/>
<path d="M364.50,266.98L366.70,269.18L364.50,271.38L362.30,269.18Z" fill="#5a1a6e"/>
<path d="M364.50,288.43L366.70,290.62L364.50,292.82L362.30,290.62Z" fill="#f89860"/>
<path d="M364.50,302.73L366.70,304.93L364.50,307.12L362.30,304.93Z" fill="#d8a0a0"/>
<path d="M364.50,313.45L366.70,315.65L364.50,317.85L362.30,315.65Z" fill="#c8102e"/>
<path d="M364.50,317.03L366.70,319.23L364.50,321.43L362.30,319.23Z" fill="#5a9e3a"/>
<path d="M364.50,320.60L366.70,322.80L364.50,325.00L362.30,322.80Z" fill="#3cb44b"/>
<path d="M364.50,334.90L366.70,337.10L364.50,339.30L362.30,337.10Z" fill="#e2c070"/>
<path d="M364.50,381.38L366.70,383.58L364.50,385.78L362.30,383.58Z" fill="#c8102e"/>
<path d="M364.50,402.83L366.70,405.03L364.50,407.23L362.30,405.03Z" fill="#e2c070"/>
<path d="M378.40,222.70L385.20,222.70M379.40,220.30L384.20,225.10M381.80,219.30L381.80,226.10M384.20,220.30L379.40,225.10" stroke="#5a8ab8" stroke-width="0.6" fill="none"/>
<rect x="380.90" y="221.80" width="1.80" height="1.80" fill="#1f4f88" />
<path d="M378.40,326.38L385.20,326.38M379.40,323.97L384.20,328.78M381.80,322.98L381.80,329.77M384.20,323.97L379.40,328.78" stroke="#a9c6de" stroke-width="0.6" fill="none"/>
<rect x="381.00" y="325.57" width="1.60" height="1.60" fill="#c4d8ea" />
<path d="M378.40,376.43L385.20,376.43M379.40,374.02L384.20,378.83M381.80,373.03L381.80,379.82M384.20,374.02L379.40,378.83" stroke="#5a8ab8" stroke-width="0.6" fill="none"/>
<rect x="380.90" y="375.53" width="1.80" height="1.80" fill="#1f4f88" />
<path d="M381.80,199.05L384.00,201.25L381.80,203.45L379.60,201.25Z" fill="#ff8c00"/>
<path d="M381.80,213.35L384.00,215.55L381.80,217.75L379.60,215.55Z" fill="#5a9e3a"/>
<path d="M381.80,241.95L384.00,244.15L381.80,246.35L379.60,244.15Z" fill="#5a9e3a"/>
<path d="M381.80,338.48L384.00,340.68L381.80,342.88L379.60,340.68Z" fill="#5a1a6e"/>
<path d="M381.80,356.35L384.00,358.55L381.80,360.75L379.60,358.55Z" fill="#c8102e"/>
<path d="M381.80,359.93L384.00,362.12L381.80,364.32L379.60,362.12Z" fill="#e2c070"/>
<path d="M381.80,363.50L384.00,365.70L381.80,367.90L379.60,365.70Z" fill="#d8a0a0"/>
<path d="M381.80,370.65L384.00,372.85L381.80,375.05L379.60,372.85Z" fill="#8a80c8"/>
<path d="M381.80,372.44L384.00,374.64L381.80,376.84L379.60,374.64Z" fill="#8a80c8"/>
<path d="M381.80,388.53L384.00,390.73L381.80,392.93L379.60,390.73Z" fill="#c8102e"/>
<path d="M381.80,399.25L384.00,401.45L381.80,403.65L379.60,401.45Z" fill="#c9dbbd"/>
<text x="302.20" y="422.05" font-size="7.4" text-anchor="middle" fill="#222" stroke="#222" stroke-width="0.15" >1</text>
<text x="314.70" y="422.05" font-size="7.4" text-anchor="middle" fill="#222" stroke="#222" stroke-width="0.15" >2</text>
<text x="326.40" y="422.05" font-size="7.4" text-anchor="middle" fill="#222" stroke="#222" stroke-width="0.15" >3</text>
<text x="338.30" y="422.05" font-size="7.4" text-anchor="middle" fill="#222" stroke="#222" stroke-width="0.15" >4</text>
<text x="299.50" y="431.95" font-size="7.4" textLength="41.20" lengthAdjust="spacingAndGlyphs" fill="#222" stroke="#222" stroke-width="0.15" >CLL vs MBL</text>
<text x="320.20" y="441.45" font-size="7.4" text-anchor="middle" textLength="21.00" lengthAdjust="spacingAndGlyphs" fill="#222" stroke="#222" stroke-width="0.15" >within</text>
<text x="303.70" y="451.45" font-size="7.4" textLength="32.40" lengthAdjust="spacingAndGlyphs" fill="#222" stroke="#222" stroke-width="0.15" >MBL-CLL</text>
<text x="305.90" y="460.55" font-size="7.4" textLength="28.50" lengthAdjust="spacingAndGlyphs" fill="#222" stroke="#222" stroke-width="0.15" >patients</text>
<text x="356.60" y="422.05" font-size="7.4" textLength="15.90" lengthAdjust="spacingAndGlyphs" fill="#222" stroke="#222" stroke-width="0.15" >MBL</text>
<text x="364.50" y="430.95" font-size="7.4" text-anchor="middle" fill="#222" stroke="#222" stroke-width="0.15" >vs.</text>
<text x="364.50" y="439.75" font-size="7.4" text-anchor="middle" fill="#222" stroke="#222" stroke-width="0.15" >HD</text>
<text x="374.60" y="422.05" font-size="7.4" textLength="13.10" lengthAdjust="spacingAndGlyphs" fill="#222" stroke="#222" stroke-width="0.15" >CLL</text>
<text x="381.50" y="430.95" font-size="7.4" text-anchor="middle" fill="#222" stroke="#222" stroke-width="0.15" >vs.</text>
<text x="381.50" y="439.75" font-size="7.4" text-anchor="middle" fill="#222" stroke="#222" stroke-width="0.15" >HD</text>
<text x="392.90" y="173.00" font-size="10" font-weight="bold" fill="#000" stroke="#000" stroke-width="0.15" >E</text>
<line x1="407.20" y1="172.80" x2="407.20" y2="409.00" stroke="#222" stroke-width="1.4" />
<line x1="420.50" y1="172.80" x2="420.50" y2="408.40" stroke="#333" stroke-width="0.9" />
<line x1="433.60" y1="172.80" x2="433.60" y2="408.40" stroke="#333" stroke-width="0.9" />
<line x1="406.60" y1="408.40" x2="448.70" y2="408.40" stroke="#222" stroke-width="1.2" />
<line x1="404.00" y1="408.40" x2="407.20" y2="408.40" stroke="#222" stroke-width="0.9" />
<text x="401.40" y="411.05" font-size="7.4" text-anchor="end" fill="#222" stroke="#222" stroke-width="0.15" >0</text>
<line x1="404.00" y1="372.80" x2="407.20" y2="372.80" stroke="#222" stroke-width="0.9" />
<text x="401.40" y="375.45" font-size="7.4" text-anchor="end" fill="#222" stroke="#222" stroke-width="0.15" >10</text>
<line x1="404.00" y1="337.20" x2="407.20" y2="337.20" stroke="#222" stroke-width="0.9" />
<text x="401.40" y="339.85" font-size="7.4" text-anchor="end" fill="#222" stroke="#222" stroke-width="0.15" >20</text>
<line x1="404.00" y1="301.60" x2="407.20" y2="301.60" stroke="#222" stroke-width="0.9" />
<text x="401.40" y="304.25" font-size="7.4" text-anchor="end" fill="#222" stroke="#222" stroke-width="0.15" >30</text>
<line x1="404.00" y1="266.00" x2="407.20" y2="266.00" stroke="#222" stroke-width="0.9" />
<text x="401.40" y="268.65" font-size="7.4" text-anchor="end" fill="#222" stroke="#222" stroke-width="0.15" >40</text>
<line x1="404.00" y1="230.40" x2="407.20" y2="230.40" stroke="#222" stroke-width="0.9" />
<text x="401.40" y="233.05" font-size="7.4" text-anchor="end" fill="#222" stroke="#222" stroke-width="0.15" >50</text>
<line x1="404.00" y1="194.80" x2="407.20" y2="194.80" stroke="#222" stroke-width="0.9" />
<text x="401.40" y="197.45" font-size="7.4" text-anchor="end" fill="#222" stroke="#222" stroke-width="0.15" >60</text>
<path d="M410.80,408.40L417.60,408.40M411.80,406.00L416.60,410.80M414.20,405.00L414.20,411.80M416.60,406.00L411.80,410.80" stroke="#a9c6de" stroke-width="0.6" fill="none"/>
<rect x="413.40" y="407.60" width="1.60" height="1.60" fill="#c4d8ea" />
<path d="M414.20,403.00L416.40,405.20L414.20,407.40L412.00,405.20Z" fill="#e2c070"/>
<path d="M423.60,330.08L430.40,330.08M424.60,327.68L429.40,332.48M427.00,326.68L427.00,333.48M429.40,327.68L424.60,332.48" stroke="#a9c6de" stroke-width="0.6" fill="none"/>
<rect x="426.20" y="329.28" width="1.60" height="1.60" fill="#c4d8ea" />
<path d="M423.60,355.00L430.40,355.00M424.60,352.60L429.40,357.40M427.00,351.60L427.00,358.40M429.40,352.60L424.60,357.40" stroke="#5a8ab8" stroke-width="0.6" fill="none"/>
<rect x="426.10" y="354.10" width="1.80" height="1.80" fill="#1f4f88" />
<path d="M423.60,369.24L430.40,369.24M424.60,366.84L429.40,371.64M427.00,365.84L427.00,372.64M429.40,366.84L424.60,371.64" stroke="#5a8ab8" stroke-width="0.6" fill="none"/>
<rect x="426.10" y="368.34" width="1.80" height="1.80" fill="#1f4f88" />
<path d="M427.00,381.28L429.20,383.48L427.00,385.68L424.80,383.48Z" fill="#c8102e"/>
<path d="M427.00,384.84L429.20,387.04L427.00,389.24L424.80,387.04Z" fill="#5a1a6e"/>
<path d="M427.00,388.40L429.20,390.60L427.00,392.80L424.80,390.60Z" fill="#e0604f"/>
<path d="M427.00,391.96L429.20,394.16L427.00,396.36L424.80,394.16Z" fill="#8a80c8"/>
<path d="M427.00,399.08L429.20,401.28L427.00,403.48L424.80,401.28Z" fill="#c9dbbd"/>
<path d="M427.00,402.64L429.20,404.84L427.00,407.04L424.80,404.84Z" fill="#e2c070"/>
<path d="M427.00,406.20L429.20,408.40L427.00,410.60L424.80,408.40Z" fill="#ff8c00"/>
<path d="M438.10,312.28L444.90,312.28M439.10,309.88L443.90,314.68M441.50,308.88L441.50,315.68M443.90,309.88L439.10,314.68" stroke="#a9c6de" stroke-width="0.6" fill="none"/>
<rect x="440.70" y="311.48" width="1.60" height="1.60" fill="#c4d8ea" />
<path d="M438.10,330.08L444.90,330.08M439.10,327.68L443.90,332.48M441.50,326.68L441.50,333.48M443.90,327.68L439.10,332.48" stroke="#5a8ab8" stroke-width="0.6" fill="none"/>
<rect x="440.60" y="329.18" width="1.80" height="1.80" fill="#1f4f88" />
<path d="M438.10,383.48L444.90,383.48M439.10,381.08L443.90,385.88M441.50,380.08L441.50,386.88M443.90,381.08L439.10,385.88" stroke="#a9c6de" stroke-width="0.6" fill="none"/>
<rect x="440.70" y="382.68" width="1.60" height="1.60" fill="#c4d8ea" />
<path d="M441.50,377.72L443.70,379.92L441.50,382.12L439.30,379.92Z" fill="#f89860"/>
<path d="M441.50,379.50L443.70,381.70L441.50,383.90L439.30,381.70Z" fill="#e2c070"/>
<path d="M441.50,388.40L443.70,390.60L441.50,392.80L439.30,390.60Z" fill="#c8102e"/>
<path d="M441.50,391.96L443.70,394.16L441.50,396.36L439.30,394.16Z" fill="#8a80c8"/>
<path d="M441.50,399.08L443.70,401.28L441.50,403.48L439.30,401.28Z" fill="#5a1a6e"/>
<path d="M441.50,402.64L443.70,404.84L441.50,407.04L439.30,404.84Z" fill="#c9dbbd"/>
<line x1="414.20" y1="408.40" x2="414.20" y2="411.00" stroke="#222" stroke-width="0.8" />
<line x1="427.00" y1="408.40" x2="427.00" y2="411.00" stroke="#222" stroke-width="0.8" />
<line x1="441.50" y1="408.40" x2="441.50" y2="411.00" stroke="#222" stroke-width="0.8" />
<text x="405.60" y="421.55" font-size="7.4" textLength="14.80" lengthAdjust="spacingAndGlyphs" fill="#222" stroke="#222" stroke-width="0.15" >MBL</text>
<text x="421.80" y="421.55" font-size="7.4" textLength="14.00" lengthAdjust="spacingAndGlyphs" fill="#222" stroke="#222" stroke-width="0.15" >CLL</text>
<path d="M407.5,422.8 L407.5,424.6 L436.5,424.6 L436.5,422.8" fill="none" stroke="#222" stroke-width="0.7" />
<line x1="421.80" y1="424.60" x2="421.80" y2="426.00" stroke="#222" stroke-width="0.7" />
<text x="404.80" y="433.95" font-size="7.4" textLength="30.50" lengthAdjust="spacingAndGlyphs" fill="#222" stroke="#222" stroke-width="0.15" >T2 vs. T1</text>
<line x1="441.60" y1="410.50" x2="444.00" y2="414.00" stroke="#222" stroke-width="0.7" />
<text x="443.30" y="421.85" font-size="7.4" textLength="26.50" lengthAdjust="spacingAndGlyphs" fill="#222" stroke="#222" stroke-width="0.15" >CLL(T2)</text>
<text x="456.60" y="430.45" font-size="7.4" text-anchor="middle" fill="#222" stroke="#222" stroke-width="0.15" >vs.</text>
<text x="442.00" y="439.85" font-size="7.4" textLength="29.10" lengthAdjust="spacingAndGlyphs" fill="#222" stroke="#222" stroke-width="0.15" >MBL(T1)</text>
<path d="M440.80,177.50L442.70,179.40L440.80,181.30L438.90,179.40Z" fill="#c9dbbd"/>
<text x="450.00" y="182.28" font-size="7.2" textLength="29.70" lengthAdjust="spacingAndGlyphs" fill="#222" stroke="#222" stroke-width="0.15" >Cell type</text>
<circle cx="454.10" cy="189.60" r="1.80" fill="#3cb44b" />
<text x="460.00" y="192.18" font-size="7.2" textLength="53.40" lengthAdjust="spacingAndGlyphs" fill="#222" stroke="#222" stroke-width="0.15" >NK_CD56bright</text>
<circle cx="454.10" cy="197.94" r="1.80" fill="#5a9e3a" />
<text x="460.00" y="200.52" font-size="7.2" textLength="45.30" lengthAdjust="spacingAndGlyphs" fill="#222" stroke="#222" stroke-width="0.15" >NK_CD56dim</text>
<circle cx="454.10" cy="206.28" r="1.80" fill="#e0604f" />
<text x="460.00" y="208.86" font-size="7.2" textLength="11.60" lengthAdjust="spacingAndGlyphs" fill="#222" stroke="#222" stroke-width="0.15" >gdT</text>
<circle cx="454.10" cy="214.62" r="1.80" fill="#c8102e" />
<text x="460.00" y="217.20" font-size="7.2" textLength="17.80" lengthAdjust="spacingAndGlyphs" fill="#222" stroke="#222" stroke-width="0.15" >MAIT</text>
<circle cx="454.10" cy="222.96" r="1.80" fill="#f89860" />
<text x="460.00" y="225.54" font-size="7.2" textLength="34.60" lengthAdjust="spacingAndGlyphs" fill="#222" stroke="#222" stroke-width="0.15" >CD8 naive</text>
<circle cx="454.10" cy="231.30" r="1.80" fill="#ff8c00" />
<text x="460.00" y="233.88" font-size="7.2" textLength="31.90" lengthAdjust="spacingAndGlyphs" fill="#222" stroke="#222" stroke-width="0.15" >CD8 TEM</text>
<circle cx="454.10" cy="239.64" r="1.80" fill="#d8a0a0" />
<text x="460.00" y="242.22" font-size="7.2" textLength="34.60" lengthAdjust="spacingAndGlyphs" fill="#222" stroke="#222" stroke-width="0.15" >CD4 naive</text>
<circle cx="454.10" cy="247.98" r="1.80" fill="#8a80c8" />
<text x="460.00" y="250.56" font-size="7.2" textLength="32.70" lengthAdjust="spacingAndGlyphs" fill="#222" stroke="#222" stroke-width="0.15" >CD4 TCM</text>
<circle cx="454.10" cy="256.32" r="1.80" fill="#5a1a6e" />
<text x="460.00" y="258.90" font-size="7.2" textLength="31.90" lengthAdjust="spacingAndGlyphs" fill="#222" stroke="#222" stroke-width="0.15" >CD4 TEM</text>
<circle cx="454.10" cy="264.66" r="1.80" fill="#c9dbbd" />
<text x="460.00" y="267.24" font-size="7.2" textLength="30.00" lengthAdjust="spacingAndGlyphs" fill="#222" stroke="#222" stroke-width="0.15" >CD4 CTL</text>
<circle cx="454.10" cy="273.00" r="1.80" fill="#e2c070" />
<text x="460.00" y="275.58" font-size="7.2" textLength="13.00" lengthAdjust="spacingAndGlyphs" fill="#222" stroke="#222" stroke-width="0.15" >Treg</text>
<circle cx="454.10" cy="281.34" r="1.80" fill="#bcdcf0" />
<text x="460.00" y="283.92" font-size="7.2" textLength="40.00" lengthAdjust="spacingAndGlyphs" fill="#222" stroke="#222" stroke-width="0.15" >CD14 mono</text>
<circle cx="454.10" cy="289.68" r="1.80" fill="#7ec0e8" />
<text x="460.00" y="292.26" font-size="7.2" textLength="40.00" lengthAdjust="spacingAndGlyphs" fill="#222" stroke="#222" stroke-width="0.15" >CD16 mono</text>
<circle cx="454.10" cy="298.02" r="1.80" fill="#2a9ad8" />
<text x="460.00" y="300.60" font-size="7.2" textLength="18.40" lengthAdjust="spacingAndGlyphs" fill="#222" stroke="#222" stroke-width="0.15" >cDC2</text>
<text x="450.00" y="312.68" font-size="7.2" textLength="35.10" lengthAdjust="spacingAndGlyphs" fill="#222" stroke="#222" stroke-width="0.15" >Cell group</text>
<path d="M454.90,317.90L457.40,320.40L454.90,322.90L452.40,320.40Z" fill="#000"/>
<text x="463.00" y="322.98" font-size="7.2" textLength="49.60" lengthAdjust="spacingAndGlyphs" fill="#222" stroke="#222" stroke-width="0.15" >Lymphoid cells</text>
<path d="M451.50,331.20L458.30,331.20M452.50,328.80L457.30,333.60M454.90,327.80L454.90,334.60M457.30,328.80L452.50,333.60" stroke="#000" stroke-width="0.9" fill="none"/>
<text x="463.00" y="333.78" font-size="7.2" textLength="43.70" lengthAdjust="spacingAndGlyphs" fill="#222" stroke="#222" stroke-width="0.15" >Myeloid cells</text>
<text x="326.70" y="473.20" font-size="9.3" textLength="87.50" lengthAdjust="spacingAndGlyphs" fill="#222" stroke="#222" stroke-width="0.15" >Post vs. Pre ibrutinib</text>
<text x="7.40" y="335.10" font-size="10" font-weight="bold" fill="#000" stroke="#000" stroke-width="0.15" >F</text>
<text x="64.80" y="332.45" font-size="7.4" textLength="15.00" lengthAdjust="spacingAndGlyphs" fill="#222" stroke="#222" stroke-width="0.15" >HDs</text>
<path d="M60.80,336.00 Q60.80,334.40 62.30,334.40 L80.20,334.40 Q81.70,334.40 81.70,336.00" fill="none" stroke="#222" stroke-width="0.7" />
<text x="61.00" y="343.55" font-size="7.4" textLength="21.40" lengthAdjust="spacingAndGlyphs" fill="#222" stroke="#222" stroke-width="0.15" >Norm.</text>
<text x="72.00" y="352.65" font-size="7.4" text-anchor="middle" fill="#222" stroke="#222" stroke-width="0.15" >B</text>
<text x="90.80" y="332.75" font-size="7.4" textLength="25.10" lengthAdjust="spacingAndGlyphs" fill="#222" stroke="#222" stroke-width="0.15" >Patient</text>
<text x="95.80" y="342.15" font-size="7.4" textLength="15.00" lengthAdjust="spacingAndGlyphs" fill="#222" stroke="#222" stroke-width="0.15" >cells</text>
<path d="M84.60,346.40 Q84.60,344.80 86.10,344.80 L120.20,344.80 Q121.70,344.80 121.70,346.40" fill="none" stroke="#222" stroke-width="0.7" />
<text x="85.60" y="352.55" font-size="7.4" textLength="16.30" lengthAdjust="spacingAndGlyphs" fill="#222" stroke="#222" stroke-width="0.15" >MBL</text>
<text x="106.20" y="352.55" font-size="7.4" textLength="13.00" lengthAdjust="spacingAndGlyphs" fill="#222" stroke="#222" stroke-width="0.15" >CLL</text>
<rect x="61.50" y="354.60" width="21.20" height="7.17" fill="#fde8e8" />
<rect x="82.10" y="354.60" width="20.40" height="7.17" fill="#f7999c" />
<rect x="101.90" y="354.60" width="20.10" height="7.17" fill="#f7999c" />
<rect x="61.50" y="361.17" width="21.20" height="7.17" fill="#f8c4c8" />
<rect x="82.10" y="361.17" width="20.40" height="7.17" fill="#f06068" />
<rect x="101.90" y="361.17" width="20.10" height="7.17" fill="#ee5a62" />
<rect x="61.50" y="367.74" width="21.20" height="7.17" fill="#eaeef8" />
<rect x="82.10" y="367.74" width="20.40" height="7.17" fill="#fde2e2" />
<rect x="101.90" y="367.74" width="20.10" height="7.17" fill="#fad4d6" />
<rect x="61.50" y="374.31" width="21.20" height="7.17" fill="#b8cce6" />
<rect x="82.10" y="374.31" width="20.40" height="7.17" fill="#e0e8f4" />
<rect x="101.90" y="374.31" width="20.10" height="7.17" fill="#b4c8e4" />
<rect x="61.50" y="380.88" width="21.20" height="7.17" fill="#dfe5f2" />
<rect x="82.10" y="380.88" width="20.40" height="7.17" fill="#fde2e4" />
<rect x="101.90" y="380.88" width="20.10" height="7.17" fill="#fbdcde" />
<rect x="61.50" y="387.45" width="21.20" height="7.17" fill="#a4bce0" />
<rect x="82.10" y="387.45" width="20.40" height="7.17" fill="#f4f6fb" />
<rect x="101.90" y="387.45" width="20.10" height="7.17" fill="#ffffff" />
<rect x="61.50" y="394.02" width="21.20" height="7.17" fill="#6f96d0" />
<rect x="82.10" y="394.02" width="20.40" height="7.17" fill="#fdf4f4" />
<rect x="101.90" y="394.02" width="20.10" height="7.17" fill="#fdeeee" />
<rect x="61.50" y="400.59" width="21.20" height="7.17" fill="#96b0dc" />
<rect x="82.10" y="400.59" width="20.40" height="7.17" fill="#fdf6f6" />
<rect x="101.90" y="400.59" width="20.10" height="7.17" fill="#f6f6fa" />
<rect x="61.50" y="407.16" width="21.20" height="7.17" fill="#9ab2dc" />
<rect x="82.10" y="407.16" width="20.40" height="7.17" fill="#fde4e4" />
<rect x="101.90" y="407.16" width="20.10" height="7.17" fill="#fdf0f0" />
<rect x="61.50" y="413.74" width="21.20" height="7.17" fill="#84a4d6" />
<rect x="82.10" y="413.74" width="20.40" height="7.17" fill="#eef2f9" />
<rect x="101.90" y="413.74" width="20.10" height="7.17" fill="#eef2f9" />
<rect x="61.50" y="420.31" width="21.20" height="7.17" fill="#84a4d6" />
<rect x="82.10" y="420.31" width="20.40" height="7.17" fill="#eef2f9" />
<rect x="101.90" y="420.31" width="20.10" height="7.17" fill="#fdeeee" />
<rect x="61.50" y="426.88" width="21.20" height="7.17" fill="#5a88cc" />
<rect x="82.10" y="426.88" width="20.40" height="7.17" fill="#a8bee2" />
<rect x="101.90" y="426.88" width="20.10" height="7.17" fill="#c8d6ec" />
<rect x="61.50" y="433.45" width="21.20" height="7.17" fill="#7a9cd4" />
<rect x="82.10" y="433.45" width="20.40" height="7.17" fill="#eef2f9" />
<rect x="101.90" y="433.45" width="20.10" height="7.17" fill="#d4deef" />
<rect x="61.50" y="440.02" width="21.20" height="7.17" fill="#5a88cc" />
<rect x="82.10" y="440.02" width="20.40" height="7.17" fill="#9ab2dc" />
<rect x="101.90" y="440.02" width="20.10" height="7.17" fill="#98b0dc" />
<rect x="61.50" y="446.59" width="21.20" height="7.17" fill="#7096d0" />
<rect x="82.10" y="446.59" width="20.40" height="7.17" fill="#9ab2dc" />
<rect x="101.90" y="446.59" width="20.10" height="7.17" fill="#a8bee2" />
<rect x="61.50" y="453.16" width="21.20" height="7.17" fill="#5e8acd" />
<rect x="82.10" y="453.16" width="20.40" height="7.17" fill="#b0c4e4" />
<rect x="101.90" y="453.16" width="20.10" height="7.17" fill="#c8d6ec" />
<rect x="61.50" y="459.73" width="21.20" height="6.57" fill="#5e8acd" />
<rect x="82.10" y="459.73" width="20.40" height="6.57" fill="#b0c4e4" />
<rect x="101.90" y="459.73" width="20.10" height="6.57" fill="#4a7cc8" />
<rect x="61.50" y="354.60" width="60.50" height="111.70" fill="none" stroke="#3c3c3c" stroke-width="0.9"/>
<text x="23.70" y="360.25" font-size="6.6" textLength="34.40" lengthAdjust="spacingAndGlyphs" fill="#222" stroke="#222" stroke-width="0.15" >CD14 mono</text>
<text x="23.70" y="366.82" font-size="6.6" textLength="34.40" lengthAdjust="spacingAndGlyphs" fill="#222" stroke="#222" stroke-width="0.15" >CD16 mono</text>
<text x="41.20" y="373.39" font-size="6.6" textLength="16.90" lengthAdjust="spacingAndGlyphs" fill="#222" stroke="#222" stroke-width="0.15" >cDC2</text>
<text x="45.00" y="379.96" font-size="6.6" textLength="13.10" lengthAdjust="spacingAndGlyphs" fill="#222" stroke="#222" stroke-width="0.15" >pDC</text>
<text x="58.10" y="386.53" font-size="6.6" text-anchor="end" fill="#222" stroke="#222" stroke-width="0.15" >)</text>
<text x="55.90" y="386.90" font-size="4.0" text-anchor="end" textLength="6.00" lengthAdjust="spacingAndGlyphs" fill="#222" stroke="#222" stroke-width="0.15" >dim</text>
<text x="18.00" y="386.53" font-size="6.6" textLength="31.70" lengthAdjust="spacingAndGlyphs" fill="#222" stroke="#222" stroke-width="0.15" >NK (CD56</text>
<text x="58.10" y="393.10" font-size="6.6" text-anchor="end" fill="#222" stroke="#222" stroke-width="0.15" >)</text>
<text x="55.90" y="393.47" font-size="4.0" text-anchor="end" textLength="8.50" lengthAdjust="spacingAndGlyphs" fill="#222" stroke="#222" stroke-width="0.15" >bright</text>
<text x="15.50" y="393.10" font-size="6.6" textLength="31.70" lengthAdjust="spacingAndGlyphs" fill="#222" stroke="#222" stroke-width="0.15" >NK (CD56</text>
<text x="42.50" y="399.67" font-size="6.6" textLength="15.60" lengthAdjust="spacingAndGlyphs" fill="#222" stroke="#222" stroke-width="0.15" >MAIT</text>
<text x="45.50" y="406.24" font-size="6.6" textLength="12.60" lengthAdjust="spacingAndGlyphs" fill="#222" stroke="#222" stroke-width="0.15" >gdT</text>
<text x="29.50" y="412.81" font-size="6.6" textLength="28.60" lengthAdjust="spacingAndGlyphs" fill="#222" stroke="#222" stroke-width="0.15" >CD8 TEM</text>
<text x="29.50" y="419.38" font-size="6.6" textLength="28.60" lengthAdjust="spacingAndGlyphs" fill="#222" stroke="#222" stroke-width="0.15" >CD4 TEM</text>
<text x="31.70" y="425.95" font-size="6.6" textLength="26.40" lengthAdjust="spacingAndGlyphs" fill="#222" stroke="#222" stroke-width="0.15" >CD4 CTL</text>
<text x="29.50" y="432.52" font-size="6.6" textLength="28.60" lengthAdjust="spacingAndGlyphs" fill="#222" stroke="#222" stroke-width="0.15" >CD8 TCM</text>
<text x="29.50" y="439.10" font-size="6.6" textLength="28.60" lengthAdjust="spacingAndGlyphs" fill="#222" stroke="#222" stroke-width="0.15" >CD4 TCM</text>
<text x="28.70" y="445.67" font-size="6.6" textLength="29.40" lengthAdjust="spacingAndGlyphs" fill="#222" stroke="#222" stroke-width="0.15" >CD8 naive</text>
<text x="28.70" y="452.24" font-size="6.6" textLength="29.40" lengthAdjust="spacingAndGlyphs" fill="#222" stroke="#222" stroke-width="0.15" >CD4 naive</text>
<text x="45.50" y="458.81" font-size="6.6" textLength="12.60" lengthAdjust="spacingAndGlyphs" fill="#222" stroke="#222" stroke-width="0.15" >Treg</text>
<text x="48.00" y="465.38" font-size="6.6" textLength="10.10" lengthAdjust="spacingAndGlyphs" fill="#222" stroke="#222" stroke-width="0.15" >ILC</text>
<text x="151.30" y="329.95" font-size="7.4" textLength="66.40" lengthAdjust="spacingAndGlyphs" fill="#222" stroke="#222" stroke-width="0.15" >Ibrutinib treatment</text>
<text x="152.70" y="338.05" font-size="7.4" textLength="10.80" lengthAdjust="spacingAndGlyphs" fill="#222" stroke="#222" stroke-width="0.15" >IB1</text>
<text x="196.20" y="338.05" font-size="7.4" textLength="17.60" lengthAdjust="spacingAndGlyphs" fill="#222" stroke="#222" stroke-width="0.15" >CLL6</text>
<text x="137.90" y="345.39" font-size="6.4" textLength="40.40" lengthAdjust="spacingAndGlyphs" fill="#222" stroke="#222" stroke-width="0.15" >(Gutierrez, 2021)</text>
<text x="184.00" y="345.39" font-size="6.4" textLength="47.20" lengthAdjust="spacingAndGlyphs" fill="#222" stroke="#222" stroke-width="0.15" >(Rendeiro, 2020)</text>
<text x="143.70" y="352.56" font-size="6.6" textLength="9.00" lengthAdjust="spacingAndGlyphs" fill="#222" stroke="#222" stroke-width="0.15" >Pre</text>
<text x="161.00" y="352.56" font-size="6.6" textLength="13.40" lengthAdjust="spacingAndGlyphs" fill="#222" stroke="#222" stroke-width="0.15" >Post</text>
<text x="189.80" y="352.56" font-size="6.6" textLength="9.60" lengthAdjust="spacingAndGlyphs" fill="#222" stroke="#222" stroke-width="0.15" >Pre</text>
<text x="207.70" y="352.56" font-size="6.6" textLength="12.90" lengthAdjust="spacingAndGlyphs" fill="#222" stroke="#222" stroke-width="0.15" >Post</text>
<rect x="138.20" y="354.60" width="20.40" height="7.17" fill="#f4666c" />
<rect x="158.00" y="354.60" width="19.60" height="7.17" fill="#eaeef8" />
<rect x="138.20" y="361.17" width="20.40" height="7.17" fill="#f4666c" />
<rect x="158.00" y="361.17" width="19.60" height="7.17" fill="#f8f8fc" />
<rect x="138.20" y="367.74" width="20.40" height="7.17" fill="#e6ecf7" />
<rect x="158.00" y="367.74" width="19.60" height="7.17" fill="#b4c6e4" />
<rect x="138.20" y="374.31" width="20.40" height="7.17" fill="#ffffff" />
<rect x="158.00" y="374.31" width="19.60" height="7.17" fill="#6e96d0" />
<rect x="138.20" y="380.88" width="20.40" height="7.17" fill="#ffffff" />
<rect x="158.00" y="380.88" width="19.60" height="7.17" fill="#c0d0e8" />
<rect x="138.20" y="387.45" width="20.40" height="7.17" fill="#b8cae6" />
<rect x="158.00" y="387.45" width="19.60" height="7.17" fill="#a0b8de" />
<rect x="138.20" y="394.02" width="20.40" height="7.17" fill="#e6ecf7" />
<rect x="158.00" y="394.02" width="19.60" height="7.17" fill="#bccce8" />
<rect x="138.20" y="400.59" width="20.40" height="7.17" fill="#6e96d0" />
<rect x="158.00" y="400.59" width="19.60" height="7.17" fill="#5a88cc" />
<rect x="138.20" y="407.16" width="20.40" height="7.17" fill="#e2e8f4" />
<rect x="158.00" y="407.16" width="19.60" height="7.17" fill="#b4c6e4" />
<rect x="138.20" y="413.74" width="20.40" height="7.17" fill="#d8e2f0" />
<rect x="158.00" y="413.74" width="19.60" height="7.17" fill="#7ea0d6" />
<rect x="138.20" y="420.31" width="20.40" height="7.17" fill="#d4d4d4" />
<rect x="158.00" y="420.31" width="19.60" height="7.17" fill="#d4d4d4" />
<rect x="138.20" y="426.88" width="20.40" height="7.17" fill="#7a9ed4" />
<rect x="158.00" y="426.88" width="19.60" height="7.17" fill="#5e8acd" />
<rect x="138.20" y="433.45" width="20.40" height="7.17" fill="#b8c9e6" />
<rect x="158.00" y="433.45" width="19.60" height="7.17" fill="#8aaad8" />
<rect x="138.20" y="440.02" width="20.40" height="7.17" fill="#8eacda" />
<rect x="158.00" y="440.02" width="19.60" height="7.17" fill="#6e96d0" />
<rect x="138.20" y="446.59" width="20.40" height="7.17" fill="#8eacda" />
<rect x="158.00" y="446.59" width="19.60" height="7.17" fill="#6e96d0" />
<rect x="138.20" y="453.16" width="20.40" height="7.17" fill="#98b2dc" />
<rect x="158.00" y="453.16" width="19.60" height="7.17" fill="#6e96d0" />
<rect x="138.20" y="459.73" width="20.40" height="6.57" fill="#6690ce" />
<rect x="158.00" y="459.73" width="19.60" height="6.57" fill="#88a8d8" />
<rect x="138.20" y="354.60" width="39.40" height="111.70" fill="none" stroke="#3c3c3c" stroke-width="0.9"/>
<rect x="184.40" y="354.60" width="20.90" height="7.17" fill="#f8b4b8" />
<rect x="204.70" y="354.60" width="20.10" height="7.17" fill="#e8ecf8" />
<rect x="184.40" y="361.17" width="20.90" height="7.17" fill="#f4666c" />
<rect x="204.70" y="361.17" width="20.10" height="7.17" fill="#a0b8de" />
<rect x="184.40" y="367.74" width="20.90" height="7.17" fill="#fbcdd0" />
<rect x="204.70" y="367.74" width="20.10" height="7.17" fill="#98b2dc" />
<rect x="184.40" y="374.31" width="20.90" height="7.17" fill="#c4c4c4" />
<rect x="204.70" y="374.31" width="20.10" height="7.17" fill="#c4c4c4" />
<rect x="184.40" y="380.88" width="20.90" height="7.17" fill="#fbc4c8" />
<rect x="204.70" y="380.88" width="20.10" height="7.17" fill="#8eacda" />
<rect x="184.40" y="387.45" width="20.90" height="7.17" fill="#eceef8" />
<rect x="204.70" y="387.45" width="20.10" height="7.17" fill="#a8bee2" />
<rect x="184.40" y="394.02" width="20.90" height="7.17" fill="#c4c4c4" />
<rect x="204.70" y="394.02" width="20.10" height="7.17" fill="#c4c4c4" />
<rect x="184.40" y="400.59" width="20.90" height="7.17" fill="#fde8ea" />
<rect x="204.70" y="400.59" width="20.10" height="7.17" fill="#8eacda" />
<rect x="184.40" y="407.16" width="20.90" height="7.17" fill="#fde0e2" />
<rect x="204.70" y="407.16" width="20.10" height="7.17" fill="#8eacda" />
<rect x="184.40" y="413.74" width="20.90" height="7.17" fill="#d4deee" />
<rect x="204.70" y="413.74" width="20.10" height="7.17" fill="#6690ce" />
<rect x="184.40" y="420.31" width="20.90" height="7.17" fill="#eef0f9" />
<rect x="204.70" y="420.31" width="20.10" height="7.17" fill="#86a6d6" />
<rect x="184.40" y="426.88" width="20.90" height="7.17" fill="#b8cae6" />
<rect x="204.70" y="426.88" width="20.10" height="7.17" fill="#7a9ed4" />
<rect x="184.40" y="433.45" width="20.90" height="7.17" fill="#e4e8f4" />
<rect x="204.70" y="433.45" width="20.10" height="7.17" fill="#7a9ed4" />
<rect x="184.40" y="440.02" width="20.90" height="7.17" fill="#c4c4c4" />
<rect x="204.70" y="440.02" width="20.10" height="7.17" fill="#c4c4c4" />
<rect x="184.40" y="446.59" width="20.90" height="7.17" fill="#c4c4c4" />
<rect x="204.70" y="446.59" width="20.10" height="7.17" fill="#c4c4c4" />
<rect x="184.40" y="453.16" width="20.90" height="7.17" fill="#bccde8" />
<rect x="204.70" y="453.16" width="20.10" height="7.17" fill="#5e8acd" />
<rect x="184.40" y="459.73" width="20.90" height="6.57" fill="#5e8acd" />
<rect x="204.70" y="459.73" width="20.10" height="6.57" fill="#5e8acd" />
<rect x="184.40" y="354.60" width="40.40" height="111.70" fill="none" stroke="#3c3c3c" stroke-width="0.9"/>
<text x="231.70" y="430.93" font-size="6.8" textLength="30.80" lengthAdjust="spacingAndGlyphs" fill="#222" stroke="#222" stroke-width="0.15" >Number of</text>
<text x="233.00" y="438.43" font-size="6.8" textLength="28.50" lengthAdjust="spacingAndGlyphs" fill="#222" stroke="#222" stroke-width="0.15" >significant</text>
<text x="230.80" y="445.73" font-size="6.8" textLength="33.00" lengthAdjust="spacingAndGlyphs" fill="#222" stroke="#222" stroke-width="0.15" >interactions</text>
<linearGradient id="gF" x1="0" x2="1" y1="0" y2="0"><stop offset="0" stop-color="#6a96d2"/><stop offset="0.45" stop-color="#ffffff"/><stop offset="1" stop-color="#f0606a"/></linearGradient>
<rect x="232.30" y="448.40" width="29.40" height="4.00" fill="url(#gF)" stroke="#888" stroke-width="0.4"/>
<line x1="238.60" y1="451.00" x2="238.60" y2="454.00" stroke="#222" stroke-width="0.7" />
<line x1="246.60" y1="451.00" x2="246.60" y2="454.00" stroke="#222" stroke-width="0.7" />
<line x1="254.60" y1="451.00" x2="254.60" y2="454.00" stroke="#222" stroke-width="0.7" />
<line x1="261.50" y1="451.00" x2="261.50" y2="454.00" stroke="#222" stroke-width="0.7" />
<text x="237.90" y="462.03" font-size="6.8" text-anchor="middle" textLength="6.20" lengthAdjust="spacingAndGlyphs" fill="#222" stroke="#222" stroke-width="0.15" >10</text>
<text x="246.20" y="462.03" font-size="6.8" text-anchor="middle" textLength="6.20" lengthAdjust="spacingAndGlyphs" fill="#222" stroke="#222" stroke-width="0.15" >20</text>
<text x="254.50" y="462.03" font-size="6.8" text-anchor="middle" textLength="6.20" lengthAdjust="spacingAndGlyphs" fill="#222" stroke="#222" stroke-width="0.15" >30</text>
<text x="262.70" y="462.03" font-size="6.8" text-anchor="middle" textLength="6.20" lengthAdjust="spacingAndGlyphs" fill="#222" stroke="#222" stroke-width="0.15" >40</text>
<text x="6.90" y="488.70" font-size="10" font-weight="bold" fill="#000" stroke="#000" stroke-width="0.15" >G</text>
<text x="95.80" y="486.40" font-size="8.1" textLength="87.10" lengthAdjust="spacingAndGlyphs" fill="#222" stroke="#222" stroke-width="0.15" >MBL-CLL Pts (1–4) vs HD</text>
<rect x="70.70" y="489.70" width="68.90" height="7.20" fill="#d2d2d2" />
<text x="81.60" y="495.89" font-size="6.4" textLength="47.20" lengthAdjust="spacingAndGlyphs" fill="#222" stroke="#222" stroke-width="0.15" >From CLL-B cells</text>
<text x="154.00" y="495.89" font-size="6.4" textLength="39.80" lengthAdjust="spacingAndGlyphs" fill="#222" stroke="#222" stroke-width="0.15" >To CLL-B cells</text>
<rect x="70.70" y="520.40" width="4.99" height="4.60" fill="#a6d4f0" />
<rect x="75.29" y="520.40" width="4.99" height="4.60" fill="#3189c9" />
<rect x="79.89" y="520.40" width="4.59" height="4.60" fill="#2a8c9c" />
<text transform="translate(79.81,519.60) rotate(-90)" x="0" y="0" font-size="6.2" textLength="20.20" lengthAdjust="spacingAndGlyphs" fill="#222" stroke="#222" stroke-width="0.15">Myeloid</text>
<line x1="84.48" y1="496.90" x2="84.48" y2="525.00" stroke="#5a5a5a" stroke-width="0.8" />
<rect x="84.48" y="520.40" width="4.99" height="4.60" fill="#d8c890" />
<rect x="89.07" y="520.40" width="4.99" height="4.60" fill="#e3a3a0" />
<rect x="93.67" y="520.40" width="4.99" height="4.60" fill="#a283d2" />
<rect x="98.26" y="520.40" width="4.99" height="4.60" fill="#6432a2" />
<rect x="102.85" y="520.40" width="4.59" height="4.60" fill="#f0c84a" />
<text transform="translate(98.18,519.60) rotate(-90)" x="0" y="0" font-size="6.2" textLength="10.90" lengthAdjust="spacingAndGlyphs" fill="#222" stroke="#222" stroke-width="0.15">CD4</text>
<line x1="107.45" y1="496.90" x2="107.45" y2="525.00" stroke="#5a5a5a" stroke-width="0.8" />
<rect x="107.45" y="520.40" width="4.99" height="4.60" fill="#f9a04f" />
<rect x="112.04" y="520.40" width="4.99" height="4.60" fill="#f49540" />
<rect x="116.63" y="520.40" width="4.59" height="4.60" fill="#fd8c08" />
<text transform="translate(116.56,519.60) rotate(-90)" x="0" y="0" font-size="6.2" textLength="10.90" lengthAdjust="spacingAndGlyphs" fill="#222" stroke="#222" stroke-width="0.15">CD8</text>
<line x1="121.23" y1="496.90" x2="121.23" y2="525.00" stroke="#5a5a5a" stroke-width="0.8" />
<rect x="121.23" y="520.40" width="4.99" height="4.60" fill="#ea5550" />
<rect x="125.82" y="520.40" width="4.59" height="4.60" fill="#d81f30" />
<text transform="translate(128.04,519.60) rotate(-90)" x="0" y="0" font-size="6.2" textLength="20.50" lengthAdjust="spacingAndGlyphs" fill="#222" stroke="#222" stroke-width="0.15">Other T</text>
<line x1="130.41" y1="496.90" x2="130.41" y2="525.00" stroke="#5a5a5a" stroke-width="0.8" />
<rect x="130.41" y="520.40" width="4.99" height="4.60" fill="#3caa48" />
<rect x="135.01" y="520.40" width="4.59" height="4.60" fill="#2f8a34" />
<text transform="translate(137.23,519.60) rotate(-90)" x="0" y="0" font-size="6.2" textLength="7.50" lengthAdjust="spacingAndGlyphs" fill="#222" stroke="#222" stroke-width="0.15">NK</text>
<rect x="139.60" y="520.40" width="5.01" height="4.60" fill="#a6d4f0" />
<rect x="144.21" y="520.40" width="5.01" height="4.60" fill="#3189c9" />
<rect x="148.83" y="520.40" width="4.61" height="4.60" fill="#2a8c9c" />
<text transform="translate(148.74,519.60) rotate(-90)" x="0" y="0" font-size="6.2" textLength="20.20" lengthAdjust="spacingAndGlyphs" fill="#222" stroke="#222" stroke-width="0.15">Myeloid</text>
<line x1="153.44" y1="496.90" x2="153.44" y2="525.00" stroke="#5a5a5a" stroke-width="0.8" />
<rect x="153.44" y="520.40" width="5.01" height="4.60" fill="#d8c890" />
<rect x="158.05" y="520.40" width="5.01" height="4.60" fill="#e3a3a0" />
<rect x="162.67" y="520.40" width="5.01" height="4.60" fill="#a283d2" />
<rect x="167.28" y="520.40" width="5.01" height="4.60" fill="#6432a2" />
<rect x="171.89" y="520.40" width="4.61" height="4.60" fill="#f0c84a" />
<text transform="translate(167.19,519.60) rotate(-90)" x="0" y="0" font-size="6.2" textLength="10.90" lengthAdjust="spacingAndGlyphs" fill="#222" stroke="#222" stroke-width="0.15">CD4</text>
<line x1="176.51" y1="496.90" x2="176.51" y2="525.00" stroke="#5a5a5a" stroke-width="0.8" />
<rect x="176.51" y="520.40" width="5.01" height="4.60" fill="#f9a04f" />
<rect x="181.12" y="520.40" width="5.01" height="4.60" fill="#f49540" />
<rect x="185.73" y="520.40" width="4.61" height="4.60" fill="#fd8c08" />
<text transform="translate(185.65,519.60) rotate(-90)" x="0" y="0" font-size="6.2" textLength="10.90" lengthAdjust="spacingAndGlyphs" fill="#222" stroke="#222" stroke-width="0.15">CD8</text>
<line x1="190.35" y1="496.90" x2="190.35" y2="525.00" stroke="#5a5a5a" stroke-width="0.8" />
<rect x="190.35" y="520.40" width="5.01" height="4.60" fill="#ea5550" />
<rect x="194.96" y="520.40" width="4.61" height="4.60" fill="#d81f30" />
<text transform="translate(197.18,519.60) rotate(-90)" x="0" y="0" font-size="6.2" textLength="20.50" lengthAdjust="spacingAndGlyphs" fill="#222" stroke="#222" stroke-width="0.15">Other T</text>
<line x1="199.57" y1="496.90" x2="199.57" y2="525.00" stroke="#5a5a5a" stroke-width="0.8" />
<rect x="199.57" y="520.40" width="5.01" height="4.60" fill="#3caa48" />
<rect x="204.19" y="520.40" width="4.61" height="4.60" fill="#2f8a34" />
<text transform="translate(206.41,519.60) rotate(-90)" x="0" y="0" font-size="6.2" textLength="7.50" lengthAdjust="spacingAndGlyphs" fill="#222" stroke="#222" stroke-width="0.15">NK</text>
<rect x="70.70" y="526.00" width="5.09" height="6.92" fill="#f4666c" />
<rect x="75.29" y="526.00" width="5.09" height="6.92" fill="#f4666c" />
<rect x="79.89" y="526.00" width="5.09" height="6.92" fill="#f4666c" />
<rect x="84.48" y="526.00" width="5.09" height="6.92" fill="#f4666c" />
<rect x="89.07" y="526.00" width="5.09" height="6.92" fill="#f8b8bc" />
<rect x="93.67" y="526.00" width="5.09" height="6.92" fill="#f4666c" />
<rect x="98.26" y="526.00" width="5.09" height="6.92" fill="#f4666c" />
<rect x="102.85" y="526.00" width="5.09" height="6.92" fill="#fbe2e4" />
<rect x="107.45" y="526.00" width="5.09" height="6.92" fill="#fbe2e4" />
<rect x="112.04" y="526.00" width="5.09" height="6.92" fill="#f4666c" />
<rect x="116.63" y="526.00" width="5.09" height="6.92" fill="#f4666c" />
<rect x="121.23" y="526.00" width="5.09" height="6.92" fill="#f4666c" />
<rect x="125.82" y="526.00" width="5.09" height="6.92" fill="#f4666c" />
<rect x="130.41" y="526.00" width="5.09" height="6.92" fill="#f4666c" />
<rect x="135.01" y="526.00" width="5.09" height="6.92" fill="#f4666c" />
<rect x="70.70" y="532.42" width="5.09" height="6.92" fill="#fbe2e4" />
<rect x="84.48" y="532.42" width="5.09" height="6.92" fill="#f4666c" />
<rect x="89.07" y="532.42" width="5.09" height="6.92" fill="#f8b8bc" />
<rect x="98.26" y="532.42" width="5.09" height="6.92" fill="#f4666c" />
<rect x="102.85" y="532.42" width="5.09" height="6.92" fill="#f4666c" />
<rect x="107.45" y="532.42" width="5.09" height="6.92" fill="#f4666c" />
<rect x="112.04" y="532.42" width="5.09" height="6.92" fill="#f4666c" />
<rect x="121.23" y="532.42" width="5.09" height="6.92" fill="#f4666c" />
<rect x="125.82" y="532.42" width="5.09" height="6.92" fill="#f8b8bc" />
<rect x="130.41" y="532.42" width="5.09" height="6.92" fill="#f8b8bc" />
<rect x="135.01" y="532.42" width="5.09" height="6.92" fill="#f8b8bc" />
<rect x="70.70" y="538.83" width="5.09" height="6.92" fill="#f4666c" />
<rect x="75.29" y="538.83" width="5.09" height="6.92" fill="#f4666c" />
<rect x="79.89" y="538.83" width="5.09" height="6.92" fill="#f4666c" />
<rect x="171.89" y="538.83" width="5.11" height="6.92" fill="#f4666c" />
<rect x="70.70" y="545.25" width="5.09" height="6.92" fill="#f4666c" />
<rect x="79.89" y="545.25" width="5.09" height="6.92" fill="#f4666c" />
<rect x="70.70" y="551.67" width="5.09" height="6.92" fill="#f4666c" />
<rect x="75.29" y="551.67" width="5.09" height="6.92" fill="#f4666c" />
<rect x="84.48" y="551.67" width="5.09" height="6.92" fill="#f4666c" />
<rect x="98.26" y="551.67" width="5.09" height="6.92" fill="#f8b8bc" />
<rect x="112.04" y="551.67" width="5.09" height="6.92" fill="#fbe2e4" />
<rect x="116.63" y="551.67" width="5.09" height="6.92" fill="#f4666c" />
<rect x="121.23" y="551.67" width="5.09" height="6.92" fill="#f4666c" />
<rect x="130.41" y="551.67" width="5.09" height="6.92" fill="#f4666c" />
<rect x="135.01" y="551.67" width="5.09" height="6.92" fill="#f8b8bc" />
<rect x="75.29" y="558.08" width="5.09" height="6.92" fill="#f4666c" />
<rect x="84.48" y="558.08" width="5.09" height="6.92" fill="#f4666c" />
<rect x="89.07" y="558.08" width="5.09" height="6.92" fill="#f4666c" />
<rect x="93.67" y="558.08" width="5.09" height="6.92" fill="#f4666c" />
<rect x="98.26" y="558.08" width="5.09" height="6.92" fill="#f4666c" />
<rect x="130.41" y="558.08" width="5.09" height="6.92" fill="#f4666c" />
<rect x="135.01" y="558.08" width="5.09" height="6.92" fill="#f4666c" />
<rect x="84.48" y="564.50" width="5.09" height="6.92" fill="#f4666c" />
<rect x="125.82" y="564.50" width="5.09" height="6.92" fill="#f8b8bc" />
<rect x="84.48" y="570.92" width="5.09" height="6.92" fill="#f4666c" />
<rect x="75.29" y="577.33" width="5.09" height="6.92" fill="#f4666c" />
<rect x="79.89" y="577.33" width="5.09" height="6.92" fill="#e6ecf6" />
<rect x="70.70" y="583.75" width="5.09" height="6.92" fill="#4a7cc8" />
<rect x="75.29" y="583.75" width="5.09" height="6.92" fill="#f4666c" />
<rect x="135.01" y="583.75" width="5.09" height="6.92" fill="#f4666c" />
<rect x="70.70" y="590.17" width="5.09" height="6.92" fill="#c8d6ec" />
<rect x="84.48" y="590.17" width="5.09" height="6.92" fill="#f4666c" />
<rect x="116.63" y="590.17" width="5.09" height="6.92" fill="#f48890" />
<rect x="70.70" y="596.58" width="5.09" height="6.92" fill="#4a7cc8" />
<rect x="75.29" y="596.58" width="5.09" height="6.92" fill="#4a7cc8" />
<rect x="79.89" y="596.58" width="5.09" height="6.92" fill="#4a7cc8" />
<rect x="84.48" y="603.00" width="5.09" height="6.92" fill="#f4666c" />
<rect x="98.26" y="603.00" width="5.09" height="6.92" fill="#f4666c" />
<rect x="112.04" y="603.00" width="5.09" height="6.92" fill="#f4666c" />
<rect x="116.63" y="603.00" width="5.09" height="6.92" fill="#f4666c" />
<rect x="121.23" y="603.00" width="5.09" height="6.92" fill="#f4666c" />
<rect x="125.82" y="603.00" width="5.09" height="6.92" fill="#f4666c" />
<rect x="130.41" y="603.00" width="5.09" height="6.92" fill="#f4666c" />
<rect x="135.01" y="603.00" width="5.09" height="6.92" fill="#f4666c" />
<rect x="148.83" y="603.00" width="5.11" height="6.92" fill="#f4666c" />
<rect x="70.70" y="609.42" width="5.09" height="6.92" fill="#f4666c" />
<rect x="75.29" y="609.42" width="5.09" height="6.92" fill="#f4666c" />
<rect x="79.89" y="609.42" width="5.09" height="6.92" fill="#f4666c" />
<rect x="148.83" y="609.42" width="5.11" height="6.92" fill="#f4666c" />
<rect x="153.44" y="609.42" width="5.11" height="6.92" fill="#f4666c" />
<rect x="162.67" y="609.42" width="5.11" height="6.92" fill="#f4666c" />
<rect x="167.28" y="609.42" width="5.11" height="6.92" fill="#f4666c" />
<rect x="171.89" y="609.42" width="5.11" height="6.92" fill="#f4666c" />
<rect x="181.12" y="609.42" width="5.11" height="6.92" fill="#f4666c" />
<rect x="185.73" y="609.42" width="5.11" height="6.92" fill="#f4666c" />
<rect x="190.35" y="609.42" width="5.11" height="6.92" fill="#f4666c" />
<rect x="194.96" y="609.42" width="5.11" height="6.92" fill="#f4666c" />
<rect x="199.57" y="609.42" width="5.11" height="6.92" fill="#f4666c" />
<rect x="75.29" y="615.83" width="5.09" height="6.92" fill="#f4666c" />
<rect x="84.48" y="615.83" width="5.09" height="6.92" fill="#f4666c" />
<rect x="93.67" y="615.83" width="5.09" height="6.92" fill="#f4666c" />
<rect x="98.26" y="615.83" width="5.09" height="6.92" fill="#f4666c" />
<rect x="102.85" y="615.83" width="5.09" height="6.92" fill="#f4666c" />
<rect x="112.04" y="615.83" width="5.09" height="6.92" fill="#fbe2e4" />
<rect x="116.63" y="615.83" width="5.09" height="6.92" fill="#f4666c" />
<rect x="121.23" y="615.83" width="5.09" height="6.92" fill="#fdf2f2" />
<rect x="125.82" y="615.83" width="5.09" height="6.92" fill="#fdf2f2" />
<rect x="130.41" y="615.83" width="5.09" height="6.92" fill="#fdf2f2" />
<rect x="135.01" y="615.83" width="5.09" height="6.92" fill="#fdf2f2" />
<rect x="153.44" y="615.83" width="5.11" height="6.92" fill="#f4666c" />
<rect x="162.67" y="615.83" width="5.11" height="6.92" fill="#f4666c" />
<rect x="167.28" y="615.83" width="5.11" height="6.92" fill="#f4666c" />
<rect x="171.89" y="615.83" width="5.11" height="6.92" fill="#fbe2e4" />
<rect x="181.12" y="615.83" width="5.11" height="6.92" fill="#f4666c" />
<rect x="185.73" y="615.83" width="5.11" height="6.92" fill="#f4666c" />
<rect x="190.35" y="615.83" width="5.11" height="6.92" fill="#fbe2e4" />
<rect x="194.96" y="615.83" width="5.11" height="6.92" fill="#fbe2e4" />
<rect x="199.57" y="615.83" width="5.11" height="6.92" fill="#f8b8bc" />
<rect x="204.19" y="615.83" width="5.11" height="6.92" fill="#f8b8bc" />
<rect x="139.60" y="622.25" width="5.11" height="6.92" fill="#f4666c" />
<rect x="144.21" y="622.25" width="5.11" height="6.92" fill="#f4666c" />
<rect x="139.60" y="628.67" width="5.11" height="6.92" fill="#f4666c" />
<rect x="153.44" y="628.67" width="5.11" height="6.92" fill="#fbe2e4" />
<rect x="185.73" y="628.67" width="5.11" height="6.92" fill="#f8b8bc" />
<rect x="190.35" y="628.67" width="5.11" height="6.92" fill="#f48890" />
<rect x="194.96" y="628.67" width="5.11" height="6.92" fill="#fbe2e4" />
<rect x="139.60" y="635.08" width="5.11" height="6.92" fill="#f4666c" />
<rect x="139.60" y="641.50" width="5.11" height="6.92" fill="#f4666c" />
<rect x="185.73" y="641.50" width="5.11" height="6.92" fill="#f4666c" />
<rect x="190.35" y="641.50" width="5.11" height="6.92" fill="#fbe2e4" />
<rect x="199.57" y="641.50" width="5.11" height="6.92" fill="#f4666c" />
<rect x="148.83" y="647.92" width="5.11" height="6.92" fill="#f8b8bc" />
<rect x="153.44" y="647.92" width="5.11" height="6.92" fill="#f4666c" />
<rect x="185.73" y="647.92" width="5.11" height="6.92" fill="#f4666c" />
<rect x="190.35" y="647.92" width="5.11" height="6.92" fill="#f4666c" />
<rect x="194.96" y="647.92" width="5.11" height="6.92" fill="#f4666c" />
<rect x="199.57" y="647.92" width="5.11" height="6.92" fill="#f4666c" />
<rect x="162.67" y="654.33" width="5.11" height="6.92" fill="#f4666c" />
<rect x="167.28" y="654.33" width="5.11" height="6.92" fill="#f4666c" />
<rect x="171.89" y="654.33" width="5.11" height="6.92" fill="#f4666c" />
<rect x="194.96" y="654.33" width="5.11" height="6.92" fill="#f4666c" />
<rect x="139.60" y="660.75" width="5.11" height="6.92" fill="#4a7cc8" />
<rect x="144.21" y="660.75" width="5.11" height="6.92" fill="#4a7cc8" />
<rect x="148.83" y="660.75" width="5.11" height="6.92" fill="#4a7cc8" />
<rect x="139.60" y="667.17" width="5.11" height="6.92" fill="#4a7cc8" />
<rect x="148.83" y="667.17" width="5.11" height="6.92" fill="#c8d6ec" />
<rect x="153.44" y="667.17" width="5.11" height="6.92" fill="#f8b8bc" />
<rect x="158.05" y="667.17" width="5.11" height="6.92" fill="#98b2dc" />
<rect x="176.51" y="667.17" width="5.11" height="6.92" fill="#4a7cc8" />
<rect x="181.12" y="667.17" width="5.11" height="6.92" fill="#4a7cc8" />
<rect x="194.96" y="667.17" width="5.11" height="6.92" fill="#f8b8bc" />
<rect x="204.19" y="667.17" width="5.11" height="6.92" fill="#98b2dc" />
<rect x="153.44" y="673.58" width="5.11" height="6.92" fill="#4a7cc8" />
<rect x="199.57" y="673.58" width="5.11" height="6.92" fill="#4a7cc8" />
<line x1="70.70" y1="496.90" x2="208.80" y2="496.90" stroke="#5a5a5a" stroke-width="0.8" />
<line x1="70.70" y1="525.40" x2="208.80" y2="525.40" stroke="#8a8a8a" stroke-width="0.8" />
<line x1="139.60" y1="489.70" x2="139.60" y2="525.40" stroke="#5a5a5a" stroke-width="1.0" />
<rect x="70.70" y="489.70" width="138.10" height="190.30" fill="none" stroke="#6a6a6a" stroke-width="0.9"/>
<text x="262.70" y="486.40" font-size="8.1" textLength="73.50" lengthAdjust="spacingAndGlyphs" fill="#222" stroke="#222" stroke-width="0.15" >IB1 (Gutierrez, 2021)</text>
<rect x="230.40" y="489.70" width="69.00" height="7.20" fill="#d2d2d2" />
<text x="240.60" y="495.89" font-size="6.4" textLength="48.10" lengthAdjust="spacingAndGlyphs" fill="#222" stroke="#222" stroke-width="0.15" >From CLL-B cells</text>
<text x="314.00" y="495.89" font-size="6.4" textLength="39.80" lengthAdjust="spacingAndGlyphs" fill="#222" stroke="#222" stroke-width="0.15" >To CLL-B cells</text>
<rect x="230.40" y="520.40" width="5.33" height="4.60" fill="#a6d4f0" />
<rect x="235.33" y="520.40" width="5.33" height="4.60" fill="#3189c9" />
<rect x="240.26" y="520.40" width="4.93" height="4.60" fill="#2a8c9c" />
<text transform="translate(240.01,519.60) rotate(-90)" x="0" y="0" font-size="6.2" textLength="20.20" lengthAdjust="spacingAndGlyphs" fill="#222" stroke="#222" stroke-width="0.15">Myeloid</text>
<line x1="245.19" y1="496.90" x2="245.19" y2="525.00" stroke="#5a5a5a" stroke-width="0.8" />
<rect x="245.19" y="520.40" width="5.33" height="4.60" fill="#e3a3a0" />
<rect x="250.11" y="520.40" width="5.33" height="4.60" fill="#a283d2" />
<rect x="255.04" y="520.40" width="5.33" height="4.60" fill="#6432a2" />
<rect x="259.97" y="520.40" width="4.93" height="4.60" fill="#f0c84a" />
<text transform="translate(257.26,519.60) rotate(-90)" x="0" y="0" font-size="6.2" textLength="10.90" lengthAdjust="spacingAndGlyphs" fill="#222" stroke="#222" stroke-width="0.15">CD4</text>
<line x1="264.90" y1="496.90" x2="264.90" y2="525.00" stroke="#5a5a5a" stroke-width="0.8" />
<rect x="264.90" y="520.40" width="5.33" height="4.60" fill="#f9a04f" />
<rect x="269.83" y="520.40" width="5.33" height="4.60" fill="#f49540" />
<rect x="274.76" y="520.40" width="4.93" height="4.60" fill="#fd8c08" />
<text transform="translate(274.51,519.60) rotate(-90)" x="0" y="0" font-size="6.2" textLength="10.90" lengthAdjust="spacingAndGlyphs" fill="#222" stroke="#222" stroke-width="0.15">CD8</text>
<line x1="279.69" y1="496.90" x2="279.69" y2="525.00" stroke="#5a5a5a" stroke-width="0.8" />
<rect x="279.69" y="520.40" width="5.33" height="4.60" fill="#ea5550" />
<rect x="284.61" y="520.40" width="4.93" height="4.60" fill="#d81f30" />
<text transform="translate(286.83,519.60) rotate(-90)" x="0" y="0" font-size="6.2" textLength="20.50" lengthAdjust="spacingAndGlyphs" fill="#222" stroke="#222" stroke-width="0.15">Other T</text>
<line x1="289.54" y1="496.90" x2="289.54" y2="525.00" stroke="#5a5a5a" stroke-width="0.8" />
<rect x="289.54" y="520.40" width="5.33" height="4.60" fill="#3caa48" />
<rect x="294.47" y="520.40" width="4.93" height="4.60" fill="#2f8a34" />
<text transform="translate(296.69,519.60) rotate(-90)" x="0" y="0" font-size="6.2" textLength="7.50" lengthAdjust="spacingAndGlyphs" fill="#222" stroke="#222" stroke-width="0.15">NK</text>
<rect x="299.40" y="520.40" width="5.36" height="4.60" fill="#a6d4f0" />
<rect x="304.36" y="520.40" width="5.36" height="4.60" fill="#3189c9" />
<rect x="309.31" y="520.40" width="4.96" height="4.60" fill="#2a8c9c" />
<text transform="translate(309.06,519.60) rotate(-90)" x="0" y="0" font-size="6.2" textLength="20.20" lengthAdjust="spacingAndGlyphs" fill="#222" stroke="#222" stroke-width="0.15">Myeloid</text>
<line x1="314.27" y1="496.90" x2="314.27" y2="525.00" stroke="#5a5a5a" stroke-width="0.8" />
<rect x="314.27" y="520.40" width="5.36" height="4.60" fill="#e3a3a0" />
<rect x="319.23" y="520.40" width="5.36" height="4.60" fill="#a283d2" />
<rect x="324.19" y="520.40" width="5.36" height="4.60" fill="#6432a2" />
<rect x="329.14" y="520.40" width="4.96" height="4.60" fill="#f0c84a" />
<text transform="translate(326.41,519.60) rotate(-90)" x="0" y="0" font-size="6.2" textLength="10.90" lengthAdjust="spacingAndGlyphs" fill="#222" stroke="#222" stroke-width="0.15">CD4</text>
<line x1="334.10" y1="496.90" x2="334.10" y2="525.00" stroke="#5a5a5a" stroke-width="0.8" />
<rect x="334.10" y="520.40" width="5.36" height="4.60" fill="#f9a04f" />
<rect x="339.06" y="520.40" width="5.36" height="4.60" fill="#f49540" />
<rect x="344.01" y="520.40" width="4.96" height="4.60" fill="#fd8c08" />
<text transform="translate(343.76,519.60) rotate(-90)" x="0" y="0" font-size="6.2" textLength="10.90" lengthAdjust="spacingAndGlyphs" fill="#222" stroke="#222" stroke-width="0.15">CD8</text>
<line x1="348.97" y1="496.90" x2="348.97" y2="525.00" stroke="#5a5a5a" stroke-width="0.8" />
<rect x="348.97" y="520.40" width="5.36" height="4.60" fill="#ea5550" />
<rect x="353.93" y="520.40" width="4.96" height="4.60" fill="#d81f30" />
<text transform="translate(356.15,519.60) rotate(-90)" x="0" y="0" font-size="6.2" textLength="20.50" lengthAdjust="spacingAndGlyphs" fill="#222" stroke="#222" stroke-width="0.15">Other T</text>
<line x1="358.89" y1="496.90" x2="358.89" y2="525.00" stroke="#5a5a5a" stroke-width="0.8" />
<rect x="358.89" y="520.40" width="5.36" height="4.60" fill="#3caa48" />
<rect x="363.84" y="520.40" width="4.96" height="4.60" fill="#2f8a34" />
<text transform="translate(366.06,519.60) rotate(-90)" x="0" y="0" font-size="6.2" textLength="7.50" lengthAdjust="spacingAndGlyphs" fill="#222" stroke="#222" stroke-width="0.15">NK</text>
<rect x="230.40" y="526.00" width="5.43" height="6.92" fill="#4a7cc8" />
<rect x="235.33" y="526.00" width="5.43" height="6.92" fill="#4a7cc8" />
<rect x="240.26" y="526.00" width="5.43" height="6.92" fill="#4a7cc8" />
<rect x="245.19" y="526.00" width="5.43" height="6.92" fill="#98b2dc" />
<rect x="250.11" y="526.00" width="5.43" height="6.92" fill="#4a7cc8" />
<rect x="255.04" y="526.00" width="5.43" height="6.92" fill="#c8d6ec" />
<rect x="259.97" y="526.00" width="5.43" height="6.92" fill="#e6ecf6" />
<rect x="264.90" y="526.00" width="5.43" height="6.92" fill="#4a7cc8" />
<rect x="274.76" y="526.00" width="5.43" height="6.92" fill="#4a7cc8" />
<rect x="279.69" y="526.00" width="5.43" height="6.92" fill="#e6ecf6" />
<rect x="284.61" y="526.00" width="5.43" height="6.92" fill="#4a7cc8" />
<rect x="289.54" y="526.00" width="5.43" height="6.92" fill="#4a7cc8" />
<rect x="294.47" y="526.00" width="5.43" height="6.92" fill="#4a7cc8" />
<rect x="230.40" y="538.83" width="5.43" height="6.92" fill="#4a7cc8" />
<rect x="235.33" y="538.83" width="5.43" height="6.92" fill="#4a7cc8" />
<rect x="240.26" y="538.83" width="5.43" height="6.92" fill="#4a7cc8" />
<rect x="230.40" y="545.25" width="5.43" height="6.92" fill="#c8d6ec" />
<rect x="240.26" y="545.25" width="5.43" height="6.92" fill="#4a7cc8" />
<rect x="230.40" y="551.67" width="5.43" height="6.92" fill="#98b2dc" />
<rect x="235.33" y="551.67" width="5.43" height="6.92" fill="#4a7cc8" />
<rect x="255.04" y="551.67" width="5.43" height="6.92" fill="#e6ecf6" />
<rect x="274.76" y="551.67" width="5.43" height="6.92" fill="#4a7cc8" />
<rect x="284.61" y="551.67" width="5.43" height="6.92" fill="#e6ecf6" />
<rect x="289.54" y="551.67" width="5.43" height="6.92" fill="#4a7cc8" />
<rect x="294.47" y="551.67" width="5.43" height="6.92" fill="#e6ecf6" />
<rect x="230.40" y="564.50" width="5.43" height="6.92" fill="#4a7cc8" />
<rect x="240.26" y="564.50" width="5.43" height="6.92" fill="#e6ecf6" />
<rect x="245.19" y="564.50" width="5.43" height="6.92" fill="#98b2dc" />
<rect x="250.11" y="564.50" width="5.43" height="6.92" fill="#98b2dc" />
<rect x="255.04" y="564.50" width="5.43" height="6.92" fill="#c8d6ec" />
<rect x="259.97" y="564.50" width="5.43" height="6.92" fill="#4a7cc8" />
<rect x="269.83" y="564.50" width="5.43" height="6.92" fill="#e6ecf6" />
<rect x="274.76" y="564.50" width="5.43" height="6.92" fill="#4a7cc8" />
<rect x="279.69" y="564.50" width="5.43" height="6.92" fill="#c8d6ec" />
<rect x="284.61" y="564.50" width="5.43" height="6.92" fill="#98b2dc" />
<rect x="294.47" y="564.50" width="5.43" height="6.92" fill="#e6ecf6" />
<rect x="230.40" y="583.75" width="5.43" height="6.92" fill="#4a7cc8" />
<rect x="235.33" y="583.75" width="5.43" height="6.92" fill="#4a7cc8" />
<rect x="240.26" y="583.75" width="5.43" height="6.92" fill="#4a7cc8" />
<rect x="289.54" y="583.75" width="5.43" height="6.92" fill="#4a7cc8" />
<rect x="230.40" y="590.17" width="5.43" height="6.92" fill="#c8d6ec" />
<rect x="235.33" y="590.17" width="5.43" height="6.92" fill="#4a7cc8" />
<rect x="255.04" y="590.17" width="5.43" height="6.92" fill="#e6ecf6" />
<rect x="274.76" y="590.17" width="5.43" height="6.92" fill="#4a7cc8" />
<rect x="289.54" y="590.17" width="5.43" height="6.92" fill="#4a7cc8" />
<rect x="294.47" y="590.17" width="5.43" height="6.92" fill="#e6ecf6" />
<rect x="240.26" y="603.00" width="5.43" height="6.92" fill="#f4666c" />
<rect x="269.83" y="603.00" width="5.43" height="6.92" fill="#f4666c" />
<rect x="274.76" y="603.00" width="5.43" height="6.92" fill="#4a7cc8" />
<rect x="289.54" y="603.00" width="5.43" height="6.92" fill="#4a7cc8" />
<rect x="299.40" y="603.00" width="5.46" height="6.92" fill="#4a7cc8" />
<rect x="304.36" y="603.00" width="5.46" height="6.92" fill="#4a7cc8" />
<rect x="309.31" y="603.00" width="5.46" height="6.92" fill="#4a7cc8" />
<rect x="299.40" y="609.42" width="5.46" height="6.92" fill="#4a7cc8" />
<rect x="304.36" y="609.42" width="5.46" height="6.92" fill="#4a7cc8" />
<rect x="235.33" y="615.83" width="5.43" height="6.92" fill="#4a7cc8" />
<rect x="245.19" y="615.83" width="5.43" height="6.92" fill="#e6ecf6" />
<rect x="250.11" y="615.83" width="5.43" height="6.92" fill="#e6ecf6" />
<rect x="259.97" y="615.83" width="5.43" height="6.92" fill="#c8d6ec" />
<rect x="269.83" y="615.83" width="5.43" height="6.92" fill="#c8d6ec" />
<rect x="274.76" y="615.83" width="5.43" height="6.92" fill="#c8d6ec" />
<rect x="279.69" y="615.83" width="5.43" height="6.92" fill="#e6ecf6" />
<rect x="289.54" y="615.83" width="5.43" height="6.92" fill="#c8d6ec" />
<rect x="309.31" y="615.83" width="5.46" height="6.92" fill="#fbe2e4" />
<rect x="319.23" y="615.83" width="5.46" height="6.92" fill="#4a7cc8" />
<rect x="329.14" y="615.83" width="5.46" height="6.92" fill="#4a7cc8" />
<rect x="334.10" y="615.83" width="5.46" height="6.92" fill="#c8d6ec" />
<rect x="339.06" y="615.83" width="5.46" height="6.92" fill="#c8d6ec" />
<rect x="348.97" y="615.83" width="5.46" height="6.92" fill="#98b2dc" />
<rect x="358.89" y="673.58" width="5.46" height="6.92" fill="#f4666c" />
<line x1="230.40" y1="496.90" x2="368.80" y2="496.90" stroke="#5a5a5a" stroke-width="0.8" />
<line x1="230.40" y1="525.40" x2="368.80" y2="525.40" stroke="#8a8a8a" stroke-width="0.8" />
<line x1="299.40" y1="489.70" x2="299.40" y2="525.40" stroke="#5a5a5a" stroke-width="1.0" />
<rect x="230.40" y="489.70" width="138.40" height="190.30" fill="none" stroke="#6a6a6a" stroke-width="0.9"/>
<text x="401.90" y="486.40" font-size="8.1" textLength="77.50" lengthAdjust="spacingAndGlyphs" fill="#222" stroke="#222" stroke-width="0.15" >CLL6 (Rendeiro, 2020)</text>
<rect x="371.90" y="489.70" width="68.60" height="7.20" fill="#d2d2d2" />
<text x="382.70" y="495.89" font-size="6.4" textLength="47.70" lengthAdjust="spacingAndGlyphs" fill="#222" stroke="#222" stroke-width="0.15" >From CLL-B cells</text>
<text x="455.40" y="495.89" font-size="6.4" textLength="40.40" lengthAdjust="spacingAndGlyphs" fill="#222" stroke="#222" stroke-width="0.15" >To CLL-B cells</text>
<rect x="371.90" y="520.40" width="7.26" height="4.60" fill="#a6d4f0" />
<rect x="378.76" y="520.40" width="6.86" height="4.60" fill="#3189c9" />
<text transform="translate(380.98,519.60) rotate(-90)" x="0" y="0" font-size="6.2" textLength="20.20" lengthAdjust="spacingAndGlyphs" fill="#222" stroke="#222" stroke-width="0.15">Myeloid</text>
<line x1="385.62" y1="496.90" x2="385.62" y2="525.00" stroke="#5a5a5a" stroke-width="0.8" />
<rect x="385.62" y="520.40" width="7.26" height="4.60" fill="#d8c890" />
<rect x="392.48" y="520.40" width="7.26" height="4.60" fill="#a283d2" />
<rect x="399.34" y="520.40" width="7.26" height="4.60" fill="#6432a2" />
<rect x="406.20" y="520.40" width="6.86" height="4.60" fill="#f0c84a" />
<text transform="translate(401.56,519.60) rotate(-90)" x="0" y="0" font-size="6.2" textLength="10.90" lengthAdjust="spacingAndGlyphs" fill="#222" stroke="#222" stroke-width="0.15">CD4</text>
<line x1="413.06" y1="496.90" x2="413.06" y2="525.00" stroke="#5a5a5a" stroke-width="0.8" />
<rect x="413.06" y="520.40" width="7.26" height="4.60" fill="#f9a04f" />
<rect x="419.92" y="520.40" width="6.86" height="4.60" fill="#fd8c08" />
<text transform="translate(422.14,519.60) rotate(-90)" x="0" y="0" font-size="6.2" textLength="10.90" lengthAdjust="spacingAndGlyphs" fill="#222" stroke="#222" stroke-width="0.15">CD8</text>
<line x1="426.78" y1="496.90" x2="426.78" y2="525.00" stroke="#5a5a5a" stroke-width="0.8" />
<rect x="426.78" y="520.40" width="6.86" height="4.60" fill="#ea5550" />
<text transform="translate(432.43,519.60) rotate(-90)" x="0" y="0" font-size="6.2" textLength="9.00" lengthAdjust="spacingAndGlyphs" fill="#222" stroke="#222" stroke-width="0.15">gdT</text>
<line x1="433.64" y1="496.90" x2="433.64" y2="525.00" stroke="#5a5a5a" stroke-width="0.8" />
<rect x="433.64" y="520.40" width="6.86" height="4.60" fill="#3caa48" />
<text transform="translate(439.29,519.60) rotate(-90)" x="0" y="0" font-size="6.2" textLength="7.50" lengthAdjust="spacingAndGlyphs" fill="#222" stroke="#222" stroke-width="0.15">NK</text>
<rect x="440.50" y="520.40" width="7.37" height="4.60" fill="#a6d4f0" />
<rect x="447.47" y="520.40" width="6.97" height="4.60" fill="#3189c9" />
<text transform="translate(449.69,519.60) rotate(-90)" x="0" y="0" font-size="6.2" textLength="20.20" lengthAdjust="spacingAndGlyphs" fill="#222" stroke="#222" stroke-width="0.15">Myeloid</text>
<line x1="454.44" y1="496.90" x2="454.44" y2="525.00" stroke="#5a5a5a" stroke-width="0.8" />
<rect x="454.44" y="520.40" width="7.37" height="4.60" fill="#d8c890" />
<rect x="461.41" y="520.40" width="7.37" height="4.60" fill="#a283d2" />
<rect x="468.38" y="520.40" width="7.37" height="4.60" fill="#6432a2" />
<rect x="475.35" y="520.40" width="6.97" height="4.60" fill="#f0c84a" />
<text transform="translate(470.60,519.60) rotate(-90)" x="0" y="0" font-size="6.2" textLength="10.90" lengthAdjust="spacingAndGlyphs" fill="#222" stroke="#222" stroke-width="0.15">CD4</text>
<line x1="482.32" y1="496.90" x2="482.32" y2="525.00" stroke="#5a5a5a" stroke-width="0.8" />
<rect x="482.32" y="520.40" width="7.37" height="4.60" fill="#f9a04f" />
<rect x="489.29" y="520.40" width="6.97" height="4.60" fill="#fd8c08" />
<text transform="translate(491.51,519.60) rotate(-90)" x="0" y="0" font-size="6.2" textLength="10.90" lengthAdjust="spacingAndGlyphs" fill="#222" stroke="#222" stroke-width="0.15">CD8</text>
<line x1="496.26" y1="496.90" x2="496.26" y2="525.00" stroke="#5a5a5a" stroke-width="0.8" />
<rect x="496.26" y="520.40" width="6.97" height="4.60" fill="#ea5550" />
<text transform="translate(501.96,519.60) rotate(-90)" x="0" y="0" font-size="6.2" textLength="9.00" lengthAdjust="spacingAndGlyphs" fill="#222" stroke="#222" stroke-width="0.15">gdT</text>
<line x1="503.23" y1="496.90" x2="503.23" y2="525.00" stroke="#5a5a5a" stroke-width="0.8" />
<rect x="503.23" y="520.40" width="6.97" height="4.60" fill="#3caa48" />
<text transform="translate(508.93,519.60) rotate(-90)" x="0" y="0" font-size="6.2" textLength="7.50" lengthAdjust="spacingAndGlyphs" fill="#222" stroke="#222" stroke-width="0.15">NK</text>
<rect x="371.90" y="526.00" width="7.36" height="6.92" fill="#4a7cc8" />
<rect x="378.76" y="526.00" width="7.36" height="6.92" fill="#4a7cc8" />
<rect x="385.62" y="526.00" width="7.36" height="6.92" fill="#98b2dc" />
<rect x="392.48" y="526.00" width="7.36" height="6.92" fill="#4a7cc8" />
<rect x="399.34" y="526.00" width="7.36" height="6.92" fill="#e6ecf6" />
<rect x="413.06" y="526.00" width="7.36" height="6.92" fill="#e6ecf6" />
<rect x="419.92" y="526.00" width="7.36" height="6.92" fill="#4a7cc8" />
<rect x="426.78" y="526.00" width="7.36" height="6.92" fill="#4a7cc8" />
<rect x="433.64" y="526.00" width="7.36" height="6.92" fill="#4a7cc8" />
<rect x="371.90" y="532.42" width="7.36" height="6.92" fill="#4a7cc8" />
<rect x="378.76" y="532.42" width="7.36" height="6.92" fill="#4a7cc8" />
<rect x="385.62" y="532.42" width="7.36" height="6.92" fill="#c8d6ec" />
<rect x="392.48" y="532.42" width="7.36" height="6.92" fill="#98b2dc" />
<rect x="399.34" y="532.42" width="7.36" height="6.92" fill="#e6ecf6" />
<rect x="406.20" y="532.42" width="7.36" height="6.92" fill="#c8d6ec" />
<rect x="413.06" y="532.42" width="7.36" height="6.92" fill="#c8d6ec" />
<rect x="419.92" y="532.42" width="7.36" height="6.92" fill="#4a7cc8" />
<rect x="426.78" y="532.42" width="7.36" height="6.92" fill="#4a7cc8" />
<rect x="433.64" y="532.42" width="7.36" height="6.92" fill="#c8d6ec" />
<rect x="482.32" y="532.42" width="7.47" height="6.92" fill="#c8d6ec" />
<rect x="378.76" y="551.67" width="7.36" height="6.92" fill="#4a7cc8" />
<rect x="385.62" y="551.67" width="7.36" height="6.92" fill="#4a7cc8" />
<rect x="399.34" y="551.67" width="7.36" height="6.92" fill="#4a7cc8" />
<rect x="413.06" y="551.67" width="7.36" height="6.92" fill="#f8b8bc" />
<rect x="426.78" y="551.67" width="7.36" height="6.92" fill="#98b2dc" />
<rect x="392.48" y="558.08" width="7.36" height="6.92" fill="#4a7cc8" />
<rect x="399.34" y="558.08" width="7.36" height="6.92" fill="#98b2dc" />
<rect x="413.06" y="558.08" width="7.36" height="6.92" fill="#98b2dc" />
<rect x="426.78" y="558.08" width="7.36" height="6.92" fill="#4a7cc8" />
<rect x="433.64" y="558.08" width="7.36" height="6.92" fill="#4a7cc8" />
<rect x="371.90" y="564.50" width="7.36" height="6.92" fill="#4a7cc8" />
<rect x="378.76" y="564.50" width="7.36" height="6.92" fill="#4a7cc8" />
<rect x="385.62" y="564.50" width="7.36" height="6.92" fill="#4a7cc8" />
<rect x="392.48" y="564.50" width="7.36" height="6.92" fill="#4a7cc8" />
<rect x="399.34" y="564.50" width="7.36" height="6.92" fill="#c8d6ec" />
<rect x="406.20" y="564.50" width="7.36" height="6.92" fill="#98b2dc" />
<rect x="419.92" y="564.50" width="7.36" height="6.92" fill="#4a7cc8" />
<rect x="426.78" y="564.50" width="7.36" height="6.92" fill="#98b2dc" />
<rect x="433.64" y="564.50" width="7.36" height="6.92" fill="#4a7cc8" />
<rect x="392.48" y="570.92" width="7.36" height="6.92" fill="#f4666c" />
<rect x="371.90" y="577.33" width="7.36" height="6.92" fill="#f4666c" />
<rect x="378.76" y="583.75" width="7.36" height="6.92" fill="#4a7cc8" />
<rect x="433.64" y="583.75" width="7.36" height="6.92" fill="#4a7cc8" />
<rect x="378.76" y="603.00" width="7.36" height="6.92" fill="#4a7cc8" />
<rect x="385.62" y="603.00" width="7.36" height="6.92" fill="#4a7cc8" />
<rect x="399.34" y="603.00" width="7.36" height="6.92" fill="#4a7cc8" />
<rect x="371.90" y="609.42" width="7.36" height="6.92" fill="#4a7cc8" />
<rect x="378.76" y="609.42" width="7.36" height="6.92" fill="#4a7cc8" />
<rect x="406.20" y="609.42" width="7.36" height="6.92" fill="#e6ecf6" />
<rect x="454.44" y="609.42" width="7.47" height="6.92" fill="#fbe2e4" />
<rect x="461.41" y="609.42" width="7.47" height="6.92" fill="#4a7cc8" />
<rect x="475.35" y="609.42" width="7.47" height="6.92" fill="#98b2dc" />
<rect x="489.29" y="609.42" width="7.47" height="6.92" fill="#4a7cc8" />
<rect x="496.26" y="609.42" width="7.47" height="6.92" fill="#4a7cc8" />
<rect x="503.23" y="609.42" width="7.47" height="6.92" fill="#98b2dc" />
<rect x="371.90" y="615.83" width="7.36" height="6.92" fill="#98b2dc" />
<rect x="378.76" y="615.83" width="7.36" height="6.92" fill="#4a7cc8" />
<rect x="385.62" y="615.83" width="7.36" height="6.92" fill="#4a7cc8" />
<rect x="392.48" y="615.83" width="7.36" height="6.92" fill="#98b2dc" />
<rect x="399.34" y="615.83" width="7.36" height="6.92" fill="#e6ecf6" />
<rect x="406.20" y="615.83" width="7.36" height="6.92" fill="#c8d6ec" />
<rect x="413.06" y="615.83" width="7.36" height="6.92" fill="#c8d6ec" />
<rect x="419.92" y="615.83" width="7.36" height="6.92" fill="#98b2dc" />
<rect x="426.78" y="615.83" width="7.36" height="6.92" fill="#4a7cc8" />
<rect x="433.64" y="615.83" width="7.36" height="6.92" fill="#4a7cc8" />
<rect x="440.50" y="615.83" width="7.47" height="6.92" fill="#e6ecf6" />
<rect x="447.47" y="615.83" width="7.47" height="6.92" fill="#e6ecf6" />
<rect x="454.44" y="615.83" width="7.47" height="6.92" fill="#c8d6ec" />
<rect x="461.41" y="615.83" width="7.47" height="6.92" fill="#4a7cc8" />
<rect x="468.38" y="615.83" width="7.47" height="6.92" fill="#c8d6ec" />
<rect x="475.35" y="615.83" width="7.47" height="6.92" fill="#c8d6ec" />
<rect x="482.32" y="615.83" width="7.47" height="6.92" fill="#4a7cc8" />
<rect x="489.29" y="615.83" width="7.47" height="6.92" fill="#4a7cc8" />
<rect x="496.26" y="615.83" width="7.47" height="6.92" fill="#98b2dc" />
<rect x="503.23" y="615.83" width="7.47" height="6.92" fill="#e6ecf6" />
<rect x="440.50" y="628.67" width="7.47" height="6.92" fill="#f4666c" />
<rect x="440.50" y="647.92" width="7.47" height="6.92" fill="#98b2dc" />
<rect x="447.47" y="647.92" width="7.47" height="6.92" fill="#4a7cc8" />
<rect x="454.44" y="647.92" width="7.47" height="6.92" fill="#4a7cc8" />
<rect x="475.35" y="647.92" width="7.47" height="6.92" fill="#98b2dc" />
<rect x="489.29" y="647.92" width="7.47" height="6.92" fill="#4a7cc8" />
<rect x="496.26" y="647.92" width="7.47" height="6.92" fill="#fbe2e4" />
<rect x="503.23" y="647.92" width="7.47" height="6.92" fill="#4a7cc8" />
<rect x="440.50" y="667.17" width="7.47" height="6.92" fill="#e6ecf6" />
<rect x="447.47" y="667.17" width="7.47" height="6.92" fill="#4a7cc8" />
<rect x="454.44" y="667.17" width="7.47" height="6.92" fill="#98b2dc" />
<rect x="461.41" y="667.17" width="7.47" height="6.92" fill="#c8d6ec" />
<rect x="468.38" y="667.17" width="7.47" height="6.92" fill="#c8d6ec" />
<rect x="475.35" y="667.17" width="7.47" height="6.92" fill="#e6ecf6" />
<rect x="482.32" y="667.17" width="7.47" height="6.92" fill="#e6ecf6" />
<rect x="489.29" y="667.17" width="7.47" height="6.92" fill="#4a7cc8" />
<rect x="496.26" y="667.17" width="7.47" height="6.92" fill="#4a7cc8" />
<rect x="503.23" y="667.17" width="7.47" height="6.92" fill="#4a7cc8" />
<line x1="371.90" y1="496.90" x2="510.20" y2="496.90" stroke="#5a5a5a" stroke-width="0.8" />
<line x1="371.90" y1="525.40" x2="510.20" y2="525.40" stroke="#8a8a8a" stroke-width="0.8" />
<line x1="440.50" y1="489.70" x2="440.50" y2="525.40" stroke="#5a5a5a" stroke-width="1.0" />
<rect x="371.90" y="489.70" width="138.30" height="190.30" fill="none" stroke="#6a6a6a" stroke-width="0.9"/>
<text x="29.70" y="530.84" font-size="6.5" textLength="38.60" lengthAdjust="spacingAndGlyphs" font-style="italic" fill="#222" stroke="#222" stroke-width="0.15" >LILRA4_BST2</text>
<text x="19.30" y="537.25" font-size="6.5" textLength="49.00" lengthAdjust="spacingAndGlyphs" font-style="italic" fill="#222" stroke="#222" stroke-width="0.15" >BTLA_TNFRSF14</text>
<text x="29.10" y="543.67" font-size="6.5" textLength="39.20" lengthAdjust="spacingAndGlyphs" font-style="italic" fill="#222" stroke="#222" stroke-width="0.15" >CTLA4_CD86</text>
<text x="27.90" y="550.09" font-size="6.5" textLength="40.40" lengthAdjust="spacingAndGlyphs" font-style="italic" fill="#222" stroke="#222" stroke-width="0.15" >CD44_HBEGF</text>
<text x="8.60" y="556.50" font-size="6.5" textLength="59.70" lengthAdjust="spacingAndGlyphs" font-style="italic" fill="#222" stroke="#222" stroke-width="0.15" >ICAM3_a<tspan font-size="4" dy="1.2">L</tspan><tspan dy="-1.2">b</tspan><tspan font-size="4" dy="1.2">2</tspan><tspan dy="-1.2"> complex</tspan></text>
<text x="22.50" y="562.92" font-size="6.5" textLength="45.80" lengthAdjust="spacingAndGlyphs" font-style="italic" fill="#222" stroke="#222" stroke-width="0.15" >CD72_SEMA4D</text>
<text x="28.80" y="569.34" font-size="6.5" textLength="39.50" lengthAdjust="spacingAndGlyphs" font-style="italic" fill="#222" stroke="#222" stroke-width="0.15" >SELL_SELPLG</text>
<text x="24.10" y="575.75" font-size="6.5" textLength="44.20" lengthAdjust="spacingAndGlyphs" font-style="italic" fill="#222" stroke="#222" stroke-width="0.15" >CD40_CD40LG</text>
<text x="30.90" y="582.17" font-size="6.5" textLength="37.40" lengthAdjust="spacingAndGlyphs" font-style="italic" fill="#222" stroke="#222" stroke-width="0.15" >GRN_SORT1</text>
<text x="17.40" y="588.59" font-size="6.5" textLength="50.90" lengthAdjust="spacingAndGlyphs" font-style="italic" fill="#222" stroke="#222" stroke-width="0.15" >LGALS9_HAVCR2</text>
<text x="8.60" y="595.00" font-size="6.5" textLength="59.70" lengthAdjust="spacingAndGlyphs" font-style="italic" fill="#222" stroke="#222" stroke-width="0.15" >ICAM2_a<tspan font-size="4" dy="1.2">L</tspan><tspan dy="-1.2">b</tspan><tspan font-size="4" dy="1.2">2</tspan><tspan dy="-1.2"> complex</tspan></text>
<text x="28.50" y="601.42" font-size="6.5" textLength="39.80" lengthAdjust="spacingAndGlyphs" font-style="italic" fill="#222" stroke="#222" stroke-width="0.15" >LAIR1_LILRB4</text>
<text x="30.90" y="607.84" font-size="6.5" textLength="37.40" lengthAdjust="spacingAndGlyphs" font-style="italic" fill="#222" stroke="#222" stroke-width="0.15" >CD74_COPA</text>
<text x="21.00" y="614.25" font-size="6.5" textLength="47.30" lengthAdjust="spacingAndGlyphs" font-style="italic" fill="#222" stroke="#222" stroke-width="0.15" >TNFRSF1B_GRN</text>
<text x="23.70" y="620.67" font-size="6.5" textLength="44.60" lengthAdjust="spacingAndGlyphs" font-style="italic" fill="#222" stroke="#222" stroke-width="0.15" >MIF_TNFRSF14</text>
<text x="22.50" y="627.09" font-size="6.5" textLength="45.80" lengthAdjust="spacingAndGlyphs" font-style="italic" fill="#222" stroke="#222" stroke-width="0.15" >TNF_TNFRSF1B</text>
<text x="32.00" y="633.50" font-size="6.5" textLength="36.30" lengthAdjust="spacingAndGlyphs" font-style="italic" fill="#222" stroke="#222" stroke-width="0.15" >CCL4_CNR2</text>
<text x="37.20" y="639.92" font-size="6.5" textLength="31.10" lengthAdjust="spacingAndGlyphs" font-style="italic" fill="#222" stroke="#222" stroke-width="0.15" >NRG1_LSR</text>
<text x="29.70" y="646.34" font-size="6.5" textLength="38.60" lengthAdjust="spacingAndGlyphs" font-style="italic" fill="#222" stroke="#222" stroke-width="0.15" >CCL4L2_VSIR</text>
<text x="20.50" y="652.75" font-size="6.5" textLength="47.80" lengthAdjust="spacingAndGlyphs" font-style="italic" fill="#222" stroke="#222" stroke-width="0.15" >TNFRSF1A_GRN</text>
<text x="32.00" y="659.17" font-size="6.5" textLength="36.30" lengthAdjust="spacingAndGlyphs" font-style="italic" fill="#222" stroke="#222" stroke-width="0.15" >CD28_CD86</text>
<text x="38.60" y="665.59" font-size="6.5" textLength="29.70" lengthAdjust="spacingAndGlyphs" font-style="italic" fill="#222" stroke="#222" stroke-width="0.15" >LTBR_LTB</text>
<text x="29.10" y="672.00" font-size="6.5" textLength="39.20" lengthAdjust="spacingAndGlyphs" font-style="italic" fill="#222" stroke="#222" stroke-width="0.15" >PTPRC_CD22</text>
<text x="16.60" y="678.42" font-size="6.5" textLength="51.70" lengthAdjust="spacingAndGlyphs" font-style="italic" fill="#222" stroke="#222" stroke-width="0.15" >ADGRG5_FAM3C</text>
<linearGradient id="gG" x1="0" x2="1" y1="0" y2="0"><stop offset="0" stop-color="#4a7cc8"/><stop offset="0.5" stop-color="#ffffff"/><stop offset="1" stop-color="#ee5a62"/></linearGradient>
<text x="74.60" y="693.27" font-size="6.9" textLength="46.90" lengthAdjust="spacingAndGlyphs" fill="#222" stroke="#222" stroke-width="0.15" >Enriched in: HDs</text>
<rect x="124.60" y="688.50" width="52.30" height="5.00" fill="url(#gG)" stroke="#777" stroke-width="0.4"/>
<line x1="138.00" y1="692.00" x2="138.00" y2="694.00" stroke="#555" stroke-width="0.5" />
<line x1="151.00" y1="692.00" x2="151.00" y2="694.00" stroke="#555" stroke-width="0.5" />
<line x1="164.00" y1="692.00" x2="164.00" y2="694.00" stroke="#555" stroke-width="0.5" />
<text x="125.80" y="687.36" font-size="6.6" text-anchor="middle" fill="#222" stroke="#222" stroke-width="0.15" >−4</text>
<text x="176.30" y="687.36" font-size="6.6" text-anchor="middle" fill="#222" stroke="#222" stroke-width="0.15" >4</text>
<text x="178.50" y="693.27" font-size="6.9" textLength="23.70" lengthAdjust="spacingAndGlyphs" fill="#222" stroke="#222" stroke-width="0.15" >Patients</text>
<text x="126.90" y="701.77" font-size="6.9" textLength="47.90" lengthAdjust="spacingAndGlyphs" fill="#222" stroke="#222" stroke-width="0.15" >Δ-log10(p-value)</text>
<text x="294.60" y="693.97" font-size="6.9" textLength="68.60" lengthAdjust="spacingAndGlyphs" fill="#222" stroke="#222" stroke-width="0.15" >Post ibrutinib: Depleted</text>
<rect x="366.30" y="688.50" width="52.30" height="5.30" fill="url(#gG)" stroke="#777" stroke-width="0.4"/>
<line x1="379.50" y1="692.00" x2="379.50" y2="694.00" stroke="#555" stroke-width="0.5" />
<line x1="392.50" y1="692.00" x2="392.50" y2="694.00" stroke="#555" stroke-width="0.5" />
<line x1="405.50" y1="692.00" x2="405.50" y2="694.00" stroke="#555" stroke-width="0.5" />
<text x="366.60" y="686.16" font-size="6.6" text-anchor="middle" fill="#222" stroke="#222" stroke-width="0.15" >−4</text>
<text x="417.70" y="686.16" font-size="6.6" text-anchor="middle" fill="#222" stroke="#222" stroke-width="0.15" >4</text>
<text x="420.80" y="693.97" font-size="6.9" textLength="24.60" lengthAdjust="spacingAndGlyphs" fill="#222" stroke="#222" stroke-width="0.15" >Enriched</text>
<text x="368.50" y="702.67" font-size="6.9" textLength="48.30" lengthAdjust="spacingAndGlyphs" fill="#222" stroke="#222" stroke-width="0.15" >Δ-log10(p-value)</text>
<rect x="0.00" y="0.00" width="520.00" height="1.15" fill="#000" />
<rect x="0.00" y="0.00" width="1.15" height="710.00" fill="#000" />
<rect x="518.85" y="0.00" width="1.15" height="710.00" fill="#000" />
<rect x="0.00" y="708.70" width="520.00" height="1.30" fill="#000" />
</svg></body></html>
